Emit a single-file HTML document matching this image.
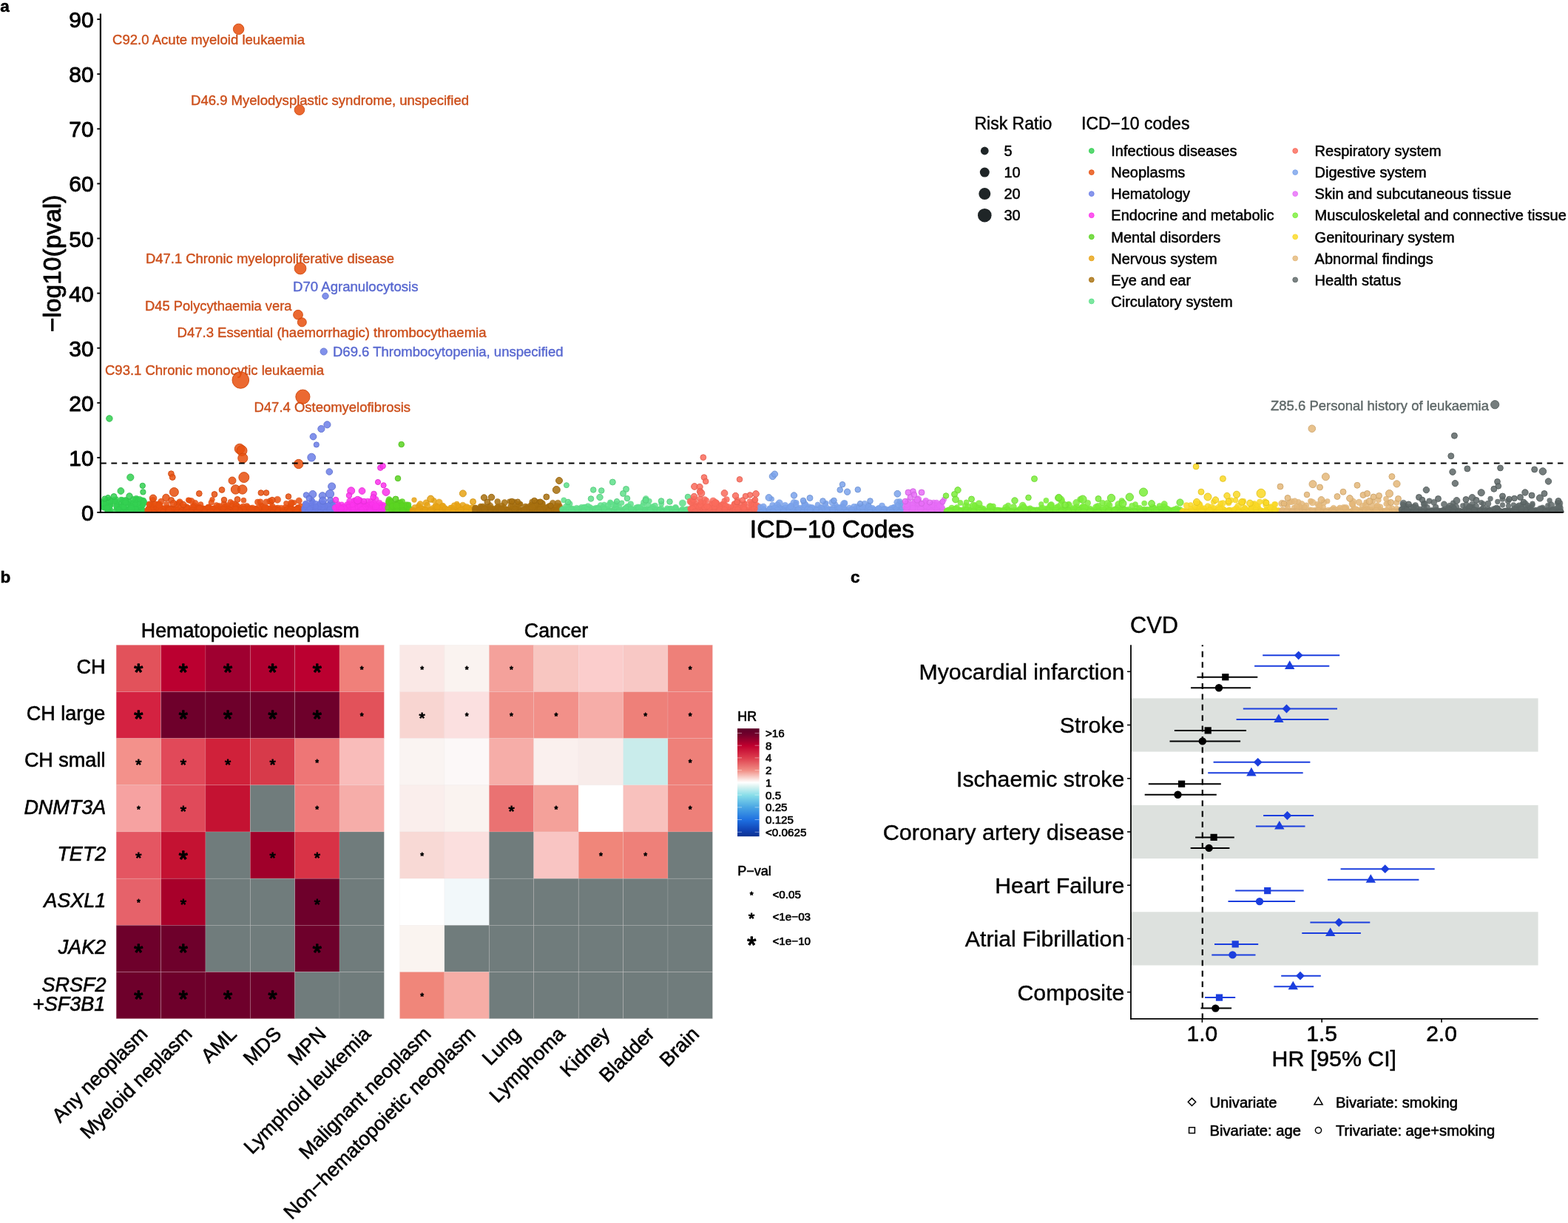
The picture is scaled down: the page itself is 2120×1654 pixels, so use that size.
<!DOCTYPE html>
<html lang="en">
<head>
<meta charset="utf-8">
<title>Clonal haematopoiesis: phenome-wide associations, neoplasm and CVD risk</title>
<style>
html,body{margin:0;padding:0;background:#fff;}
body{width:2120px;height:1654px;overflow:hidden;}
svg{display:block;font-family:"Liberation Sans", Arial, Helvetica, sans-serif;}
svg text{stroke:#000;stroke-linejoin:round;}
.p circle{fill-opacity:.86;stroke-opacity:.9;stroke-width:1;}
.q circle{fill-opacity:.86;stroke-opacity:.55;stroke-width:.8;}
</style>
</head>
<body>
<svg width="2120" height="1654" viewBox="0 0 2120 1654">
<rect width="2120" height="1654" fill="#fff"/>
<g id="panel-a">
<text x="0.2" y="15.7" font-size="22.5" stroke-width="0.50" font-weight="bold">a</text>
<text x="152.0" y="60.4" font-size="19" stroke-width="0.42" style="fill:#cc4f1b;stroke:#cc4f1b" textLength="260.0" lengthAdjust="spacingAndGlyphs">C92.0 Acute myeloid leukaemia</text>
<text x="258.0" y="141.5" font-size="19" stroke-width="0.42" style="fill:#cc4f1b;stroke:#cc4f1b" textLength="376.0" lengthAdjust="spacingAndGlyphs">D46.9 Myelodysplastic syndrome, unspecified</text>
<text x="197.0" y="356.4" font-size="19" stroke-width="0.42" style="fill:#cc4f1b;stroke:#cc4f1b" textLength="336.0" lengthAdjust="spacingAndGlyphs">D47.1 Chronic myeloproliferative disease</text>
<text x="396.0" y="394.4" font-size="19" stroke-width="0.42" style="fill:#5868d0;stroke:#5868d0" textLength="169.5" lengthAdjust="spacingAndGlyphs">D70 Agranulocytosis</text>
<text x="196.0" y="420.2" font-size="19" stroke-width="0.42" style="fill:#cc4f1b;stroke:#cc4f1b" textLength="198.5" lengthAdjust="spacingAndGlyphs">D45 Polycythaemia vera</text>
<text x="239.5" y="456.1" font-size="19" stroke-width="0.42" style="fill:#cc4f1b;stroke:#cc4f1b" textLength="418.0" lengthAdjust="spacingAndGlyphs">D47.3 Essential (haemorrhagic) thrombocythaemia</text>
<text x="450.0" y="482.0" font-size="19" stroke-width="0.42" style="fill:#5868d0;stroke:#5868d0" textLength="311.5" lengthAdjust="spacingAndGlyphs">D69.6 Thrombocytopenia, unspecified</text>
<text x="142.0" y="506.7" font-size="19" stroke-width="0.42" style="fill:#cc4f1b;stroke:#cc4f1b" textLength="296.0" lengthAdjust="spacingAndGlyphs">C93.1 Chronic monocytic leukaemia</text>
<text x="343.5" y="557.0" font-size="19" stroke-width="0.42" style="fill:#cc4f1b;stroke:#cc4f1b" textLength="211.5" lengthAdjust="spacingAndGlyphs">D47.4 Osteomyelofibrosis</text>
<text x="1718.0" y="554.8" font-size="19" stroke-width="0.42" style="fill:#5e6868;stroke:#5e6868" textLength="295.0" lengthAdjust="spacingAndGlyphs">Z85.6 Personal history of leukaemia</text>
<clipPath id="clipA"><rect x="136" y="0" width="1984" height="693"/></clipPath>
<g clip-path="url(#clipA)">
<g class="q" fill="#33d052" stroke="#30c74e">
<circle cx="157.1" cy="675.0" r="3.4"/>
<circle cx="185.0" cy="675.7" r="4.2"/>
<circle cx="151.0" cy="676.9" r="3.6"/>
<circle cx="144.1" cy="681.4" r="3.4"/>
<circle cx="192.1" cy="684.8" r="3.4"/>
<circle cx="171.3" cy="679.3" r="3.4"/>
<circle cx="170.2" cy="676.9" r="4.2"/>
<circle cx="145.6" cy="681.5" r="3.6"/>
<circle cx="144.8" cy="690.4" r="3.4"/>
<circle cx="169.7" cy="678.7" r="3.6"/>
<circle cx="166.8" cy="682.1" r="4"/>
<circle cx="171.8" cy="688.8" r="3.6"/>
<circle cx="178.1" cy="684.9" r="4.2"/>
<circle cx="166.7" cy="686.7" r="4.2"/>
<circle cx="193.9" cy="676.9" r="3.8"/>
<circle cx="147.5" cy="692.4" r="4.6"/>
<circle cx="143.3" cy="681.9" r="3.8"/>
<circle cx="158.0" cy="686.0" r="4"/>
<circle cx="142.9" cy="677.8" r="4.6"/>
<circle cx="176.2" cy="681.0" r="4.6"/>
<circle cx="185.0" cy="687.6" r="4.6"/>
<circle cx="158.4" cy="688.0" r="4.2"/>
<circle cx="145.6" cy="690.6" r="3.6"/>
<circle cx="161.3" cy="686.0" r="3.6"/>
<circle cx="164.2" cy="680.6" r="4"/>
<circle cx="187.4" cy="687.2" r="3.8"/>
<circle cx="177.2" cy="689.8" r="3.4"/>
<circle cx="148.9" cy="689.7" r="4"/>
<circle cx="185.5" cy="677.7" r="3.6"/>
<circle cx="162.5" cy="685.0" r="3.6"/>
<circle cx="177.7" cy="684.3" r="4.6"/>
<circle cx="180.4" cy="680.7" r="4.6"/>
<circle cx="183.7" cy="687.4" r="3.4"/>
<circle cx="166.0" cy="690.3" r="3.6"/>
<circle cx="163.7" cy="675.5" r="3.4"/>
<circle cx="139.0" cy="678.5" r="3.8"/>
<circle cx="173.4" cy="678.1" r="4"/>
<circle cx="147.3" cy="688.1" r="3.8"/>
<circle cx="165.6" cy="676.4" r="4"/>
<circle cx="165.9" cy="691.0" r="4.6"/>
<circle cx="158.2" cy="681.3" r="3.6"/>
<circle cx="167.9" cy="679.6" r="3.8"/>
<circle cx="147.2" cy="692.6" r="4.2"/>
<circle cx="155.7" cy="691.7" r="3.8"/>
<circle cx="168.0" cy="688.0" r="3.6"/>
<circle cx="168.8" cy="688.4" r="3.6"/>
<circle cx="173.3" cy="682.3" r="3.6"/>
<circle cx="184.1" cy="682.6" r="3.6"/>
<circle cx="150.2" cy="682.7" r="3.4"/>
<circle cx="183.2" cy="690.3" r="4.2"/>
<circle cx="192.6" cy="679.8" r="3.8"/>
<circle cx="192.5" cy="689.9" r="3.6"/>
<circle cx="165.3" cy="686.2" r="4.2"/>
<circle cx="186.1" cy="683.8" r="4.6"/>
<circle cx="143.7" cy="680.2" r="4.6"/>
<circle cx="181.0" cy="690.5" r="4.6"/>
<circle cx="157.6" cy="679.3" r="4"/>
<circle cx="164.9" cy="691.8" r="3.6"/>
<circle cx="148.5" cy="678.3" r="4"/>
<circle cx="184.2" cy="674.8" r="4.6"/>
<circle cx="191.5" cy="676.0" r="3.4"/>
<circle cx="139.8" cy="683.9" r="4.2"/>
<circle cx="181.0" cy="689.4" r="3.6"/>
<circle cx="140.6" cy="685.9" r="4.2"/>
<circle cx="157.3" cy="681.3" r="3.4"/>
<circle cx="190.0" cy="686.5" r="4.2"/>
<circle cx="184.6" cy="681.4" r="4.2"/>
<circle cx="146.3" cy="676.3" r="4"/>
<circle cx="182.5" cy="682.1" r="3.6"/>
<circle cx="148.7" cy="682.8" r="4.2"/>
<circle cx="142.5" cy="685.5" r="4"/>
<circle cx="182.9" cy="675.9" r="3.6"/>
<circle cx="149.7" cy="678.5" r="4"/>
<circle cx="170.5" cy="680.2" r="4"/>
<circle cx="157.2" cy="684.5" r="3.6"/>
<circle cx="177.8" cy="685.5" r="4"/>
<circle cx="167.4" cy="685.6" r="3.8"/>
<circle cx="190.7" cy="690.1" r="4"/>
<circle cx="146.7" cy="676.8" r="3.4"/>
<circle cx="176.6" cy="690.0" r="3.8"/>
<circle cx="182.9" cy="690.8" r="4.6"/>
<circle cx="175.0" cy="689.4" r="3.6"/>
<circle cx="193.2" cy="679.6" r="4"/>
<circle cx="188.6" cy="674.8" r="3.6"/>
<circle cx="148.0" cy="685.7" r="3.8"/>
<circle cx="162.6" cy="691.7" r="3.8"/>
<circle cx="140.1" cy="686.8" r="3.4"/>
<circle cx="160.5" cy="688.8" r="3.4"/>
<circle cx="145.3" cy="689.8" r="3.4"/>
<circle cx="143.7" cy="680.2" r="3.6"/>
<circle cx="154.1" cy="676.9" r="4.6"/>
<circle cx="184.9" cy="690.9" r="4.2"/>
<circle cx="171.0" cy="691.7" r="3.4"/>
<circle cx="183.8" cy="688.0" r="3.4"/>
<circle cx="174.5" cy="691.8" r="3.6"/>
<circle cx="142.7" cy="686.6" r="3.8"/>
<circle cx="194.7" cy="680.1" r="4.2"/>
<circle cx="146.2" cy="689.6" r="3.4"/>
<circle cx="193.3" cy="690.4" r="3.8"/>
<circle cx="174.2" cy="690.1" r="4"/>
<circle cx="167.0" cy="677.3" r="3.4"/>
<circle cx="194.7" cy="678.9" r="4.2"/>
<circle cx="169.9" cy="676.5" r="4"/>
<circle cx="145.0" cy="686.9" r="4"/>
<circle cx="169.6" cy="679.3" r="3.8"/>
<circle cx="177.5" cy="688.2" r="4.6"/>
<circle cx="179.8" cy="674.8" r="3.6"/>
<circle cx="139.8" cy="680.6" r="4"/>
<circle cx="148.1" cy="676.9" r="4.6"/>
<circle cx="193.4" cy="683.2" r="3.4"/>
</g>
<g class="p" fill="#33d052" stroke="#2dbb49">
<circle cx="147.9" cy="566.0" r="4.2"/>
<circle cx="176.3" cy="645.6" r="4.6"/>
<circle cx="192.8" cy="656.9" r="3.7"/>
<circle cx="193.4" cy="665.4" r="3.7"/>
<circle cx="163.4" cy="664.0" r="4.4"/>
<circle cx="154.0" cy="671.5" r="4"/>
<circle cx="146.0" cy="673.0" r="3.6"/>
<circle cx="141.5" cy="674.5" r="3.6"/>
<circle cx="175.0" cy="671.0" r="4.2"/>
</g>
<g class="q" fill="#e8500f" stroke="#de4c0e">
<circle cx="294.9" cy="684.8" r="3.8"/>
<circle cx="274.8" cy="687.5" r="3.8"/>
<circle cx="249.6" cy="691.3" r="3.8"/>
<circle cx="236.6" cy="692.5" r="3.8"/>
<circle cx="304.1" cy="684.3" r="3.4"/>
<circle cx="217.2" cy="692.2" r="4.2"/>
<circle cx="206.8" cy="685.8" r="3.6"/>
<circle cx="215.8" cy="688.3" r="3.6"/>
<circle cx="336.7" cy="688.1" r="4"/>
<circle cx="359.3" cy="690.3" r="3.8"/>
<circle cx="350.8" cy="692.8" r="4.6"/>
<circle cx="386.2" cy="688.9" r="4.2"/>
<circle cx="227.4" cy="690.2" r="3.4"/>
<circle cx="372.4" cy="688.0" r="4.6"/>
<circle cx="399.7" cy="692.5" r="3.4"/>
<circle cx="226.1" cy="692.4" r="4"/>
<circle cx="315.8" cy="689.5" r="4.6"/>
<circle cx="249.6" cy="690.5" r="3.4"/>
<circle cx="355.9" cy="690.0" r="4.6"/>
<circle cx="309.0" cy="690.4" r="3.4"/>
<circle cx="376.5" cy="688.8" r="3.6"/>
<circle cx="354.1" cy="690.3" r="4"/>
<circle cx="214.2" cy="691.4" r="3.4"/>
<circle cx="328.2" cy="692.6" r="3.6"/>
<circle cx="268.0" cy="689.1" r="4.2"/>
<circle cx="317.8" cy="687.2" r="3.8"/>
<circle cx="403.2" cy="686.4" r="4"/>
<circle cx="259.4" cy="690.4" r="4"/>
<circle cx="359.9" cy="689.9" r="3.8"/>
<circle cx="404.4" cy="692.9" r="4"/>
<circle cx="214.1" cy="687.5" r="3.8"/>
<circle cx="279.6" cy="687.8" r="3.4"/>
<circle cx="320.7" cy="684.1" r="3.8"/>
<circle cx="226.0" cy="690.2" r="3.4"/>
<circle cx="346.4" cy="688.0" r="4"/>
<circle cx="281.2" cy="686.2" r="4"/>
<circle cx="261.7" cy="685.6" r="3.8"/>
<circle cx="223.5" cy="691.2" r="3.8"/>
<circle cx="375.1" cy="675.8" r="4.6"/>
<circle cx="200.5" cy="691.6" r="3.4"/>
<circle cx="280.9" cy="689.7" r="3.8"/>
<circle cx="393.3" cy="688.3" r="3.8"/>
<circle cx="219.5" cy="691.4" r="3.6"/>
<circle cx="250.6" cy="690.2" r="3.6"/>
<circle cx="361.1" cy="690.6" r="3.4"/>
<circle cx="369.3" cy="687.9" r="4.2"/>
<circle cx="313.9" cy="692.7" r="4.6"/>
<circle cx="284.7" cy="692.2" r="3.8"/>
<circle cx="300.5" cy="689.9" r="3.6"/>
<circle cx="297.6" cy="691.3" r="4.6"/>
<circle cx="353.9" cy="690.7" r="3.6"/>
<circle cx="261.5" cy="690.8" r="3.6"/>
<circle cx="333.7" cy="684.4" r="4"/>
<circle cx="314.1" cy="691.2" r="4"/>
<circle cx="288.2" cy="691.6" r="3.6"/>
<circle cx="270.2" cy="686.2" r="3.8"/>
<circle cx="368.8" cy="687.4" r="4"/>
<circle cx="278.8" cy="691.8" r="3.8"/>
<circle cx="269.4" cy="686.0" r="3.8"/>
<circle cx="224.6" cy="689.5" r="3.6"/>
<circle cx="217.5" cy="690.9" r="4.6"/>
<circle cx="292.1" cy="688.3" r="3.4"/>
<circle cx="224.8" cy="688.8" r="4"/>
<circle cx="402.3" cy="692.6" r="4.2"/>
<circle cx="378.5" cy="691.6" r="3.4"/>
<circle cx="245.2" cy="691.9" r="4.6"/>
<circle cx="345.9" cy="688.0" r="3.4"/>
<circle cx="314.4" cy="680.7" r="3.6"/>
<circle cx="318.1" cy="681.9" r="3.6"/>
<circle cx="330.2" cy="690.6" r="3.4"/>
<circle cx="219.0" cy="687.8" r="3.6"/>
<circle cx="279.9" cy="689.7" r="3.4"/>
<circle cx="311.4" cy="691.5" r="3.8"/>
<circle cx="334.0" cy="690.4" r="3.6"/>
<circle cx="313.4" cy="685.1" r="4.6"/>
<circle cx="262.9" cy="684.4" r="4.6"/>
<circle cx="334.6" cy="686.3" r="4"/>
<circle cx="393.2" cy="692.8" r="3.8"/>
<circle cx="349.6" cy="690.8" r="3.4"/>
<circle cx="366.2" cy="690.2" r="3.6"/>
<circle cx="302.6" cy="681.0" r="3.6"/>
<circle cx="246.7" cy="688.8" r="3.8"/>
<circle cx="221.0" cy="689.6" r="3.6"/>
<circle cx="300.3" cy="692.7" r="4.2"/>
<circle cx="228.9" cy="691.8" r="4.2"/>
<circle cx="227.9" cy="687.2" r="4"/>
<circle cx="292.9" cy="691.3" r="3.4"/>
<circle cx="408.5" cy="691.2" r="3.6"/>
<circle cx="335.7" cy="690.4" r="3.8"/>
<circle cx="338.2" cy="690.9" r="3.8"/>
<circle cx="291.4" cy="687.1" r="3.4"/>
<circle cx="272.2" cy="692.3" r="3.6"/>
<circle cx="278.2" cy="691.3" r="4"/>
<circle cx="216.5" cy="691.9" r="4.2"/>
<circle cx="392.0" cy="685.4" r="4"/>
<circle cx="204.4" cy="688.5" r="4"/>
<circle cx="206.6" cy="687.2" r="3.4"/>
<circle cx="252.2" cy="688.0" r="3.8"/>
<circle cx="274.6" cy="687.7" r="3.4"/>
<circle cx="253.3" cy="691.2" r="3.8"/>
<circle cx="260.8" cy="689.7" r="4.6"/>
<circle cx="397.7" cy="679.7" r="3.4"/>
<circle cx="298.3" cy="687.7" r="4"/>
<circle cx="364.6" cy="688.5" r="3.6"/>
<circle cx="393.8" cy="680.2" r="4.6"/>
<circle cx="262.0" cy="692.2" r="3.6"/>
<circle cx="267.2" cy="691.0" r="4.2"/>
<circle cx="214.7" cy="681.2" r="3.6"/>
<circle cx="284.0" cy="690.3" r="4.2"/>
<circle cx="266.7" cy="688.1" r="3.4"/>
<circle cx="253.9" cy="687.0" r="4"/>
<circle cx="406.6" cy="692.0" r="3.6"/>
<circle cx="286.0" cy="689.3" r="4.6"/>
<circle cx="311.6" cy="688.8" r="3.8"/>
<circle cx="260.0" cy="690.9" r="4.6"/>
<circle cx="252.9" cy="692.0" r="3.6"/>
<circle cx="230.4" cy="689.8" r="3.8"/>
<circle cx="211.7" cy="691.6" r="4.2"/>
<circle cx="246.8" cy="689.4" r="3.4"/>
<circle cx="219.6" cy="688.4" r="4"/>
<circle cx="390.9" cy="685.9" r="3.4"/>
<circle cx="208.6" cy="688.4" r="3.6"/>
<circle cx="394.3" cy="688.2" r="4"/>
<circle cx="325.2" cy="689.3" r="3.4"/>
<circle cx="220.3" cy="689.6" r="3.6"/>
<circle cx="205.9" cy="692.8" r="3.8"/>
<circle cx="206.1" cy="687.9" r="3.4"/>
<circle cx="370.8" cy="690.9" r="4.2"/>
<circle cx="263.9" cy="680.4" r="4.2"/>
<circle cx="300.0" cy="688.6" r="4.6"/>
<circle cx="314.1" cy="692.5" r="3.6"/>
<circle cx="281.9" cy="687.5" r="4.6"/>
<circle cx="262.9" cy="691.3" r="4.2"/>
<circle cx="384.5" cy="692.9" r="3.8"/>
<circle cx="334.0" cy="690.7" r="3.4"/>
<circle cx="289.6" cy="686.9" r="3.4"/>
<circle cx="283.7" cy="690.4" r="3.6"/>
<circle cx="225.4" cy="686.8" r="4"/>
<circle cx="216.8" cy="690.9" r="4.2"/>
<circle cx="234.2" cy="692.1" r="3.6"/>
<circle cx="393.3" cy="684.4" r="3.6"/>
<circle cx="261.6" cy="692.8" r="4"/>
<circle cx="264.4" cy="689.5" r="3.4"/>
<circle cx="388.8" cy="688.4" r="3.6"/>
<circle cx="333.1" cy="689.5" r="4.2"/>
<circle cx="376.6" cy="692.0" r="3.6"/>
<circle cx="206.8" cy="692.1" r="3.8"/>
<circle cx="224.0" cy="689.0" r="3.6"/>
<circle cx="206.7" cy="688.8" r="3.4"/>
<circle cx="338.9" cy="690.8" r="4"/>
<circle cx="314.1" cy="691.3" r="4"/>
<circle cx="263.0" cy="690.8" r="3.8"/>
<circle cx="292.3" cy="692.9" r="4.2"/>
<circle cx="406.1" cy="690.5" r="4.2"/>
<circle cx="362.6" cy="692.0" r="4"/>
<circle cx="282.5" cy="685.5" r="3.8"/>
<circle cx="217.4" cy="690.2" r="3.4"/>
<circle cx="206.6" cy="676.1" r="3.8"/>
<circle cx="362.1" cy="692.7" r="4.2"/>
<circle cx="386.8" cy="688.6" r="3.4"/>
<circle cx="378.8" cy="688.9" r="3.4"/>
<circle cx="238.9" cy="690.3" r="3.6"/>
<circle cx="342.8" cy="691.8" r="3.8"/>
<circle cx="326.8" cy="691.2" r="4.2"/>
<circle cx="256.0" cy="692.2" r="4.2"/>
<circle cx="401.5" cy="689.7" r="4.2"/>
<circle cx="304.8" cy="692.8" r="3.6"/>
<circle cx="283.1" cy="691.5" r="3.8"/>
<circle cx="386.9" cy="680.6" r="3.4"/>
<circle cx="360.1" cy="678.8" r="4"/>
<circle cx="315.1" cy="688.1" r="3.4"/>
<circle cx="251.2" cy="688.2" r="4.6"/>
<circle cx="366.3" cy="687.5" r="4.2"/>
<circle cx="228.8" cy="692.5" r="3.6"/>
<circle cx="235.3" cy="692.7" r="4.2"/>
<circle cx="251.5" cy="687.5" r="4.2"/>
<circle cx="393.9" cy="688.9" r="4.6"/>
<circle cx="205.1" cy="683.2" r="4"/>
<circle cx="286.1" cy="692.7" r="4"/>
<circle cx="246.0" cy="692.9" r="3.4"/>
<circle cx="317.7" cy="690.1" r="4.2"/>
<circle cx="245.3" cy="689.7" r="3.6"/>
<circle cx="275.3" cy="692.1" r="3.4"/>
<circle cx="395.6" cy="692.2" r="3.4"/>
<circle cx="211.4" cy="682.6" r="3.8"/>
<circle cx="282.8" cy="692.9" r="4.6"/>
<circle cx="371.2" cy="689.7" r="4.2"/>
<circle cx="291.6" cy="688.9" r="3.6"/>
<circle cx="232.8" cy="687.2" r="3.4"/>
<circle cx="283.7" cy="692.7" r="3.4"/>
<circle cx="200.6" cy="687.8" r="3.6"/>
<circle cx="285.2" cy="689.4" r="4.6"/>
<circle cx="333.4" cy="692.0" r="3.8"/>
<circle cx="211.5" cy="687.5" r="4.6"/>
<circle cx="363.2" cy="693.0" r="4"/>
<circle cx="355.2" cy="688.9" r="4"/>
<circle cx="235.0" cy="691.5" r="4.6"/>
<circle cx="206.2" cy="688.8" r="4.6"/>
<circle cx="396.9" cy="692.7" r="4.6"/>
<circle cx="314.8" cy="688.6" r="4.2"/>
<circle cx="403.1" cy="687.8" r="3.6"/>
<circle cx="216.0" cy="692.1" r="3.6"/>
<circle cx="375.6" cy="686.7" r="3.8"/>
<circle cx="238.5" cy="689.7" r="4"/>
<circle cx="389.5" cy="689.1" r="4.6"/>
<circle cx="375.6" cy="690.4" r="4.2"/>
<circle cx="345.2" cy="690.6" r="4.6"/>
<circle cx="247.3" cy="688.6" r="4"/>
<circle cx="329.4" cy="676.7" r="3.6"/>
<circle cx="204.9" cy="683.1" r="3.6"/>
<circle cx="270.8" cy="687.3" r="3.4"/>
<circle cx="227.2" cy="692.8" r="3.4"/>
<circle cx="353.5" cy="683.5" r="3.8"/>
<circle cx="240.1" cy="690.0" r="4.6"/>
<circle cx="211.9" cy="687.9" r="4"/>
<circle cx="220.6" cy="686.9" r="3.4"/>
<circle cx="398.3" cy="688.8" r="3.4"/>
<circle cx="372.1" cy="691.4" r="3.4"/>
<circle cx="226.0" cy="689.4" r="3.8"/>
<circle cx="265.3" cy="692.9" r="3.8"/>
<circle cx="394.3" cy="681.1" r="3.8"/>
<circle cx="360.3" cy="690.4" r="3.8"/>
<circle cx="328.5" cy="685.1" r="4"/>
<circle cx="307.4" cy="684.6" r="3.4"/>
<circle cx="311.5" cy="678.6" r="3.4"/>
<circle cx="319.2" cy="690.6" r="4.2"/>
<circle cx="240.6" cy="687.6" r="3.4"/>
<circle cx="271.4" cy="682.2" r="3.6"/>
<circle cx="402.1" cy="687.7" r="4.2"/>
<circle cx="253.0" cy="691.4" r="3.6"/>
<circle cx="396.0" cy="692.1" r="4.6"/>
<circle cx="359.8" cy="687.5" r="4.2"/>
<circle cx="364.0" cy="691.0" r="4"/>
<circle cx="393.9" cy="688.9" r="4"/>
<circle cx="385.5" cy="686.4" r="3.8"/>
<circle cx="288.3" cy="692.0" r="4.6"/>
<circle cx="247.3" cy="690.0" r="4.6"/>
<circle cx="356.9" cy="691.1" r="3.8"/>
<circle cx="308.1" cy="690.5" r="4.2"/>
<circle cx="354.6" cy="684.9" r="3.8"/>
<circle cx="320.2" cy="684.7" r="4.6"/>
<circle cx="248.2" cy="685.8" r="4.6"/>
<circle cx="372.4" cy="689.0" r="3.6"/>
<circle cx="350.6" cy="691.1" r="3.6"/>
<circle cx="267.2" cy="685.7" r="3.4"/>
<circle cx="232.7" cy="691.9" r="3.6"/>
<circle cx="405.6" cy="688.9" r="4"/>
<circle cx="255.8" cy="676.7" r="3.8"/>
<circle cx="241.6" cy="692.8" r="4"/>
<circle cx="378.3" cy="691.8" r="4.6"/>
<circle cx="260.5" cy="686.1" r="4.6"/>
<circle cx="283.4" cy="688.0" r="4"/>
<circle cx="345.9" cy="689.4" r="3.6"/>
<circle cx="338.9" cy="688.1" r="4.6"/>
<circle cx="345.7" cy="689.2" r="4.6"/>
<circle cx="224.2" cy="691.6" r="4.6"/>
<circle cx="218.6" cy="688.7" r="4.6"/>
<circle cx="348.4" cy="679.0" r="4"/>
<circle cx="294.0" cy="690.7" r="4.6"/>
<circle cx="337.5" cy="688.0" r="3.8"/>
<circle cx="362.2" cy="690.3" r="3.4"/>
<circle cx="206.0" cy="692.1" r="3.6"/>
<circle cx="307.6" cy="683.6" r="4.2"/>
<circle cx="241.3" cy="692.9" r="3.8"/>
<circle cx="308.1" cy="687.7" r="3.6"/>
<circle cx="406.9" cy="684.2" r="3.4"/>
<circle cx="351.8" cy="689.5" r="3.8"/>
<circle cx="255.9" cy="692.9" r="4"/>
<circle cx="391.2" cy="689.2" r="4.2"/>
<circle cx="253.9" cy="688.9" r="4.2"/>
<circle cx="403.0" cy="687.7" r="4"/>
<circle cx="242.7" cy="680.8" r="4.6"/>
<circle cx="238.8" cy="689.0" r="3.6"/>
<circle cx="272.5" cy="688.4" r="4"/>
<circle cx="296.8" cy="690.0" r="3.6"/>
<circle cx="362.5" cy="688.6" r="3.6"/>
<circle cx="254.4" cy="691.6" r="4"/>
<circle cx="341.2" cy="688.5" r="3.8"/>
<circle cx="273.5" cy="691.2" r="4"/>
<circle cx="288.4" cy="689.3" r="3.8"/>
<circle cx="230.2" cy="690.9" r="3.4"/>
<circle cx="372.7" cy="688.6" r="3.6"/>
<circle cx="310.0" cy="689.8" r="4.6"/>
<circle cx="200.4" cy="689.4" r="3.8"/>
<circle cx="326.3" cy="688.3" r="3.6"/>
<circle cx="361.8" cy="692.2" r="4"/>
<circle cx="365.0" cy="677.6" r="4.2"/>
<circle cx="404.2" cy="677.1" r="4.2"/>
<circle cx="364.3" cy="691.9" r="4.6"/>
<circle cx="243.0" cy="679.3" r="4.6"/>
<circle cx="384.2" cy="691.5" r="3.6"/>
<circle cx="372.5" cy="689.9" r="4"/>
<circle cx="296.6" cy="684.4" r="4"/>
<circle cx="232.7" cy="688.9" r="3.6"/>
<circle cx="375.4" cy="689.9" r="4.6"/>
<circle cx="260.6" cy="690.6" r="4.6"/>
<circle cx="213.9" cy="689.5" r="3.4"/>
<circle cx="202.3" cy="681.5" r="3.8"/>
<circle cx="368.6" cy="684.5" r="3.6"/>
<circle cx="205.2" cy="689.5" r="3.8"/>
<circle cx="217.9" cy="691.1" r="4.2"/>
<circle cx="314.9" cy="691.4" r="3.8"/>
<circle cx="287.1" cy="688.4" r="3.8"/>
<circle cx="272.9" cy="691.1" r="3.8"/>
<circle cx="382.2" cy="691.9" r="4"/>
<circle cx="365.1" cy="691.2" r="3.8"/>
<circle cx="224.9" cy="692.5" r="3.4"/>
<circle cx="282.2" cy="690.7" r="4.2"/>
<circle cx="208.5" cy="693.0" r="3.6"/>
<circle cx="371.4" cy="688.7" r="3.4"/>
<circle cx="364.5" cy="689.6" r="4.2"/>
<circle cx="229.0" cy="689.2" r="4.6"/>
<circle cx="215.5" cy="683.0" r="4.6"/>
<circle cx="358.9" cy="686.6" r="3.4"/>
<circle cx="287.0" cy="675.6" r="3.4"/>
<circle cx="275.8" cy="688.6" r="4.2"/>
<circle cx="347.8" cy="692.0" r="3.4"/>
<circle cx="265.2" cy="689.4" r="3.4"/>
<circle cx="303.0" cy="688.4" r="4"/>
<circle cx="319.4" cy="690.5" r="3.4"/>
<circle cx="341.5" cy="687.5" r="4.6"/>
<circle cx="404.9" cy="690.7" r="3.4"/>
<circle cx="215.5" cy="688.0" r="4.6"/>
<circle cx="201.3" cy="682.3" r="3.4"/>
<circle cx="406.2" cy="691.8" r="3.4"/>
<circle cx="225.2" cy="681.8" r="3.6"/>
<circle cx="293.1" cy="687.9" r="3.8"/>
<circle cx="361.3" cy="688.2" r="4.6"/>
<circle cx="358.2" cy="689.9" r="4"/>
<circle cx="295.2" cy="691.6" r="3.4"/>
<circle cx="349.3" cy="687.4" r="4.6"/>
<circle cx="342.9" cy="690.8" r="3.8"/>
<circle cx="351.9" cy="678.7" r="4"/>
<circle cx="326.5" cy="687.7" r="4.6"/>
<circle cx="290.6" cy="692.2" r="3.4"/>
<circle cx="274.6" cy="689.5" r="4"/>
<circle cx="298.6" cy="690.5" r="3.8"/>
<circle cx="363.6" cy="691.4" r="3.4"/>
<circle cx="329.2" cy="688.5" r="4.2"/>
<circle cx="268.1" cy="687.6" r="3.6"/>
<circle cx="324.8" cy="690.6" r="3.6"/>
<circle cx="277.5" cy="689.7" r="3.6"/>
<circle cx="368.4" cy="693.0" r="3.8"/>
<circle cx="254.6" cy="676.2" r="3.4"/>
<circle cx="258.9" cy="677.6" r="4.2"/>
<circle cx="229.0" cy="688.6" r="4.2"/>
<circle cx="342.5" cy="691.1" r="3.4"/>
<circle cx="311.9" cy="690.9" r="4.6"/>
<circle cx="394.6" cy="689.6" r="4.6"/>
<circle cx="281.4" cy="687.9" r="4.2"/>
<circle cx="356.5" cy="690.4" r="3.4"/>
<circle cx="311.1" cy="692.7" r="4"/>
<circle cx="320.3" cy="688.1" r="4.2"/>
<circle cx="265.7" cy="691.9" r="3.6"/>
<circle cx="238.6" cy="682.1" r="3.8"/>
<circle cx="319.9" cy="688.7" r="3.6"/>
<circle cx="250.0" cy="690.3" r="3.4"/>
<circle cx="276.4" cy="692.5" r="3.8"/>
<circle cx="324.0" cy="690.1" r="3.4"/>
<circle cx="217.9" cy="678.3" r="4.2"/>
<circle cx="300.6" cy="691.5" r="3.8"/>
<circle cx="287.9" cy="688.7" r="4.2"/>
<circle cx="401.3" cy="692.8" r="3.6"/>
<circle cx="407.9" cy="692.8" r="3.4"/>
<circle cx="315.6" cy="690.5" r="3.4"/>
<circle cx="380.1" cy="687.9" r="4.6"/>
<circle cx="400.4" cy="689.9" r="4.6"/>
<circle cx="216.9" cy="690.2" r="3.6"/>
<circle cx="292.6" cy="683.1" r="3.6"/>
<circle cx="234.3" cy="687.8" r="3.4"/>
<circle cx="388.5" cy="688.3" r="3.4"/>
<circle cx="252.4" cy="688.9" r="4"/>
<circle cx="209.8" cy="681.2" r="3.6"/>
<circle cx="340.8" cy="689.7" r="4.6"/>
<circle cx="220.2" cy="691.6" r="3.4"/>
<circle cx="277.1" cy="690.5" r="3.6"/>
<circle cx="390.9" cy="690.4" r="3.6"/>
<circle cx="366.6" cy="679.5" r="3.4"/>
<circle cx="395.1" cy="688.1" r="3.6"/>
<circle cx="362.2" cy="687.9" r="4"/>
<circle cx="375.7" cy="690.5" r="3.8"/>
<circle cx="266.1" cy="692.4" r="3.8"/>
<circle cx="228.1" cy="692.7" r="4.6"/>
<circle cx="293.2" cy="690.6" r="3.6"/>
<circle cx="254.2" cy="692.1" r="3.8"/>
<circle cx="318.5" cy="688.5" r="3.8"/>
<circle cx="301.6" cy="688.0" r="3.4"/>
<circle cx="230.4" cy="689.5" r="4.6"/>
<circle cx="393.2" cy="688.4" r="3.4"/>
<circle cx="252.4" cy="685.4" r="3.8"/>
<circle cx="408.6" cy="692.5" r="3.8"/>
<circle cx="285.7" cy="679.5" r="3.8"/>
<circle cx="228.5" cy="690.5" r="4.2"/>
<circle cx="269.9" cy="687.4" r="4.2"/>
<circle cx="258.4" cy="692.8" r="4"/>
<circle cx="244.1" cy="692.2" r="3.6"/>
<circle cx="308.1" cy="692.0" r="4.2"/>
<circle cx="214.7" cy="683.3" r="4"/>
<circle cx="358.6" cy="686.8" r="4.6"/>
<circle cx="347.3" cy="689.8" r="3.6"/>
<circle cx="200.1" cy="690.1" r="4.6"/>
<circle cx="391.3" cy="691.1" r="3.8"/>
<circle cx="375.6" cy="690.3" r="3.4"/>
<circle cx="284.4" cy="692.3" r="4.6"/>
</g>
<g class="p" fill="#e8500f" stroke="#d0480d">
<circle cx="322.6" cy="39.4" r="7.2"/>
<circle cx="404.9" cy="148.6" r="6.8"/>
<circle cx="406.0" cy="363.0" r="7.9"/>
<circle cx="403.0" cy="425.7" r="6.4"/>
<circle cx="408.3" cy="435.8" r="6"/>
<circle cx="325.3" cy="514.0" r="11.3"/>
<circle cx="409.4" cy="536.6" r="9.6"/>
<circle cx="324.0" cy="607.0" r="6.8"/>
<circle cx="327.0" cy="609.5" r="7"/>
<circle cx="328.3" cy="619.6" r="6.6"/>
<circle cx="403.7" cy="627.5" r="6.2"/>
<circle cx="329.8" cy="645.6" r="7"/>
<circle cx="314.0" cy="650.0" r="5"/>
<circle cx="318.5" cy="662.0" r="6.2"/>
<circle cx="327.8" cy="662.0" r="6.2"/>
<circle cx="231.4" cy="640.7" r="3.9"/>
<circle cx="233.2" cy="645.4" r="4"/>
<circle cx="235.4" cy="665.5" r="6"/>
<circle cx="207.0" cy="673.8" r="4.8"/>
<circle cx="224.5" cy="673.0" r="4.8"/>
<circle cx="231.5" cy="676.5" r="4"/>
<circle cx="234.5" cy="681.0" r="4.6"/>
<circle cx="269.3" cy="667.5" r="3.9"/>
<circle cx="290.0" cy="668.5" r="3.9"/>
<circle cx="300.0" cy="662.5" r="3.9"/>
<circle cx="352.8" cy="666.5" r="3.8"/>
<circle cx="360.0" cy="666.5" r="3.8"/>
<circle cx="368.0" cy="676.5" r="4.2"/>
<circle cx="390.0" cy="671.5" r="3.8"/>
<circle cx="321.0" cy="675.5" r="4"/>
<circle cx="247.8" cy="682.5" r="4.2"/>
<circle cx="303.0" cy="676.0" r="3.8"/>
</g>
<g class="q" fill="#6c7fe8" stroke="#6779de">
<circle cx="421.7" cy="676.9" r="3.8"/>
<circle cx="412.5" cy="688.3" r="3.4"/>
<circle cx="425.2" cy="685.1" r="3.4"/>
<circle cx="415.8" cy="686.3" r="3.8"/>
<circle cx="442.2" cy="688.3" r="3.4"/>
<circle cx="422.7" cy="679.0" r="4"/>
<circle cx="431.5" cy="688.6" r="3.4"/>
<circle cx="420.7" cy="680.6" r="3.6"/>
<circle cx="415.1" cy="686.3" r="3.4"/>
<circle cx="411.8" cy="687.0" r="3.8"/>
<circle cx="411.7" cy="688.3" r="4.2"/>
<circle cx="420.5" cy="690.1" r="3.4"/>
<circle cx="439.7" cy="684.3" r="4"/>
<circle cx="434.4" cy="692.1" r="3.4"/>
<circle cx="427.2" cy="680.9" r="3.6"/>
<circle cx="416.9" cy="686.9" r="3.6"/>
<circle cx="448.9" cy="680.4" r="4.6"/>
<circle cx="427.8" cy="688.7" r="4"/>
<circle cx="449.8" cy="682.8" r="4"/>
<circle cx="420.6" cy="689.4" r="4.2"/>
<circle cx="443.2" cy="686.4" r="4.2"/>
<circle cx="413.1" cy="685.2" r="3.8"/>
<circle cx="421.0" cy="687.8" r="3.8"/>
<circle cx="415.4" cy="683.1" r="3.6"/>
<circle cx="431.2" cy="684.2" r="4"/>
<circle cx="442.1" cy="687.8" r="3.4"/>
<circle cx="412.4" cy="690.8" r="4.6"/>
<circle cx="435.9" cy="686.4" r="3.4"/>
<circle cx="435.9" cy="688.8" r="4"/>
<circle cx="420.5" cy="684.3" r="3.8"/>
<circle cx="436.9" cy="680.8" r="4.2"/>
<circle cx="447.1" cy="680.9" r="3.6"/>
<circle cx="428.6" cy="685.8" r="4"/>
<circle cx="434.1" cy="687.0" r="4.6"/>
<circle cx="432.9" cy="688.0" r="4.2"/>
<circle cx="419.9" cy="688.5" r="3.8"/>
<circle cx="429.4" cy="688.0" r="4"/>
<circle cx="443.8" cy="683.0" r="3.6"/>
<circle cx="431.5" cy="688.2" r="3.4"/>
<circle cx="448.0" cy="688.9" r="3.8"/>
<circle cx="430.7" cy="685.0" r="3.8"/>
<circle cx="413.3" cy="681.3" r="4.2"/>
<circle cx="445.9" cy="692.5" r="4"/>
<circle cx="444.4" cy="686.8" r="4.2"/>
<circle cx="420.0" cy="687.0" r="3.6"/>
<circle cx="427.7" cy="691.9" r="3.6"/>
<circle cx="435.7" cy="686.3" r="4.2"/>
<circle cx="414.8" cy="685.5" r="4"/>
<circle cx="421.7" cy="687.8" r="4.6"/>
<circle cx="416.1" cy="693.0" r="4.2"/>
<circle cx="434.4" cy="685.2" r="4.2"/>
<circle cx="417.0" cy="690.7" r="4.2"/>
<circle cx="435.3" cy="689.3" r="4"/>
<circle cx="422.5" cy="690.1" r="4.2"/>
<circle cx="433.2" cy="690.4" r="4.6"/>
<circle cx="445.0" cy="689.4" r="3.6"/>
<circle cx="432.5" cy="689.4" r="4"/>
<circle cx="434.3" cy="688.9" r="4.2"/>
<circle cx="444.5" cy="691.3" r="4"/>
<circle cx="446.7" cy="692.8" r="3.8"/>
<circle cx="433.6" cy="685.5" r="3.8"/>
<circle cx="432.5" cy="688.8" r="4.2"/>
<circle cx="440.1" cy="689.2" r="3.4"/>
<circle cx="434.8" cy="685.3" r="4.6"/>
<circle cx="413.7" cy="682.5" r="4.2"/>
<circle cx="427.0" cy="688.3" r="3.6"/>
<circle cx="449.6" cy="689.4" r="4.2"/>
<circle cx="447.0" cy="687.4" r="4.6"/>
<circle cx="443.6" cy="683.1" r="3.4"/>
<circle cx="444.0" cy="692.1" r="3.8"/>
<circle cx="438.6" cy="684.9" r="4"/>
<circle cx="436.2" cy="686.3" r="3.6"/>
<circle cx="431.2" cy="684.0" r="4.6"/>
<circle cx="433.6" cy="681.1" r="4.6"/>
<circle cx="436.5" cy="682.5" r="3.4"/>
<circle cx="423.3" cy="693.0" r="3.8"/>
<circle cx="426.9" cy="684.8" r="3.4"/>
<circle cx="418.9" cy="688.5" r="3.8"/>
<circle cx="445.8" cy="688.8" r="3.6"/>
</g>
<g class="p" fill="#6c7fe8" stroke="#6172d0">
<circle cx="440.0" cy="400.4" r="4.2"/>
<circle cx="437.7" cy="475.5" r="4.6"/>
<circle cx="442.4" cy="574.3" r="4.6"/>
<circle cx="434.4" cy="580.0" r="4.6"/>
<circle cx="423.5" cy="590.5" r="4.4"/>
<circle cx="427.8" cy="601.4" r="3.6"/>
<circle cx="421.2" cy="618.6" r="5.4"/>
<circle cx="445.3" cy="638.0" r="4.3"/>
<circle cx="448.6" cy="657.9" r="5"/>
<circle cx="446.0" cy="668.0" r="5.6"/>
<circle cx="422.8" cy="668.5" r="5"/>
<circle cx="436.0" cy="670.5" r="4.8"/>
<circle cx="414.0" cy="669.5" r="3.8"/>
<circle cx="418.0" cy="674.0" r="4"/>
<circle cx="436.5" cy="677.0" r="5"/>
<circle cx="446.5" cy="676.5" r="4"/>
</g>
<g class="q" fill="#fc33ec" stroke="#f130e2">
<circle cx="492.6" cy="692.1" r="3.6"/>
<circle cx="488.8" cy="692.8" r="3.4"/>
<circle cx="464.8" cy="686.9" r="4.2"/>
<circle cx="482.7" cy="688.2" r="4.6"/>
<circle cx="506.2" cy="687.7" r="3.8"/>
<circle cx="472.0" cy="681.6" r="4.2"/>
<circle cx="457.3" cy="681.6" r="3.4"/>
<circle cx="456.8" cy="688.7" r="3.4"/>
<circle cx="483.3" cy="691.2" r="3.4"/>
<circle cx="464.0" cy="691.7" r="3.4"/>
<circle cx="515.0" cy="690.7" r="4.2"/>
<circle cx="470.4" cy="685.7" r="3.4"/>
<circle cx="469.8" cy="687.7" r="3.6"/>
<circle cx="481.5" cy="687.7" r="3.4"/>
<circle cx="507.7" cy="684.8" r="3.8"/>
<circle cx="479.2" cy="676.9" r="4"/>
<circle cx="491.7" cy="682.5" r="4"/>
<circle cx="476.2" cy="685.9" r="4"/>
<circle cx="510.0" cy="691.2" r="3.6"/>
<circle cx="485.2" cy="689.8" r="3.8"/>
<circle cx="498.8" cy="691.8" r="4.6"/>
<circle cx="462.0" cy="682.4" r="3.6"/>
<circle cx="491.3" cy="687.1" r="3.6"/>
<circle cx="464.0" cy="687.6" r="4"/>
<circle cx="496.4" cy="690.8" r="4"/>
<circle cx="487.8" cy="683.1" r="3.6"/>
<circle cx="518.0" cy="688.6" r="4"/>
<circle cx="493.5" cy="691.2" r="4.2"/>
<circle cx="488.2" cy="679.9" r="4.6"/>
<circle cx="488.4" cy="691.0" r="4"/>
<circle cx="455.0" cy="691.9" r="3.4"/>
<circle cx="479.9" cy="684.8" r="3.6"/>
<circle cx="475.2" cy="692.2" r="4.2"/>
<circle cx="516.1" cy="687.4" r="3.6"/>
<circle cx="457.5" cy="691.3" r="3.6"/>
<circle cx="509.4" cy="690.4" r="4"/>
<circle cx="506.5" cy="686.6" r="3.6"/>
<circle cx="517.6" cy="683.7" r="4.6"/>
<circle cx="500.7" cy="692.8" r="4.6"/>
<circle cx="501.2" cy="677.9" r="3.8"/>
<circle cx="515.5" cy="684.2" r="3.8"/>
<circle cx="516.0" cy="687.7" r="3.4"/>
<circle cx="480.9" cy="689.8" r="3.8"/>
<circle cx="463.8" cy="688.9" r="4.6"/>
<circle cx="497.0" cy="678.1" r="4.2"/>
<circle cx="487.4" cy="686.1" r="4.6"/>
<circle cx="500.2" cy="693.0" r="4.6"/>
<circle cx="472.8" cy="677.7" r="4.2"/>
<circle cx="501.0" cy="688.0" r="3.4"/>
<circle cx="507.6" cy="675.6" r="4.6"/>
<circle cx="516.0" cy="687.5" r="4.6"/>
<circle cx="495.5" cy="682.5" r="3.8"/>
<circle cx="518.3" cy="686.1" r="4.6"/>
<circle cx="487.7" cy="686.8" r="4.6"/>
<circle cx="484.2" cy="680.7" r="4"/>
<circle cx="499.4" cy="687.2" r="4"/>
<circle cx="505.6" cy="680.6" r="4.2"/>
<circle cx="471.0" cy="685.8" r="4.6"/>
<circle cx="469.3" cy="685.9" r="3.6"/>
<circle cx="477.7" cy="691.5" r="3.8"/>
<circle cx="462.5" cy="689.4" r="4"/>
<circle cx="469.4" cy="682.6" r="4"/>
<circle cx="462.2" cy="687.8" r="3.6"/>
<circle cx="514.0" cy="682.2" r="3.8"/>
<circle cx="496.4" cy="683.3" r="3.6"/>
<circle cx="499.7" cy="683.0" r="4"/>
<circle cx="510.4" cy="684.2" r="3.8"/>
<circle cx="486.6" cy="676.4" r="3.8"/>
<circle cx="466.6" cy="689.7" r="3.4"/>
<circle cx="464.1" cy="688.8" r="3.8"/>
<circle cx="464.6" cy="685.5" r="4"/>
<circle cx="458.8" cy="685.7" r="4.2"/>
<circle cx="471.2" cy="685.9" r="4"/>
<circle cx="466.1" cy="692.9" r="3.4"/>
<circle cx="497.5" cy="686.1" r="4.6"/>
<circle cx="501.3" cy="692.4" r="4.6"/>
<circle cx="454.9" cy="686.8" r="3.8"/>
<circle cx="478.4" cy="689.1" r="4.6"/>
<circle cx="464.6" cy="686.8" r="4.6"/>
<circle cx="495.6" cy="688.2" r="3.8"/>
<circle cx="475.1" cy="688.9" r="3.8"/>
<circle cx="510.8" cy="692.6" r="3.4"/>
<circle cx="492.1" cy="686.9" r="4.6"/>
<circle cx="480.8" cy="684.6" r="4"/>
<circle cx="487.5" cy="684.1" r="4.2"/>
<circle cx="496.2" cy="684.5" r="3.6"/>
<circle cx="483.6" cy="692.3" r="3.4"/>
<circle cx="511.7" cy="691.4" r="3.8"/>
<circle cx="453.2" cy="686.7" r="4.2"/>
<circle cx="482.4" cy="688.1" r="4.2"/>
<circle cx="502.0" cy="692.5" r="3.4"/>
<circle cx="499.0" cy="686.3" r="3.6"/>
<circle cx="479.1" cy="678.9" r="4.6"/>
<circle cx="477.0" cy="685.2" r="3.8"/>
<circle cx="488.7" cy="689.0" r="4.6"/>
<circle cx="512.7" cy="685.9" r="4.2"/>
<circle cx="458.6" cy="687.6" r="3.8"/>
<circle cx="495.0" cy="688.8" r="3.8"/>
<circle cx="486.2" cy="690.8" r="3.8"/>
<circle cx="489.6" cy="686.7" r="3.6"/>
<circle cx="499.8" cy="692.4" r="4.6"/>
<circle cx="493.0" cy="686.0" r="3.8"/>
<circle cx="489.6" cy="690.1" r="3.4"/>
<circle cx="468.7" cy="691.5" r="4.6"/>
<circle cx="460.7" cy="691.1" r="3.4"/>
<circle cx="465.9" cy="687.7" r="3.6"/>
<circle cx="491.2" cy="682.1" r="3.4"/>
<circle cx="503.8" cy="688.8" r="4"/>
<circle cx="499.9" cy="692.0" r="4.2"/>
<circle cx="491.0" cy="687.4" r="3.4"/>
<circle cx="496.2" cy="689.2" r="4"/>
<circle cx="510.3" cy="691.7" r="3.6"/>
<circle cx="491.8" cy="692.0" r="4.2"/>
<circle cx="457.0" cy="683.7" r="3.4"/>
<circle cx="501.4" cy="689.6" r="3.4"/>
<circle cx="501.8" cy="686.4" r="4.2"/>
<circle cx="521.2" cy="685.1" r="4.6"/>
<circle cx="513.1" cy="680.0" r="3.8"/>
<circle cx="508.5" cy="692.9" r="3.8"/>
<circle cx="461.5" cy="687.5" r="3.8"/>
<circle cx="502.8" cy="681.8" r="3.4"/>
<circle cx="477.5" cy="688.5" r="3.4"/>
<circle cx="516.8" cy="691.1" r="3.6"/>
<circle cx="500.9" cy="687.8" r="3.4"/>
<circle cx="486.7" cy="684.4" r="3.6"/>
<circle cx="491.2" cy="687.9" r="4"/>
<circle cx="510.7" cy="691.1" r="4.6"/>
<circle cx="505.5" cy="689.7" r="3.4"/>
<circle cx="476.6" cy="682.8" r="3.4"/>
<circle cx="508.2" cy="684.8" r="4.6"/>
<circle cx="499.9" cy="689.5" r="3.6"/>
<circle cx="500.8" cy="691.3" r="4.2"/>
<circle cx="488.7" cy="689.1" r="3.8"/>
<circle cx="514.7" cy="692.7" r="3.6"/>
</g>
<g class="p" fill="#fc33ec" stroke="#e22dd4">
<circle cx="514.3" cy="632.6" r="3.8"/>
<circle cx="517.6" cy="630.2" r="3.8"/>
<circle cx="511.0" cy="652.0" r="3.6"/>
<circle cx="518.6" cy="656.3" r="3.6"/>
<circle cx="521.9" cy="665.4" r="5"/>
<circle cx="474.7" cy="663.8" r="5"/>
<circle cx="489.5" cy="664.0" r="4.4"/>
<circle cx="505.5" cy="668.0" r="3.8"/>
<circle cx="472.0" cy="670.0" r="3.8"/>
<circle cx="454.0" cy="676.0" r="3.8"/>
<circle cx="483.5" cy="676.5" r="5.2"/>
<circle cx="492.0" cy="678.0" r="3.8"/>
<circle cx="504.5" cy="672.5" r="3.8"/>
</g>
<g class="q" fill="#5bd422" stroke="#57cb20">
<circle cx="548.6" cy="689.8" r="4"/>
<circle cx="535.6" cy="692.9" r="4.2"/>
<circle cx="538.5" cy="690.6" r="4.2"/>
<circle cx="525.4" cy="680.1" r="3.8"/>
<circle cx="535.5" cy="688.0" r="4.2"/>
<circle cx="539.8" cy="683.4" r="3.4"/>
<circle cx="551.5" cy="692.1" r="3.6"/>
<circle cx="547.2" cy="686.9" r="3.8"/>
<circle cx="547.8" cy="690.7" r="3.6"/>
<circle cx="544.4" cy="685.6" r="4.6"/>
<circle cx="534.9" cy="690.6" r="4.2"/>
<circle cx="545.5" cy="686.2" r="4.6"/>
<circle cx="533.7" cy="688.4" r="3.8"/>
<circle cx="550.8" cy="683.4" r="3.6"/>
<circle cx="528.1" cy="677.3" r="4"/>
<circle cx="536.1" cy="685.6" r="3.6"/>
<circle cx="541.6" cy="679.6" r="3.8"/>
<circle cx="545.8" cy="684.0" r="3.8"/>
<circle cx="526.2" cy="675.7" r="4.2"/>
<circle cx="529.4" cy="683.5" r="3.8"/>
<circle cx="553.1" cy="686.1" r="3.4"/>
<circle cx="549.2" cy="691.3" r="3.8"/>
<circle cx="540.4" cy="687.0" r="3.6"/>
<circle cx="545.1" cy="689.2" r="3.6"/>
<circle cx="550.8" cy="688.2" r="3.4"/>
<circle cx="529.9" cy="683.7" r="4.2"/>
<circle cx="525.5" cy="678.3" r="4.2"/>
<circle cx="534.2" cy="682.7" r="4.2"/>
<circle cx="543.3" cy="682.2" r="3.4"/>
<circle cx="530.4" cy="685.8" r="4.6"/>
<circle cx="538.6" cy="685.3" r="3.6"/>
<circle cx="525.7" cy="692.6" r="4.6"/>
<circle cx="542.4" cy="683.5" r="4"/>
<circle cx="531.7" cy="692.9" r="3.8"/>
<circle cx="540.9" cy="692.5" r="4.2"/>
<circle cx="545.3" cy="691.5" r="3.4"/>
<circle cx="528.7" cy="679.0" r="3.4"/>
<circle cx="534.7" cy="689.7" r="4.6"/>
<circle cx="541.7" cy="686.7" r="4.2"/>
<circle cx="541.2" cy="687.0" r="4.6"/>
<circle cx="538.3" cy="680.3" r="4.6"/>
<circle cx="547.2" cy="688.6" r="3.8"/>
<circle cx="534.8" cy="690.4" r="3.8"/>
<circle cx="524.3" cy="686.7" r="3.8"/>
<circle cx="528.5" cy="689.1" r="3.4"/>
<circle cx="552.1" cy="691.8" r="4.2"/>
<circle cx="539.1" cy="691.2" r="4.2"/>
<circle cx="535.0" cy="682.8" r="4.6"/>
<circle cx="549.7" cy="687.9" r="3.8"/>
<circle cx="547.3" cy="683.5" r="4"/>
<circle cx="530.4" cy="684.3" r="4"/>
<circle cx="537.8" cy="684.3" r="3.4"/>
<circle cx="543.8" cy="678.5" r="4"/>
<circle cx="544.2" cy="690.8" r="4"/>
<circle cx="536.3" cy="683.9" r="4.6"/>
<circle cx="549.8" cy="683.3" r="4.6"/>
<circle cx="537.0" cy="691.0" r="4"/>
<circle cx="543.3" cy="683.4" r="3.6"/>
<circle cx="553.4" cy="688.4" r="3.8"/>
<circle cx="552.6" cy="682.3" r="3.4"/>
</g>
<g class="p" fill="#5bd422" stroke="#51be1e">
<circle cx="542.7" cy="601.0" r="3.8"/>
<circle cx="538.0" cy="647.0" r="3.8"/>
<circle cx="535.0" cy="675.0" r="4"/>
</g>
<g class="q" fill="#e8a416" stroke="#de9d15">
<circle cx="585.2" cy="690.0" r="3.6"/>
<circle cx="584.2" cy="689.8" r="3.6"/>
<circle cx="605.5" cy="692.3" r="4.6"/>
<circle cx="587.5" cy="690.1" r="3.6"/>
<circle cx="593.7" cy="679.5" r="4.6"/>
<circle cx="560.0" cy="676.1" r="3.4"/>
<circle cx="568.9" cy="691.3" r="3.8"/>
<circle cx="566.0" cy="685.4" r="3.4"/>
<circle cx="592.0" cy="690.8" r="4"/>
<circle cx="630.3" cy="692.9" r="3.6"/>
<circle cx="574.5" cy="692.9" r="3.6"/>
<circle cx="599.4" cy="691.6" r="3.4"/>
<circle cx="617.7" cy="681.4" r="3.4"/>
<circle cx="630.0" cy="687.2" r="3.6"/>
<circle cx="601.1" cy="688.7" r="4.2"/>
<circle cx="570.1" cy="691.3" r="3.4"/>
<circle cx="601.5" cy="689.8" r="3.4"/>
<circle cx="586.7" cy="677.0" r="3.6"/>
<circle cx="618.0" cy="692.4" r="3.8"/>
<circle cx="580.1" cy="692.3" r="3.4"/>
<circle cx="591.5" cy="691.8" r="3.4"/>
<circle cx="584.7" cy="687.4" r="3.8"/>
<circle cx="603.0" cy="689.7" r="4.6"/>
<circle cx="616.9" cy="691.9" r="4"/>
<circle cx="589.4" cy="684.4" r="4"/>
<circle cx="623.9" cy="690.9" r="3.6"/>
<circle cx="607.8" cy="692.2" r="4.2"/>
<circle cx="617.9" cy="690.2" r="4.6"/>
<circle cx="567.5" cy="690.4" r="4.6"/>
<circle cx="562.1" cy="691.9" r="4.6"/>
<circle cx="594.3" cy="691.5" r="4.2"/>
<circle cx="558.1" cy="690.2" r="4.2"/>
<circle cx="586.1" cy="691.7" r="4.6"/>
<circle cx="622.9" cy="691.8" r="3.4"/>
<circle cx="590.3" cy="691.0" r="4.6"/>
<circle cx="625.7" cy="683.8" r="4.6"/>
<circle cx="576.3" cy="692.1" r="4"/>
<circle cx="628.3" cy="691.0" r="4.2"/>
<circle cx="576.1" cy="680.0" r="4.2"/>
<circle cx="587.9" cy="689.0" r="3.8"/>
<circle cx="577.6" cy="683.3" r="4"/>
<circle cx="572.6" cy="690.1" r="4.6"/>
<circle cx="629.2" cy="687.9" r="4"/>
<circle cx="568.1" cy="688.6" r="3.4"/>
<circle cx="587.9" cy="691.3" r="3.8"/>
<circle cx="595.1" cy="687.8" r="4"/>
<circle cx="615.0" cy="691.4" r="3.6"/>
<circle cx="620.2" cy="685.4" r="3.8"/>
<circle cx="598.1" cy="690.9" r="4.2"/>
<circle cx="585.9" cy="692.9" r="3.6"/>
<circle cx="558.1" cy="691.0" r="3.8"/>
<circle cx="616.9" cy="691.9" r="3.6"/>
<circle cx="579.8" cy="691.2" r="4"/>
<circle cx="628.4" cy="687.6" r="3.8"/>
<circle cx="608.7" cy="692.9" r="4"/>
<circle cx="588.8" cy="684.5" r="4"/>
<circle cx="593.3" cy="692.1" r="3.6"/>
<circle cx="589.6" cy="689.9" r="3.6"/>
<circle cx="638.2" cy="691.1" r="3.4"/>
<circle cx="612.6" cy="692.8" r="4"/>
<circle cx="589.1" cy="691.3" r="4.6"/>
<circle cx="620.1" cy="686.3" r="4"/>
<circle cx="634.7" cy="691.5" r="4"/>
<circle cx="572.5" cy="687.8" r="3.6"/>
<circle cx="600.0" cy="690.8" r="4.6"/>
<circle cx="574.4" cy="689.9" r="3.8"/>
<circle cx="603.4" cy="690.4" r="3.4"/>
<circle cx="565.4" cy="691.1" r="3.4"/>
<circle cx="566.3" cy="684.5" r="4.2"/>
<circle cx="595.3" cy="692.3" r="3.8"/>
<circle cx="597.6" cy="685.3" r="4"/>
<circle cx="627.2" cy="687.7" r="3.4"/>
<circle cx="629.5" cy="688.2" r="4.2"/>
<circle cx="638.5" cy="686.8" r="4.2"/>
<circle cx="579.5" cy="692.1" r="3.8"/>
<circle cx="603.6" cy="691.6" r="3.4"/>
<circle cx="583.2" cy="691.7" r="4"/>
<circle cx="628.2" cy="692.3" r="3.4"/>
<circle cx="575.0" cy="689.9" r="4.6"/>
<circle cx="598.1" cy="691.8" r="3.8"/>
<circle cx="574.4" cy="691.1" r="3.4"/>
<circle cx="617.8" cy="689.4" r="4.2"/>
<circle cx="625.5" cy="688.7" r="4"/>
<circle cx="581.9" cy="690.3" r="4.2"/>
<circle cx="608.1" cy="690.6" r="3.6"/>
<circle cx="630.0" cy="687.6" r="4.6"/>
<circle cx="568.2" cy="681.8" r="4.2"/>
<circle cx="598.8" cy="684.9" r="4.6"/>
<circle cx="623.7" cy="690.8" r="4.6"/>
<circle cx="619.4" cy="691.2" r="3.6"/>
<circle cx="570.0" cy="692.3" r="3.4"/>
<circle cx="596.2" cy="689.3" r="3.4"/>
<circle cx="592.0" cy="692.1" r="4"/>
<circle cx="614.2" cy="689.4" r="4.6"/>
<circle cx="568.9" cy="687.5" r="3.6"/>
<circle cx="629.7" cy="690.6" r="4.6"/>
<circle cx="570.6" cy="691.9" r="3.6"/>
<circle cx="570.5" cy="689.7" r="4"/>
<circle cx="637.9" cy="692.5" r="3.8"/>
<circle cx="576.3" cy="692.7" r="4"/>
<circle cx="570.2" cy="688.2" r="4"/>
<circle cx="567.4" cy="692.6" r="3.6"/>
<circle cx="639.7" cy="691.2" r="3.8"/>
<circle cx="598.2" cy="684.0" r="3.4"/>
<circle cx="574.4" cy="692.0" r="4.2"/>
<circle cx="602.3" cy="689.1" r="3.8"/>
<circle cx="621.0" cy="690.0" r="4.2"/>
<circle cx="633.8" cy="686.3" r="3.4"/>
<circle cx="586.2" cy="690.8" r="3.4"/>
<circle cx="572.1" cy="691.4" r="3.8"/>
<circle cx="618.9" cy="683.9" r="3.8"/>
<circle cx="624.3" cy="691.5" r="4.6"/>
<circle cx="603.2" cy="691.0" r="4"/>
<circle cx="560.9" cy="686.5" r="4"/>
<circle cx="611.0" cy="686.5" r="3.8"/>
<circle cx="564.3" cy="690.6" r="3.8"/>
<circle cx="571.9" cy="691.9" r="4.6"/>
<circle cx="629.6" cy="692.5" r="3.4"/>
<circle cx="566.7" cy="692.5" r="3.8"/>
<circle cx="602.0" cy="687.3" r="3.6"/>
<circle cx="604.6" cy="688.6" r="3.6"/>
<circle cx="581.2" cy="689.7" r="3.6"/>
<circle cx="617.6" cy="692.2" r="3.4"/>
<circle cx="559.2" cy="691.4" r="4.6"/>
<circle cx="604.8" cy="692.2" r="3.6"/>
<circle cx="570.6" cy="692.9" r="4"/>
<circle cx="609.2" cy="686.5" r="3.4"/>
<circle cx="564.9" cy="692.2" r="4.2"/>
<circle cx="621.5" cy="690.3" r="3.6"/>
<circle cx="564.0" cy="692.7" r="3.6"/>
<circle cx="608.7" cy="690.3" r="3.8"/>
<circle cx="564.9" cy="691.0" r="3.6"/>
<circle cx="558.9" cy="691.6" r="4"/>
<circle cx="560.6" cy="692.5" r="4.2"/>
<circle cx="613.7" cy="688.1" r="3.6"/>
<circle cx="574.7" cy="690.7" r="4.6"/>
<circle cx="638.0" cy="690.4" r="4"/>
<circle cx="561.1" cy="691.9" r="3.4"/>
<circle cx="619.6" cy="692.3" r="4.6"/>
<circle cx="562.1" cy="691.6" r="4.6"/>
<circle cx="616.8" cy="692.5" r="4"/>
<circle cx="613.2" cy="692.6" r="4.6"/>
<circle cx="634.8" cy="690.5" r="4.6"/>
<circle cx="606.4" cy="690.2" r="4.2"/>
<circle cx="582.5" cy="691.2" r="4.6"/>
<circle cx="567.5" cy="690.4" r="3.8"/>
<circle cx="619.6" cy="692.2" r="4.2"/>
<circle cx="595.5" cy="691.4" r="4.6"/>
<circle cx="630.9" cy="685.6" r="4"/>
<circle cx="623.1" cy="689.9" r="4"/>
<circle cx="591.3" cy="685.7" r="3.8"/>
<circle cx="612.4" cy="691.6" r="3.8"/>
<circle cx="558.4" cy="692.9" r="3.4"/>
<circle cx="630.0" cy="691.6" r="3.8"/>
<circle cx="595.5" cy="692.3" r="3.8"/>
<circle cx="590.3" cy="692.9" r="3.8"/>
<circle cx="565.2" cy="690.7" r="4"/>
<circle cx="591.4" cy="692.2" r="3.6"/>
<circle cx="614.0" cy="683.3" r="3.6"/>
</g>
<g class="p" fill="#e8a416" stroke="#d09313">
<circle cx="625.9" cy="667.4" r="4.5"/>
<circle cx="582.3" cy="674.7" r="4.6"/>
<circle cx="639.5" cy="678.5" r="4"/>
</g>
<g class="q" fill="#a8700f" stroke="#a16b0e">
<circle cx="686.8" cy="692.3" r="3.6"/>
<circle cx="667.8" cy="690.1" r="4"/>
<circle cx="677.5" cy="688.8" r="4.2"/>
<circle cx="663.8" cy="692.2" r="4.2"/>
<circle cx="643.0" cy="692.5" r="3.6"/>
<circle cx="694.3" cy="691.8" r="3.8"/>
<circle cx="719.8" cy="689.5" r="4.2"/>
<circle cx="718.6" cy="682.5" r="3.8"/>
<circle cx="718.6" cy="684.2" r="4"/>
<circle cx="672.6" cy="691.5" r="4.6"/>
<circle cx="714.7" cy="690.5" r="4.6"/>
<circle cx="648.9" cy="690.6" r="4.6"/>
<circle cx="754.3" cy="680.8" r="4.6"/>
<circle cx="655.7" cy="691.5" r="4.2"/>
<circle cx="744.5" cy="689.4" r="3.4"/>
<circle cx="751.0" cy="693.0" r="3.8"/>
<circle cx="658.6" cy="690.2" r="3.4"/>
<circle cx="756.7" cy="684.6" r="3.8"/>
<circle cx="714.1" cy="689.3" r="3.4"/>
<circle cx="690.4" cy="689.9" r="4.6"/>
<circle cx="715.5" cy="688.3" r="3.8"/>
<circle cx="721.4" cy="692.2" r="4.2"/>
<circle cx="699.0" cy="685.1" r="3.6"/>
<circle cx="665.1" cy="692.7" r="3.8"/>
<circle cx="726.9" cy="686.7" r="3.4"/>
<circle cx="709.5" cy="689.3" r="3.8"/>
<circle cx="752.6" cy="686.7" r="4"/>
<circle cx="664.7" cy="690.9" r="3.4"/>
<circle cx="720.4" cy="691.5" r="4"/>
<circle cx="672.7" cy="678.4" r="4"/>
<circle cx="699.6" cy="692.2" r="3.8"/>
<circle cx="647.1" cy="690.4" r="4.6"/>
<circle cx="706.3" cy="689.4" r="3.8"/>
<circle cx="687.0" cy="691.1" r="3.8"/>
<circle cx="739.9" cy="685.7" r="3.4"/>
<circle cx="646.8" cy="690.3" r="3.8"/>
<circle cx="711.2" cy="688.3" r="3.4"/>
<circle cx="742.7" cy="684.4" r="4"/>
<circle cx="738.0" cy="688.5" r="3.6"/>
<circle cx="716.1" cy="689.9" r="4.6"/>
<circle cx="655.6" cy="688.9" r="4.6"/>
<circle cx="738.5" cy="690.6" r="3.8"/>
<circle cx="682.2" cy="679.8" r="4.2"/>
<circle cx="726.6" cy="688.5" r="3.8"/>
<circle cx="657.4" cy="692.7" r="4"/>
<circle cx="649.7" cy="684.7" r="3.6"/>
<circle cx="708.4" cy="690.2" r="3.8"/>
<circle cx="732.3" cy="688.9" r="3.6"/>
<circle cx="659.4" cy="689.4" r="4.2"/>
<circle cx="656.4" cy="692.8" r="4.6"/>
<circle cx="685.8" cy="689.9" r="4.6"/>
<circle cx="686.2" cy="689.6" r="4.2"/>
<circle cx="711.6" cy="690.1" r="3.6"/>
<circle cx="677.6" cy="690.3" r="3.4"/>
<circle cx="683.4" cy="692.7" r="3.8"/>
<circle cx="667.1" cy="689.3" r="4"/>
<circle cx="673.6" cy="685.8" r="4.2"/>
<circle cx="710.5" cy="685.0" r="4"/>
<circle cx="654.7" cy="690.0" r="3.8"/>
<circle cx="752.9" cy="691.9" r="4.2"/>
<circle cx="733.2" cy="680.7" r="4.2"/>
<circle cx="703.8" cy="682.0" r="3.4"/>
<circle cx="735.2" cy="691.2" r="4.6"/>
<circle cx="673.5" cy="687.7" r="4"/>
<circle cx="700.9" cy="691.9" r="3.4"/>
<circle cx="734.5" cy="691.4" r="3.8"/>
<circle cx="650.2" cy="692.4" r="4"/>
<circle cx="753.5" cy="690.0" r="3.6"/>
<circle cx="681.3" cy="686.1" r="3.8"/>
<circle cx="729.3" cy="678.9" r="3.4"/>
<circle cx="692.4" cy="683.2" r="3.6"/>
<circle cx="730.9" cy="682.4" r="3.8"/>
<circle cx="728.0" cy="688.6" r="4.6"/>
<circle cx="712.5" cy="686.4" r="4"/>
<circle cx="643.5" cy="689.5" r="4.6"/>
<circle cx="703.8" cy="690.0" r="4.2"/>
<circle cx="714.7" cy="691.5" r="3.4"/>
<circle cx="727.0" cy="691.0" r="3.4"/>
<circle cx="734.5" cy="692.5" r="3.4"/>
<circle cx="740.7" cy="688.7" r="4"/>
<circle cx="755.9" cy="689.2" r="4"/>
<circle cx="745.2" cy="688.9" r="4.2"/>
<circle cx="706.8" cy="692.0" r="3.8"/>
<circle cx="717.5" cy="692.1" r="3.8"/>
<circle cx="750.7" cy="690.9" r="4.6"/>
<circle cx="725.5" cy="678.9" r="4"/>
<circle cx="657.4" cy="687.2" r="4.2"/>
<circle cx="703.1" cy="681.3" r="3.4"/>
<circle cx="695.3" cy="679.2" r="4.2"/>
<circle cx="747.1" cy="691.4" r="4.2"/>
<circle cx="743.8" cy="689.9" r="3.6"/>
<circle cx="642.8" cy="686.4" r="3.4"/>
<circle cx="653.3" cy="688.4" r="4"/>
<circle cx="694.5" cy="689.9" r="4.6"/>
<circle cx="747.1" cy="690.3" r="4.6"/>
<circle cx="648.2" cy="691.1" r="4.6"/>
<circle cx="741.1" cy="689.5" r="4"/>
<circle cx="721.6" cy="692.3" r="4"/>
<circle cx="710.9" cy="687.1" r="3.6"/>
<circle cx="642.6" cy="689.4" r="3.6"/>
<circle cx="714.9" cy="692.8" r="3.4"/>
<circle cx="746.4" cy="688.2" r="4"/>
<circle cx="647.6" cy="688.5" r="3.6"/>
<circle cx="731.2" cy="684.9" r="4.2"/>
<circle cx="747.7" cy="692.3" r="3.4"/>
<circle cx="697.1" cy="689.3" r="4.6"/>
<circle cx="653.1" cy="685.1" r="4.2"/>
<circle cx="700.9" cy="681.9" r="4"/>
<circle cx="747.4" cy="680.4" r="4.2"/>
<circle cx="716.5" cy="684.8" r="4.2"/>
<circle cx="710.4" cy="692.6" r="3.4"/>
<circle cx="718.1" cy="690.8" r="4.6"/>
<circle cx="642.9" cy="692.9" r="4.2"/>
<circle cx="735.3" cy="692.4" r="4.6"/>
<circle cx="726.6" cy="688.3" r="4.2"/>
<circle cx="754.3" cy="691.3" r="3.4"/>
<circle cx="652.1" cy="688.8" r="3.4"/>
<circle cx="652.3" cy="691.5" r="3.8"/>
<circle cx="659.0" cy="688.3" r="3.6"/>
<circle cx="642.8" cy="687.7" r="4.6"/>
<circle cx="730.2" cy="686.2" r="4"/>
<circle cx="748.2" cy="692.0" r="4.6"/>
<circle cx="728.5" cy="688.1" r="3.4"/>
<circle cx="724.4" cy="683.5" r="4"/>
<circle cx="734.1" cy="684.3" r="3.8"/>
<circle cx="692.8" cy="691.8" r="3.8"/>
<circle cx="739.3" cy="686.2" r="3.6"/>
<circle cx="692.9" cy="689.8" r="4"/>
<circle cx="729.7" cy="688.2" r="3.8"/>
<circle cx="673.5" cy="691.0" r="3.4"/>
<circle cx="681.2" cy="691.3" r="3.8"/>
<circle cx="642.2" cy="691.8" r="3.8"/>
<circle cx="733.4" cy="692.5" r="3.8"/>
<circle cx="690.9" cy="692.7" r="3.4"/>
<circle cx="753.0" cy="685.1" r="4.6"/>
<circle cx="718.3" cy="688.6" r="4.2"/>
<circle cx="721.3" cy="692.6" r="3.6"/>
<circle cx="667.1" cy="688.7" r="4.6"/>
<circle cx="671.9" cy="688.2" r="3.6"/>
<circle cx="712.2" cy="692.2" r="4.6"/>
<circle cx="674.7" cy="691.4" r="3.4"/>
<circle cx="652.6" cy="689.9" r="4.2"/>
<circle cx="752.9" cy="690.2" r="4.6"/>
<circle cx="650.0" cy="686.2" r="3.4"/>
<circle cx="649.4" cy="688.1" r="3.8"/>
<circle cx="650.6" cy="689.5" r="4.6"/>
<circle cx="753.5" cy="691.7" r="4"/>
<circle cx="662.5" cy="686.7" r="4"/>
<circle cx="722.1" cy="684.9" r="4"/>
<circle cx="681.4" cy="692.9" r="3.6"/>
<circle cx="654.3" cy="686.4" r="3.8"/>
<circle cx="673.9" cy="687.3" r="3.4"/>
<circle cx="660.2" cy="690.2" r="4.6"/>
<circle cx="672.3" cy="685.5" r="3.4"/>
<circle cx="686.0" cy="690.3" r="3.6"/>
<circle cx="649.1" cy="691.7" r="3.6"/>
<circle cx="749.6" cy="690.4" r="3.6"/>
<circle cx="657.9" cy="691.8" r="3.8"/>
<circle cx="661.1" cy="688.8" r="3.6"/>
<circle cx="674.8" cy="689.3" r="3.6"/>
<circle cx="716.6" cy="689.3" r="3.8"/>
<circle cx="669.7" cy="691.7" r="3.4"/>
<circle cx="647.8" cy="689.0" r="3.6"/>
<circle cx="674.4" cy="690.7" r="3.4"/>
<circle cx="694.9" cy="692.5" r="3.4"/>
<circle cx="697.8" cy="688.6" r="4"/>
<circle cx="692.6" cy="687.9" r="3.8"/>
<circle cx="693.1" cy="691.4" r="3.4"/>
<circle cx="650.2" cy="689.4" r="4.2"/>
<circle cx="712.3" cy="688.5" r="4"/>
<circle cx="654.7" cy="690.5" r="3.6"/>
<circle cx="702.0" cy="691.5" r="3.4"/>
<circle cx="651.6" cy="688.5" r="4"/>
<circle cx="732.3" cy="681.5" r="4.6"/>
<circle cx="678.5" cy="683.8" r="3.8"/>
<circle cx="649.8" cy="690.7" r="3.8"/>
<circle cx="662.7" cy="683.9" r="4.2"/>
<circle cx="745.8" cy="689.7" r="3.4"/>
<circle cx="703.8" cy="690.6" r="4.2"/>
<circle cx="658.0" cy="691.1" r="3.8"/>
<circle cx="727.1" cy="691.2" r="4.6"/>
<circle cx="662.9" cy="690.1" r="4.6"/>
<circle cx="651.4" cy="688.0" r="4"/>
<circle cx="754.2" cy="691.5" r="3.8"/>
<circle cx="709.1" cy="691.1" r="4.6"/>
<circle cx="661.0" cy="690.7" r="3.4"/>
<circle cx="696.9" cy="688.4" r="4"/>
<circle cx="719.3" cy="678.5" r="3.6"/>
<circle cx="737.9" cy="688.8" r="3.6"/>
<circle cx="754.1" cy="692.8" r="3.6"/>
<circle cx="681.5" cy="692.9" r="3.8"/>
<circle cx="730.6" cy="689.0" r="3.6"/>
<circle cx="711.9" cy="690.8" r="4.2"/>
<circle cx="705.0" cy="691.7" r="4.2"/>
<circle cx="655.9" cy="692.3" r="3.6"/>
<circle cx="756.8" cy="686.6" r="3.4"/>
<circle cx="661.3" cy="692.6" r="4"/>
<circle cx="732.9" cy="690.3" r="3.6"/>
<circle cx="740.9" cy="691.7" r="4.6"/>
<circle cx="688.9" cy="678.1" r="3.4"/>
<circle cx="753.3" cy="692.7" r="3.6"/>
<circle cx="742.1" cy="690.5" r="3.8"/>
<circle cx="734.8" cy="690.5" r="3.4"/>
<circle cx="693.3" cy="690.4" r="4.6"/>
<circle cx="734.1" cy="688.4" r="3.6"/>
<circle cx="692.1" cy="691.8" r="4"/>
<circle cx="662.9" cy="691.8" r="3.6"/>
<circle cx="689.4" cy="691.8" r="3.4"/>
<circle cx="722.6" cy="683.5" r="3.6"/>
<circle cx="719.3" cy="693.0" r="4"/>
<circle cx="681.1" cy="688.4" r="3.6"/>
<circle cx="695.5" cy="688.3" r="4"/>
<circle cx="652.2" cy="690.4" r="4"/>
<circle cx="752.6" cy="691.9" r="4.6"/>
<circle cx="723.4" cy="690.6" r="3.8"/>
<circle cx="656.7" cy="692.0" r="3.8"/>
<circle cx="655.0" cy="688.7" r="4.2"/>
<circle cx="690.4" cy="684.6" r="3.8"/>
<circle cx="708.4" cy="689.6" r="4"/>
<circle cx="678.2" cy="689.7" r="4.6"/>
<circle cx="719.7" cy="686.3" r="4.6"/>
<circle cx="730.2" cy="689.9" r="4.6"/>
</g>
<g class="p" fill="#a8700f" stroke="#97640d">
<circle cx="756.0" cy="650.0" r="4.5"/>
<circle cx="752.3" cy="662.5" r="5"/>
<circle cx="738.8" cy="672.0" r="4"/>
<circle cx="654.5" cy="673.0" r="4.2"/>
<circle cx="664.5" cy="672.5" r="4.2"/>
<circle cx="659.0" cy="679.0" r="4"/>
<circle cx="692.0" cy="678.0" r="3.8"/>
<circle cx="700.0" cy="678.5" r="3.6"/>
<circle cx="722.5" cy="677.0" r="3.8"/>
<circle cx="730.5" cy="678.5" r="3.6"/>
<circle cx="744.5" cy="684.0" r="3.8"/>
</g>
<g class="q" fill="#5fe08a" stroke="#5bd784">
<circle cx="801.5" cy="689.6" r="3.8"/>
<circle cx="890.0" cy="691.9" r="3.4"/>
<circle cx="861.8" cy="689.1" r="4.2"/>
<circle cx="766.8" cy="690.4" r="4"/>
<circle cx="883.1" cy="692.7" r="3.4"/>
<circle cx="902.1" cy="687.3" r="3.6"/>
<circle cx="798.3" cy="689.8" r="3.6"/>
<circle cx="762.3" cy="676.4" r="3.6"/>
<circle cx="784.4" cy="690.7" r="3.8"/>
<circle cx="808.9" cy="689.1" r="3.8"/>
<circle cx="768.4" cy="687.8" r="3.4"/>
<circle cx="769.8" cy="691.8" r="4.6"/>
<circle cx="815.2" cy="692.4" r="4.2"/>
<circle cx="917.9" cy="692.8" r="3.6"/>
<circle cx="902.5" cy="691.7" r="3.4"/>
<circle cx="798.2" cy="689.4" r="3.4"/>
<circle cx="770.2" cy="681.5" r="4"/>
<circle cx="896.5" cy="692.0" r="3.4"/>
<circle cx="900.1" cy="691.1" r="3.4"/>
<circle cx="792.0" cy="692.5" r="4.6"/>
<circle cx="837.2" cy="690.8" r="4.2"/>
<circle cx="850.2" cy="692.9" r="4.6"/>
<circle cx="763.0" cy="692.1" r="4.6"/>
<circle cx="877.2" cy="689.0" r="3.6"/>
<circle cx="927.6" cy="689.0" r="3.6"/>
<circle cx="785.9" cy="689.6" r="4.6"/>
<circle cx="881.5" cy="689.5" r="3.8"/>
<circle cx="826.8" cy="691.6" r="4.2"/>
<circle cx="813.0" cy="691.6" r="3.6"/>
<circle cx="784.9" cy="689.1" r="4"/>
<circle cx="764.2" cy="689.5" r="4.6"/>
<circle cx="848.1" cy="689.8" r="4.2"/>
<circle cx="812.1" cy="683.8" r="4.2"/>
<circle cx="825.2" cy="691.9" r="4.6"/>
<circle cx="846.8" cy="689.2" r="4.6"/>
<circle cx="830.5" cy="690.6" r="4.6"/>
<circle cx="918.7" cy="692.5" r="4"/>
<circle cx="774.0" cy="692.4" r="4.2"/>
<circle cx="781.1" cy="690.2" r="3.8"/>
<circle cx="871.5" cy="690.1" r="3.8"/>
<circle cx="833.8" cy="686.3" r="3.4"/>
<circle cx="881.4" cy="692.9" r="4.6"/>
<circle cx="782.1" cy="688.2" r="3.6"/>
<circle cx="899.0" cy="691.2" r="3.6"/>
<circle cx="788.7" cy="691.1" r="3.8"/>
<circle cx="821.0" cy="691.0" r="4.2"/>
<circle cx="779.0" cy="689.7" r="4.6"/>
<circle cx="913.6" cy="688.7" r="4.2"/>
<circle cx="897.7" cy="691.3" r="3.6"/>
<circle cx="884.5" cy="687.6" r="4"/>
<circle cx="777.3" cy="691.5" r="3.6"/>
<circle cx="763.7" cy="689.4" r="4.6"/>
<circle cx="784.4" cy="691.6" r="3.6"/>
<circle cx="883.7" cy="690.0" r="4.6"/>
<circle cx="830.5" cy="689.2" r="4.2"/>
<circle cx="817.8" cy="691.9" r="3.4"/>
<circle cx="912.8" cy="691.5" r="3.8"/>
<circle cx="899.0" cy="691.4" r="3.8"/>
<circle cx="864.6" cy="691.7" r="3.6"/>
<circle cx="761.2" cy="689.6" r="4.2"/>
<circle cx="888.2" cy="688.9" r="3.4"/>
<circle cx="928.4" cy="689.6" r="3.8"/>
<circle cx="802.3" cy="691.3" r="3.8"/>
<circle cx="781.8" cy="691.5" r="3.4"/>
<circle cx="818.0" cy="689.2" r="3.6"/>
<circle cx="905.6" cy="689.1" r="4.2"/>
<circle cx="870.6" cy="679.5" r="4.2"/>
<circle cx="926.4" cy="690.9" r="4"/>
<circle cx="892.8" cy="692.0" r="3.8"/>
<circle cx="820.7" cy="688.0" r="3.4"/>
<circle cx="913.4" cy="686.5" r="4.2"/>
<circle cx="770.6" cy="692.1" r="4"/>
<circle cx="868.5" cy="690.9" r="4"/>
<circle cx="812.0" cy="689.0" r="4"/>
<circle cx="813.5" cy="689.3" r="4.6"/>
<circle cx="908.4" cy="692.5" r="4.2"/>
<circle cx="929.6" cy="692.7" r="4"/>
<circle cx="830.2" cy="690.0" r="3.6"/>
<circle cx="794.6" cy="688.9" r="4.6"/>
<circle cx="878.0" cy="677.6" r="3.4"/>
<circle cx="837.9" cy="692.9" r="3.6"/>
<circle cx="832.4" cy="685.3" r="4.2"/>
<circle cx="893.9" cy="692.0" r="4.6"/>
<circle cx="862.2" cy="686.5" r="4.6"/>
<circle cx="833.1" cy="689.8" r="4"/>
<circle cx="793.5" cy="691.5" r="4.6"/>
<circle cx="925.3" cy="689.7" r="3.4"/>
<circle cx="873.3" cy="674.6" r="4.2"/>
<circle cx="912.9" cy="688.5" r="4.6"/>
<circle cx="853.3" cy="689.1" r="3.8"/>
<circle cx="768.1" cy="685.4" r="4.2"/>
<circle cx="904.5" cy="689.8" r="3.6"/>
<circle cx="846.3" cy="690.5" r="3.6"/>
<circle cx="785.2" cy="692.9" r="3.6"/>
<circle cx="862.0" cy="691.8" r="4"/>
<circle cx="796.0" cy="692.8" r="3.4"/>
<circle cx="896.3" cy="692.3" r="3.6"/>
<circle cx="851.1" cy="689.3" r="3.6"/>
<circle cx="862.1" cy="692.1" r="4.2"/>
<circle cx="882.4" cy="685.8" r="4.2"/>
<circle cx="880.5" cy="689.3" r="4.2"/>
<circle cx="768.0" cy="691.0" r="3.4"/>
<circle cx="907.5" cy="690.5" r="4"/>
<circle cx="783.3" cy="690.2" r="4.2"/>
<circle cx="816.5" cy="691.9" r="3.6"/>
<circle cx="797.9" cy="691.4" r="4"/>
<circle cx="810.8" cy="687.5" r="3.4"/>
<circle cx="783.4" cy="692.4" r="3.8"/>
<circle cx="790.4" cy="691.0" r="4.2"/>
<circle cx="842.1" cy="690.9" r="3.6"/>
<circle cx="839.7" cy="690.8" r="3.6"/>
<circle cx="771.5" cy="688.7" r="4"/>
<circle cx="776.2" cy="691.5" r="4.6"/>
<circle cx="877.1" cy="692.3" r="4.2"/>
<circle cx="852.7" cy="681.7" r="4"/>
<circle cx="819.6" cy="688.9" r="4"/>
<circle cx="921.8" cy="692.3" r="4.6"/>
<circle cx="872.3" cy="688.8" r="3.6"/>
<circle cx="866.1" cy="691.2" r="3.8"/>
<circle cx="859.9" cy="691.5" r="3.6"/>
<circle cx="852.9" cy="692.2" r="3.4"/>
<circle cx="782.3" cy="688.7" r="4.2"/>
<circle cx="814.3" cy="690.8" r="3.8"/>
<circle cx="848.2" cy="685.0" r="3.8"/>
<circle cx="868.3" cy="691.5" r="4"/>
<circle cx="863.3" cy="689.2" r="3.4"/>
<circle cx="822.4" cy="691.4" r="4.6"/>
<circle cx="851.2" cy="691.5" r="4"/>
<circle cx="786.4" cy="692.9" r="3.6"/>
<circle cx="794.9" cy="692.4" r="3.8"/>
<circle cx="798.0" cy="687.2" r="4.6"/>
<circle cx="925.1" cy="692.5" r="3.6"/>
<circle cx="853.2" cy="692.6" r="3.6"/>
<circle cx="833.2" cy="682.4" r="4.6"/>
<circle cx="825.0" cy="679.4" r="3.6"/>
<circle cx="861.1" cy="692.8" r="3.4"/>
<circle cx="786.4" cy="686.8" r="4.6"/>
<circle cx="866.7" cy="687.8" r="3.6"/>
<circle cx="792.8" cy="688.8" r="3.6"/>
<circle cx="820.7" cy="691.1" r="4"/>
<circle cx="828.9" cy="690.9" r="3.4"/>
<circle cx="929.1" cy="692.2" r="3.6"/>
<circle cx="911.7" cy="690.2" r="4.6"/>
<circle cx="769.1" cy="690.0" r="3.4"/>
<circle cx="892.9" cy="689.1" r="3.4"/>
<circle cx="836.2" cy="690.3" r="3.8"/>
<circle cx="871.9" cy="692.3" r="3.4"/>
<circle cx="915.4" cy="692.4" r="3.6"/>
<circle cx="876.7" cy="683.9" r="4.2"/>
<circle cx="896.2" cy="690.7" r="3.4"/>
<circle cx="903.4" cy="689.9" r="3.6"/>
<circle cx="856.4" cy="691.2" r="4"/>
<circle cx="922.4" cy="690.3" r="3.8"/>
<circle cx="912.1" cy="691.1" r="4.6"/>
<circle cx="893.8" cy="688.6" r="4.6"/>
<circle cx="814.8" cy="690.5" r="4.2"/>
<circle cx="816.6" cy="690.6" r="3.8"/>
<circle cx="905.8" cy="690.8" r="3.4"/>
<circle cx="784.5" cy="690.5" r="3.8"/>
<circle cx="859.3" cy="688.9" r="3.4"/>
<circle cx="859.7" cy="686.5" r="3.4"/>
<circle cx="862.7" cy="689.1" r="3.8"/>
<circle cx="772.9" cy="691.4" r="3.4"/>
<circle cx="843.4" cy="692.0" r="4.6"/>
<circle cx="803.1" cy="692.1" r="4.2"/>
<circle cx="920.3" cy="691.1" r="4.2"/>
<circle cx="877.4" cy="691.8" r="4.6"/>
<circle cx="906.7" cy="688.8" r="4"/>
<circle cx="922.9" cy="680.5" r="4.6"/>
<circle cx="809.5" cy="689.2" r="4.6"/>
<circle cx="885.6" cy="684.1" r="4"/>
<circle cx="905.7" cy="690.7" r="4"/>
<circle cx="840.7" cy="680.1" r="3.4"/>
<circle cx="795.8" cy="689.1" r="3.4"/>
<circle cx="883.7" cy="688.9" r="3.6"/>
<circle cx="922.6" cy="689.6" r="4.6"/>
<circle cx="790.8" cy="691.5" r="3.6"/>
<circle cx="914.0" cy="689.2" r="3.6"/>
<circle cx="801.8" cy="692.0" r="4.2"/>
<circle cx="810.6" cy="692.7" r="4"/>
<circle cx="850.1" cy="691.0" r="3.4"/>
<circle cx="830.2" cy="691.6" r="3.4"/>
<circle cx="886.3" cy="690.9" r="4.2"/>
<circle cx="923.5" cy="692.3" r="4.6"/>
<circle cx="779.5" cy="689.0" r="3.6"/>
<circle cx="912.7" cy="688.9" r="4.2"/>
<circle cx="821.9" cy="689.6" r="4.2"/>
<circle cx="815.2" cy="692.6" r="4"/>
<circle cx="923.1" cy="692.4" r="4.2"/>
<circle cx="807.3" cy="690.4" r="3.6"/>
<circle cx="812.7" cy="687.5" r="3.4"/>
<circle cx="922.6" cy="691.4" r="4.6"/>
<circle cx="877.9" cy="688.9" r="3.6"/>
<circle cx="851.9" cy="690.0" r="3.8"/>
<circle cx="791.2" cy="687.0" r="4.6"/>
<circle cx="800.8" cy="692.7" r="3.4"/>
<circle cx="794.8" cy="685.3" r="4.6"/>
<circle cx="779.2" cy="690.0" r="4.6"/>
<circle cx="808.0" cy="687.6" r="4.2"/>
<circle cx="881.0" cy="688.3" r="4"/>
<circle cx="774.0" cy="689.0" r="4.6"/>
<circle cx="760.5" cy="689.0" r="4.2"/>
<circle cx="850.1" cy="684.8" r="3.6"/>
<circle cx="914.0" cy="692.1" r="3.4"/>
<circle cx="804.7" cy="690.7" r="3.8"/>
<circle cx="874.4" cy="688.6" r="3.4"/>
<circle cx="770.5" cy="688.6" r="3.4"/>
<circle cx="900.9" cy="690.7" r="4"/>
<circle cx="821.3" cy="688.8" r="3.4"/>
<circle cx="928.9" cy="690.1" r="3.6"/>
<circle cx="822.6" cy="692.4" r="3.8"/>
<circle cx="802.6" cy="687.8" r="3.6"/>
<circle cx="777.9" cy="692.4" r="3.8"/>
<circle cx="845.0" cy="690.5" r="4"/>
<circle cx="838.2" cy="689.8" r="3.6"/>
<circle cx="831.3" cy="689.6" r="3.6"/>
<circle cx="912.1" cy="689.6" r="4"/>
<circle cx="859.7" cy="690.9" r="3.4"/>
<circle cx="797.0" cy="689.3" r="4"/>
<circle cx="927.9" cy="692.8" r="3.6"/>
<circle cx="792.9" cy="689.6" r="3.4"/>
<circle cx="816.9" cy="682.3" r="3.4"/>
<circle cx="846.6" cy="691.9" r="3.6"/>
<circle cx="788.4" cy="688.9" r="3.4"/>
<circle cx="879.8" cy="692.3" r="3.4"/>
<circle cx="844.1" cy="689.7" r="4.6"/>
<circle cx="785.8" cy="692.7" r="4.2"/>
<circle cx="765.8" cy="685.3" r="4.6"/>
<circle cx="881.6" cy="692.3" r="4.6"/>
<circle cx="794.8" cy="691.0" r="3.6"/>
<circle cx="913.3" cy="687.4" r="4"/>
<circle cx="776.3" cy="690.6" r="3.8"/>
<circle cx="928.9" cy="691.8" r="4.6"/>
<circle cx="815.5" cy="686.2" r="4"/>
<circle cx="770.8" cy="688.3" r="3.6"/>
<circle cx="928.4" cy="692.6" r="4.2"/>
<circle cx="875.4" cy="692.6" r="4"/>
<circle cx="855.2" cy="692.7" r="4.2"/>
<circle cx="898.3" cy="692.4" r="4"/>
<circle cx="833.8" cy="692.9" r="3.6"/>
<circle cx="857.9" cy="692.8" r="4.6"/>
<circle cx="894.2" cy="681.4" r="3.6"/>
<circle cx="768.2" cy="689.8" r="3.8"/>
<circle cx="788.2" cy="691.2" r="3.8"/>
<circle cx="786.7" cy="692.2" r="3.6"/>
<circle cx="774.6" cy="689.2" r="4.6"/>
<circle cx="914.1" cy="691.8" r="3.4"/>
<circle cx="778.7" cy="690.0" r="3.4"/>
<circle cx="785.2" cy="692.6" r="3.8"/>
<circle cx="929.4" cy="689.0" r="4.2"/>
<circle cx="906.9" cy="688.7" r="4.6"/>
<circle cx="893.2" cy="690.6" r="3.8"/>
<circle cx="847.7" cy="691.5" r="3.8"/>
<circle cx="819.7" cy="688.6" r="4.2"/>
<circle cx="806.4" cy="690.8" r="4"/>
<circle cx="832.5" cy="692.8" r="3.8"/>
<circle cx="806.2" cy="689.9" r="3.8"/>
<circle cx="847.5" cy="688.9" r="4.2"/>
<circle cx="851.8" cy="691.7" r="4.6"/>
<circle cx="764.4" cy="691.6" r="4.6"/>
<circle cx="795.4" cy="691.4" r="3.8"/>
<circle cx="836.8" cy="686.6" r="4.6"/>
<circle cx="794.5" cy="689.5" r="4.6"/>
<circle cx="884.7" cy="691.4" r="3.4"/>
<circle cx="805.6" cy="686.6" r="3.4"/>
<circle cx="833.8" cy="689.0" r="3.8"/>
<circle cx="896.6" cy="691.5" r="3.4"/>
<circle cx="882.1" cy="692.2" r="3.4"/>
<circle cx="822.1" cy="690.8" r="4.6"/>
<circle cx="781.4" cy="691.1" r="4"/>
<circle cx="808.3" cy="687.8" r="4.6"/>
<circle cx="790.4" cy="687.1" r="4.6"/>
<circle cx="904.8" cy="689.2" r="3.4"/>
<circle cx="832.1" cy="682.0" r="3.8"/>
<circle cx="846.1" cy="687.1" r="4.2"/>
<circle cx="827.0" cy="691.9" r="3.4"/>
<circle cx="826.0" cy="681.8" r="4.6"/>
<circle cx="822.6" cy="691.5" r="4.6"/>
<circle cx="765.0" cy="692.1" r="4.2"/>
<circle cx="874.3" cy="691.7" r="3.6"/>
<circle cx="880.1" cy="691.9" r="4"/>
<circle cx="859.2" cy="691.6" r="3.4"/>
<circle cx="856.7" cy="689.2" r="3.4"/>
<circle cx="846.2" cy="687.5" r="3.8"/>
<circle cx="928.8" cy="692.9" r="3.6"/>
<circle cx="778.8" cy="691.9" r="4"/>
<circle cx="800.7" cy="691.3" r="3.4"/>
<circle cx="847.9" cy="691.6" r="4"/>
<circle cx="891.7" cy="688.6" r="3.4"/>
<circle cx="872.4" cy="690.3" r="3.6"/>
<circle cx="892.0" cy="690.6" r="4"/>
<circle cx="786.3" cy="688.6" r="4.6"/>
<circle cx="834.3" cy="692.6" r="4"/>
<circle cx="908.0" cy="692.7" r="3.4"/>
<circle cx="790.4" cy="686.2" r="4"/>
<circle cx="808.5" cy="690.7" r="4.6"/>
<circle cx="787.9" cy="690.8" r="3.8"/>
<circle cx="808.6" cy="692.0" r="4"/>
<circle cx="820.2" cy="690.3" r="4.2"/>
<circle cx="805.8" cy="690.3" r="4.6"/>
<circle cx="822.2" cy="683.8" r="4.2"/>
<circle cx="868.7" cy="683.6" r="3.4"/>
<circle cx="816.9" cy="688.7" r="3.8"/>
<circle cx="797.0" cy="691.2" r="4.2"/>
<circle cx="835.3" cy="692.0" r="4.6"/>
<circle cx="837.2" cy="691.3" r="4.6"/>
<circle cx="769.0" cy="689.1" r="3.8"/>
<circle cx="875.7" cy="690.8" r="4"/>
<circle cx="895.9" cy="692.7" r="3.6"/>
<circle cx="877.6" cy="690.1" r="3.6"/>
<circle cx="879.1" cy="690.1" r="3.8"/>
<circle cx="808.7" cy="689.8" r="4.6"/>
<circle cx="864.4" cy="686.9" r="4.6"/>
<circle cx="793.4" cy="689.5" r="4.2"/>
<circle cx="901.5" cy="689.7" r="3.8"/>
<circle cx="855.9" cy="691.4" r="4"/>
<circle cx="853.0" cy="688.3" r="3.4"/>
<circle cx="772.8" cy="690.4" r="4.6"/>
<circle cx="925.2" cy="691.8" r="3.4"/>
<circle cx="789.3" cy="690.7" r="3.4"/>
<circle cx="864.8" cy="692.6" r="4.6"/>
<circle cx="836.6" cy="692.2" r="3.8"/>
<circle cx="912.7" cy="692.9" r="3.8"/>
<circle cx="822.7" cy="692.9" r="4.6"/>
<circle cx="779.7" cy="687.0" r="3.8"/>
<circle cx="810.4" cy="692.6" r="3.6"/>
<circle cx="928.3" cy="689.5" r="3.8"/>
<circle cx="853.6" cy="688.3" r="3.8"/>
</g>
<g class="p" fill="#5fe08a" stroke="#55c97c">
<circle cx="765.9" cy="656.2" r="3.5"/>
<circle cx="828.3" cy="652.0" r="4"/>
<circle cx="802.2" cy="662.5" r="3.8"/>
<circle cx="813.2" cy="663.5" r="3.8"/>
<circle cx="846.5" cy="661.5" r="4"/>
<circle cx="842.5" cy="667.5" r="4"/>
<circle cx="811.0" cy="672.5" r="4.2"/>
<circle cx="799.0" cy="674.5" r="3.8"/>
<circle cx="848.0" cy="674.0" r="3.8"/>
<circle cx="873.0" cy="676.5" r="4"/>
<circle cx="894.0" cy="677.5" r="3.8"/>
<circle cx="905.5" cy="678.5" r="3.8"/>
<circle cx="930.0" cy="672.0" r="3.8"/>
<circle cx="768.0" cy="679.0" r="3.8"/>
<circle cx="834.0" cy="678.0" r="3.6"/>
</g>
<g class="q" fill="#fa6b5c" stroke="#f06658">
<circle cx="953.2" cy="686.0" r="4.2"/>
<circle cx="987.9" cy="689.9" r="4.2"/>
<circle cx="975.2" cy="689.3" r="3.6"/>
<circle cx="1019.4" cy="683.4" r="4.2"/>
<circle cx="955.0" cy="689.8" r="3.6"/>
<circle cx="940.8" cy="686.6" r="4"/>
<circle cx="979.4" cy="692.8" r="4.6"/>
<circle cx="1006.1" cy="689.7" r="3.6"/>
<circle cx="964.3" cy="687.6" r="4"/>
<circle cx="946.5" cy="689.5" r="3.6"/>
<circle cx="975.9" cy="686.6" r="3.6"/>
<circle cx="992.8" cy="681.1" r="3.4"/>
<circle cx="956.5" cy="692.0" r="3.8"/>
<circle cx="967.0" cy="691.2" r="4"/>
<circle cx="1007.1" cy="690.5" r="3.6"/>
<circle cx="983.3" cy="687.9" r="3.6"/>
<circle cx="997.2" cy="679.9" r="3.4"/>
<circle cx="1005.1" cy="686.4" r="4"/>
<circle cx="1009.6" cy="689.4" r="3.4"/>
<circle cx="946.5" cy="674.7" r="3.8"/>
<circle cx="952.6" cy="689.8" r="3.6"/>
<circle cx="941.3" cy="686.1" r="3.6"/>
<circle cx="976.2" cy="689.4" r="4.2"/>
<circle cx="977.2" cy="682.0" r="4"/>
<circle cx="935.6" cy="688.4" r="4.2"/>
<circle cx="972.5" cy="685.0" r="4.6"/>
<circle cx="999.6" cy="681.1" r="4.6"/>
<circle cx="964.2" cy="677.5" r="4.6"/>
<circle cx="946.7" cy="690.9" r="4.6"/>
<circle cx="1006.5" cy="681.1" r="3.4"/>
<circle cx="950.4" cy="683.5" r="3.4"/>
<circle cx="956.4" cy="684.8" r="4"/>
<circle cx="952.8" cy="675.5" r="4"/>
<circle cx="942.6" cy="684.8" r="3.8"/>
<circle cx="1001.7" cy="689.0" r="3.4"/>
<circle cx="1024.6" cy="684.7" r="4"/>
<circle cx="970.3" cy="689.8" r="3.8"/>
<circle cx="970.9" cy="686.4" r="4.6"/>
<circle cx="973.0" cy="686.7" r="4"/>
<circle cx="957.5" cy="685.6" r="4"/>
<circle cx="951.6" cy="683.8" r="4.2"/>
<circle cx="1015.9" cy="688.9" r="3.4"/>
<circle cx="939.4" cy="685.8" r="3.4"/>
<circle cx="933.2" cy="687.8" r="3.6"/>
<circle cx="975.7" cy="683.3" r="4.6"/>
<circle cx="991.1" cy="691.8" r="4"/>
<circle cx="993.1" cy="692.8" r="4"/>
<circle cx="999.0" cy="691.1" r="3.4"/>
<circle cx="943.9" cy="690.7" r="3.8"/>
<circle cx="960.4" cy="686.4" r="3.4"/>
<circle cx="940.5" cy="684.9" r="3.8"/>
<circle cx="934.3" cy="690.0" r="3.6"/>
<circle cx="989.3" cy="687.0" r="3.4"/>
<circle cx="943.0" cy="689.0" r="4"/>
<circle cx="967.6" cy="691.1" r="3.6"/>
<circle cx="961.9" cy="686.2" r="4"/>
<circle cx="980.3" cy="686.2" r="4.2"/>
<circle cx="935.9" cy="685.9" r="3.6"/>
<circle cx="946.3" cy="688.0" r="3.8"/>
<circle cx="946.2" cy="689.5" r="3.8"/>
<circle cx="1015.5" cy="681.2" r="4"/>
<circle cx="939.6" cy="687.6" r="3.8"/>
<circle cx="1016.7" cy="686.8" r="3.4"/>
<circle cx="1017.9" cy="683.3" r="4.6"/>
<circle cx="1008.1" cy="690.0" r="4"/>
<circle cx="940.3" cy="681.7" r="4.6"/>
<circle cx="939.6" cy="683.9" r="4.2"/>
<circle cx="938.6" cy="685.1" r="4"/>
<circle cx="955.4" cy="676.7" r="3.4"/>
<circle cx="984.4" cy="688.6" r="4.6"/>
<circle cx="970.0" cy="686.0" r="3.4"/>
<circle cx="971.8" cy="691.2" r="4.6"/>
<circle cx="1012.2" cy="690.6" r="4.2"/>
<circle cx="972.6" cy="688.2" r="3.8"/>
<circle cx="983.2" cy="688.8" r="3.4"/>
<circle cx="1006.5" cy="691.1" r="3.4"/>
<circle cx="961.4" cy="690.6" r="3.8"/>
<circle cx="966.8" cy="685.7" r="3.8"/>
<circle cx="987.3" cy="691.0" r="4"/>
<circle cx="1019.7" cy="677.4" r="4.2"/>
<circle cx="1006.5" cy="681.3" r="3.6"/>
<circle cx="1007.3" cy="692.4" r="4.6"/>
<circle cx="948.3" cy="680.6" r="3.6"/>
<circle cx="969.1" cy="680.2" r="3.8"/>
<circle cx="993.4" cy="682.0" r="4.6"/>
<circle cx="981.2" cy="685.7" r="4"/>
<circle cx="968.4" cy="689.9" r="4.6"/>
<circle cx="984.2" cy="690.7" r="4.6"/>
<circle cx="985.0" cy="691.5" r="3.6"/>
<circle cx="1021.7" cy="684.9" r="4"/>
<circle cx="935.4" cy="679.7" r="3.4"/>
<circle cx="998.5" cy="686.2" r="3.8"/>
<circle cx="1015.0" cy="690.3" r="4.2"/>
<circle cx="966.3" cy="686.1" r="4.2"/>
<circle cx="994.3" cy="684.1" r="4.2"/>
<circle cx="981.3" cy="686.0" r="4.2"/>
<circle cx="946.4" cy="691.2" r="3.8"/>
<circle cx="1022.2" cy="692.3" r="3.6"/>
<circle cx="968.7" cy="682.3" r="4"/>
<circle cx="975.4" cy="687.9" r="3.4"/>
<circle cx="940.7" cy="689.7" r="3.6"/>
<circle cx="934.3" cy="679.3" r="4.2"/>
<circle cx="994.0" cy="682.2" r="3.6"/>
<circle cx="1022.2" cy="684.9" r="3.4"/>
<circle cx="1003.1" cy="687.9" r="4.2"/>
<circle cx="1007.3" cy="688.5" r="4"/>
<circle cx="946.4" cy="690.8" r="4"/>
<circle cx="946.9" cy="683.1" r="4.6"/>
<circle cx="990.4" cy="685.5" r="3.8"/>
<circle cx="984.7" cy="685.4" r="3.8"/>
<circle cx="979.1" cy="683.5" r="4.6"/>
<circle cx="1018.6" cy="687.6" r="4"/>
<circle cx="1004.3" cy="689.2" r="4.2"/>
<circle cx="961.5" cy="680.6" r="3.4"/>
<circle cx="955.1" cy="685.7" r="3.6"/>
<circle cx="951.5" cy="680.0" r="3.6"/>
<circle cx="1020.3" cy="689.4" r="3.4"/>
<circle cx="990.7" cy="690.8" r="3.4"/>
<circle cx="938.3" cy="675.3" r="4.6"/>
<circle cx="970.3" cy="689.6" r="3.6"/>
<circle cx="1004.5" cy="691.1" r="3.8"/>
<circle cx="990.6" cy="692.5" r="4.2"/>
<circle cx="932.9" cy="678.0" r="4"/>
<circle cx="950.8" cy="692.9" r="3.4"/>
<circle cx="1010.3" cy="686.0" r="4"/>
<circle cx="996.9" cy="686.2" r="4.2"/>
<circle cx="967.2" cy="685.2" r="4.6"/>
<circle cx="956.3" cy="692.5" r="4.2"/>
<circle cx="981.0" cy="684.4" r="4.6"/>
<circle cx="941.5" cy="686.5" r="4.2"/>
<circle cx="934.3" cy="689.2" r="3.8"/>
<circle cx="936.3" cy="687.6" r="3.8"/>
<circle cx="994.2" cy="682.0" r="3.6"/>
<circle cx="964.7" cy="692.2" r="4.6"/>
<circle cx="1002.8" cy="690.3" r="4.2"/>
<circle cx="953.8" cy="689.7" r="4.2"/>
<circle cx="1006.3" cy="689.5" r="4.2"/>
<circle cx="991.0" cy="691.8" r="4.6"/>
<circle cx="976.5" cy="688.7" r="4.6"/>
<circle cx="958.9" cy="691.8" r="4.6"/>
<circle cx="1013.5" cy="677.9" r="3.4"/>
<circle cx="1016.7" cy="683.5" r="4.6"/>
<circle cx="967.5" cy="679.4" r="4.2"/>
<circle cx="1023.1" cy="688.0" r="3.6"/>
<circle cx="1020.8" cy="685.2" r="3.6"/>
<circle cx="972.9" cy="685.2" r="3.6"/>
<circle cx="1006.7" cy="681.2" r="3.8"/>
<circle cx="1019.0" cy="683.4" r="4"/>
<circle cx="936.9" cy="676.7" r="3.4"/>
<circle cx="968.9" cy="685.4" r="3.4"/>
<circle cx="962.4" cy="682.7" r="3.8"/>
<circle cx="982.4" cy="675.5" r="4"/>
<circle cx="979.2" cy="677.2" r="3.4"/>
<circle cx="952.2" cy="686.4" r="3.6"/>
<circle cx="1015.9" cy="689.7" r="3.6"/>
<circle cx="1003.9" cy="686.2" r="3.8"/>
<circle cx="1022.9" cy="683.9" r="4.6"/>
<circle cx="995.6" cy="686.1" r="4.2"/>
<circle cx="973.7" cy="688.1" r="3.6"/>
<circle cx="944.6" cy="685.8" r="3.6"/>
<circle cx="996.6" cy="675.7" r="3.6"/>
<circle cx="1004.4" cy="690.5" r="3.4"/>
<circle cx="1000.9" cy="687.5" r="4.2"/>
<circle cx="946.8" cy="682.9" r="3.6"/>
<circle cx="947.1" cy="678.6" r="3.4"/>
<circle cx="1016.5" cy="692.0" r="4"/>
<circle cx="993.7" cy="689.7" r="4"/>
<circle cx="942.9" cy="691.4" r="4.2"/>
<circle cx="1005.3" cy="686.6" r="4.2"/>
<circle cx="965.7" cy="685.9" r="3.4"/>
<circle cx="959.2" cy="687.0" r="3.6"/>
<circle cx="972.6" cy="691.5" r="4.6"/>
<circle cx="1006.0" cy="687.9" r="3.4"/>
<circle cx="1019.4" cy="688.4" r="4"/>
<circle cx="955.8" cy="684.4" r="4.2"/>
<circle cx="997.2" cy="688.8" r="3.6"/>
<circle cx="1024.1" cy="689.9" r="3.8"/>
<circle cx="967.0" cy="680.3" r="4.6"/>
<circle cx="939.8" cy="691.7" r="4"/>
<circle cx="979.9" cy="689.4" r="4"/>
</g>
<g class="p" fill="#fa6b5c" stroke="#e16052">
<circle cx="950.8" cy="618.6" r="3.9"/>
<circle cx="952.0" cy="645.6" r="3.9"/>
<circle cx="954.2" cy="651.0" r="3.8"/>
<circle cx="1000.0" cy="648.3" r="3.8"/>
<circle cx="979.5" cy="667.0" r="4.4"/>
<circle cx="939.0" cy="658.0" r="4.4"/>
<circle cx="946.0" cy="658.5" r="4.2"/>
<circle cx="946.5" cy="664.5" r="4.2"/>
<circle cx="948.0" cy="667.0" r="4.8"/>
<circle cx="938.5" cy="671.5" r="4.2"/>
<circle cx="1022.0" cy="668.0" r="4.4"/>
<circle cx="1014.0" cy="669.5" r="3.8"/>
<circle cx="1008.0" cy="671.0" r="3.8"/>
<circle cx="994.5" cy="670.5" r="4.2"/>
<circle cx="1021.0" cy="676.0" r="3.8"/>
<circle cx="1004.0" cy="676.5" r="3.8"/>
<circle cx="996.5" cy="679.0" r="3.8"/>
</g>
<g class="q" fill="#7ba3eb" stroke="#769ce1">
<circle cx="1082.8" cy="689.6" r="4.2"/>
<circle cx="1119.7" cy="692.4" r="3.8"/>
<circle cx="1151.2" cy="691.2" r="3.4"/>
<circle cx="1080.3" cy="690.8" r="3.6"/>
<circle cx="1109.8" cy="686.5" r="4.6"/>
<circle cx="1182.2" cy="692.6" r="3.6"/>
<circle cx="1087.2" cy="686.7" r="4.6"/>
<circle cx="1199.7" cy="690.2" r="3.8"/>
<circle cx="1102.5" cy="691.6" r="3.4"/>
<circle cx="1140.1" cy="688.6" r="4"/>
<circle cx="1155.3" cy="690.2" r="3.6"/>
<circle cx="1209.2" cy="690.6" r="4"/>
<circle cx="1090.9" cy="688.6" r="4.6"/>
<circle cx="1113.6" cy="690.5" r="3.6"/>
<circle cx="1155.3" cy="692.7" r="3.8"/>
<circle cx="1178.8" cy="691.9" r="3.8"/>
<circle cx="1112.7" cy="690.6" r="3.4"/>
<circle cx="1169.0" cy="687.6" r="3.4"/>
<circle cx="1100.8" cy="689.4" r="3.8"/>
<circle cx="1097.1" cy="687.0" r="4"/>
<circle cx="1070.5" cy="685.8" r="3.4"/>
<circle cx="1194.1" cy="689.8" r="3.8"/>
<circle cx="1113.5" cy="692.2" r="3.6"/>
<circle cx="1057.9" cy="688.8" r="3.8"/>
<circle cx="1174.3" cy="683.4" r="4"/>
<circle cx="1174.9" cy="687.1" r="3.8"/>
<circle cx="1157.4" cy="690.2" r="3.4"/>
<circle cx="1134.7" cy="690.2" r="3.8"/>
<circle cx="1029.5" cy="689.1" r="4.6"/>
<circle cx="1166.5" cy="692.0" r="4.6"/>
<circle cx="1069.8" cy="684.5" r="4.2"/>
<circle cx="1174.6" cy="689.4" r="4"/>
<circle cx="1043.1" cy="690.4" r="3.4"/>
<circle cx="1141.3" cy="690.2" r="4.6"/>
<circle cx="1088.1" cy="682.3" r="4.2"/>
<circle cx="1143.0" cy="688.8" r="3.6"/>
<circle cx="1090.3" cy="689.9" r="3.8"/>
<circle cx="1156.1" cy="690.2" r="4"/>
<circle cx="1182.5" cy="689.2" r="3.8"/>
<circle cx="1130.8" cy="689.8" r="3.6"/>
<circle cx="1218.7" cy="692.9" r="3.8"/>
<circle cx="1094.6" cy="690.4" r="3.6"/>
<circle cx="1107.3" cy="691.3" r="4.2"/>
<circle cx="1055.7" cy="687.4" r="4.2"/>
<circle cx="1107.2" cy="691.0" r="3.8"/>
<circle cx="1175.4" cy="688.9" r="3.8"/>
<circle cx="1076.5" cy="688.7" r="3.4"/>
<circle cx="1070.1" cy="689.5" r="4"/>
<circle cx="1078.0" cy="689.8" r="4.6"/>
<circle cx="1086.9" cy="679.2" r="3.8"/>
<circle cx="1053.6" cy="690.2" r="3.8"/>
<circle cx="1050.2" cy="687.4" r="4.2"/>
<circle cx="1206.4" cy="691.4" r="4.2"/>
<circle cx="1177.2" cy="691.5" r="4.2"/>
<circle cx="1180.5" cy="690.9" r="3.8"/>
<circle cx="1204.0" cy="691.9" r="4.6"/>
<circle cx="1046.1" cy="689.1" r="3.4"/>
<circle cx="1065.2" cy="692.4" r="4.6"/>
<circle cx="1188.8" cy="690.8" r="4.6"/>
<circle cx="1038.2" cy="692.0" r="4.2"/>
<circle cx="1217.6" cy="683.5" r="3.4"/>
<circle cx="1043.6" cy="690.8" r="4.2"/>
<circle cx="1129.5" cy="682.1" r="3.4"/>
<circle cx="1127.3" cy="686.6" r="3.8"/>
<circle cx="1069.2" cy="690.9" r="4"/>
<circle cx="1092.6" cy="688.7" r="3.8"/>
<circle cx="1030.9" cy="690.8" r="3.6"/>
<circle cx="1132.9" cy="692.5" r="4"/>
<circle cx="1177.2" cy="690.3" r="3.4"/>
<circle cx="1092.4" cy="687.7" r="4.2"/>
<circle cx="1167.3" cy="690.0" r="4"/>
<circle cx="1047.2" cy="691.7" r="4.6"/>
<circle cx="1101.6" cy="690.9" r="3.8"/>
<circle cx="1085.4" cy="692.9" r="4"/>
<circle cx="1061.5" cy="686.8" r="4.2"/>
<circle cx="1109.5" cy="688.8" r="4.6"/>
<circle cx="1043.0" cy="689.8" r="4.2"/>
<circle cx="1051.5" cy="690.8" r="4.2"/>
<circle cx="1155.2" cy="688.9" r="4"/>
<circle cx="1206.1" cy="692.8" r="3.6"/>
<circle cx="1116.5" cy="680.5" r="3.6"/>
<circle cx="1055.4" cy="690.0" r="4.2"/>
<circle cx="1079.3" cy="691.4" r="3.4"/>
<circle cx="1111.3" cy="690.8" r="3.4"/>
<circle cx="1123.7" cy="689.2" r="3.4"/>
<circle cx="1105.6" cy="682.5" r="3.6"/>
<circle cx="1055.2" cy="689.4" r="3.6"/>
<circle cx="1124.7" cy="691.8" r="3.4"/>
<circle cx="1073.4" cy="690.1" r="4.2"/>
<circle cx="1046.0" cy="690.6" r="3.6"/>
<circle cx="1218.8" cy="688.5" r="3.8"/>
<circle cx="1071.9" cy="692.8" r="3.6"/>
<circle cx="1033.7" cy="690.8" r="4.6"/>
<circle cx="1162.3" cy="689.6" r="3.8"/>
<circle cx="1172.6" cy="692.4" r="4.6"/>
<circle cx="1142.5" cy="692.3" r="3.8"/>
<circle cx="1134.8" cy="686.9" r="3.4"/>
<circle cx="1169.0" cy="692.5" r="4.6"/>
<circle cx="1171.6" cy="689.5" r="4.2"/>
<circle cx="1139.3" cy="683.9" r="3.4"/>
<circle cx="1154.3" cy="690.8" r="4"/>
<circle cx="1138.1" cy="686.3" r="4"/>
<circle cx="1040.0" cy="690.7" r="4.2"/>
<circle cx="1102.9" cy="691.3" r="4.2"/>
<circle cx="1044.5" cy="683.3" r="4"/>
<circle cx="1123.2" cy="688.0" r="3.4"/>
<circle cx="1073.4" cy="680.1" r="4.6"/>
<circle cx="1082.5" cy="691.6" r="3.4"/>
<circle cx="1203.3" cy="690.0" r="4"/>
<circle cx="1076.4" cy="689.5" r="4"/>
<circle cx="1113.2" cy="687.7" r="3.8"/>
<circle cx="1049.2" cy="688.6" r="4.6"/>
<circle cx="1179.4" cy="688.7" r="4"/>
<circle cx="1169.0" cy="681.8" r="4.6"/>
<circle cx="1139.5" cy="688.8" r="4.2"/>
<circle cx="1052.3" cy="693.0" r="4"/>
<circle cx="1075.4" cy="689.8" r="3.4"/>
<circle cx="1141.0" cy="692.0" r="3.8"/>
<circle cx="1044.5" cy="689.2" r="4.6"/>
<circle cx="1166.7" cy="688.8" r="3.4"/>
<circle cx="1090.5" cy="692.5" r="4"/>
<circle cx="1208.6" cy="685.7" r="3.4"/>
<circle cx="1113.9" cy="692.1" r="3.8"/>
<circle cx="1130.9" cy="690.6" r="4.2"/>
<circle cx="1159.7" cy="689.8" r="3.8"/>
<circle cx="1077.8" cy="689.0" r="3.6"/>
<circle cx="1141.0" cy="689.1" r="4.6"/>
<circle cx="1091.5" cy="689.6" r="4"/>
<circle cx="1192.5" cy="692.3" r="3.8"/>
<circle cx="1202.2" cy="688.9" r="3.8"/>
<circle cx="1061.2" cy="691.5" r="3.6"/>
<circle cx="1101.0" cy="692.4" r="3.8"/>
<circle cx="1220.7" cy="690.7" r="4.2"/>
<circle cx="1067.1" cy="686.9" r="4.6"/>
<circle cx="1176.4" cy="690.0" r="4.6"/>
<circle cx="1111.0" cy="687.3" r="3.6"/>
<circle cx="1048.2" cy="690.8" r="4.2"/>
<circle cx="1075.2" cy="691.8" r="3.8"/>
<circle cx="1158.4" cy="692.8" r="4.6"/>
<circle cx="1198.7" cy="692.5" r="3.4"/>
<circle cx="1031.4" cy="689.2" r="3.4"/>
<circle cx="1186.5" cy="691.1" r="3.6"/>
<circle cx="1121.8" cy="689.4" r="4"/>
<circle cx="1035.9" cy="691.9" r="3.4"/>
<circle cx="1104.1" cy="689.5" r="4.2"/>
<circle cx="1084.6" cy="687.7" r="4.2"/>
<circle cx="1151.7" cy="691.7" r="3.8"/>
<circle cx="1145.4" cy="689.5" r="3.4"/>
<circle cx="1145.8" cy="692.2" r="4"/>
<circle cx="1092.9" cy="690.2" r="4.6"/>
<circle cx="1213.4" cy="691.7" r="4.2"/>
<circle cx="1196.6" cy="687.8" r="3.6"/>
<circle cx="1098.4" cy="692.4" r="4.6"/>
<circle cx="1108.4" cy="692.3" r="3.8"/>
<circle cx="1188.2" cy="687.0" r="3.6"/>
<circle cx="1032.0" cy="687.7" r="3.8"/>
<circle cx="1084.1" cy="689.9" r="3.4"/>
<circle cx="1125.3" cy="679.5" r="4.6"/>
<circle cx="1057.1" cy="691.6" r="3.6"/>
<circle cx="1114.1" cy="692.2" r="3.8"/>
<circle cx="1101.7" cy="690.5" r="4"/>
<circle cx="1098.7" cy="690.6" r="4.2"/>
<circle cx="1208.1" cy="688.9" r="4.2"/>
<circle cx="1134.5" cy="689.1" r="4.2"/>
<circle cx="1076.5" cy="680.1" r="3.8"/>
<circle cx="1194.6" cy="688.1" r="3.6"/>
<circle cx="1163.9" cy="689.5" r="3.8"/>
<circle cx="1088.6" cy="682.7" r="4.6"/>
<circle cx="1051.2" cy="690.1" r="4"/>
<circle cx="1116.4" cy="691.5" r="3.8"/>
<circle cx="1164.5" cy="687.0" r="3.4"/>
<circle cx="1095.5" cy="691.2" r="3.8"/>
<circle cx="1174.5" cy="691.4" r="3.8"/>
<circle cx="1053.8" cy="680.3" r="4.6"/>
<circle cx="1043.4" cy="675.0" r="3.4"/>
<circle cx="1034.8" cy="691.7" r="4.2"/>
<circle cx="1062.0" cy="690.6" r="3.6"/>
<circle cx="1205.4" cy="687.9" r="4.6"/>
<circle cx="1112.8" cy="689.3" r="3.4"/>
<circle cx="1207.6" cy="688.5" r="3.6"/>
<circle cx="1173.3" cy="691.3" r="3.6"/>
<circle cx="1057.3" cy="689.0" r="4.6"/>
<circle cx="1138.8" cy="689.4" r="3.4"/>
<circle cx="1213.4" cy="690.0" r="3.8"/>
<circle cx="1135.4" cy="688.9" r="3.4"/>
<circle cx="1097.6" cy="690.0" r="4"/>
<circle cx="1052.1" cy="690.1" r="3.8"/>
<circle cx="1213.3" cy="679.3" r="4.6"/>
<circle cx="1163.9" cy="690.6" r="3.4"/>
<circle cx="1092.5" cy="689.3" r="3.8"/>
<circle cx="1137.0" cy="685.8" r="3.4"/>
<circle cx="1118.0" cy="686.5" r="3.6"/>
<circle cx="1077.7" cy="692.7" r="4.2"/>
<circle cx="1189.6" cy="691.0" r="3.8"/>
<circle cx="1129.9" cy="690.8" r="4.6"/>
<circle cx="1069.2" cy="691.2" r="4.2"/>
<circle cx="1094.0" cy="686.3" r="4.6"/>
<circle cx="1188.9" cy="692.0" r="3.6"/>
<circle cx="1093.2" cy="691.7" r="3.4"/>
<circle cx="1129.5" cy="690.0" r="4.2"/>
<circle cx="1102.6" cy="689.6" r="4.2"/>
<circle cx="1160.7" cy="690.9" r="4"/>
<circle cx="1193.2" cy="692.6" r="4.2"/>
<circle cx="1089.6" cy="690.7" r="3.4"/>
<circle cx="1192.6" cy="690.8" r="3.6"/>
<circle cx="1071.8" cy="690.3" r="4.2"/>
<circle cx="1048.6" cy="686.8" r="3.8"/>
<circle cx="1102.1" cy="688.8" r="3.8"/>
<circle cx="1091.1" cy="689.4" r="3.6"/>
<circle cx="1061.1" cy="690.4" r="3.4"/>
<circle cx="1116.6" cy="691.6" r="3.6"/>
<circle cx="1208.7" cy="686.6" r="4"/>
<circle cx="1130.8" cy="691.9" r="3.4"/>
<circle cx="1041.6" cy="689.9" r="4.6"/>
<circle cx="1097.0" cy="688.8" r="4"/>
<circle cx="1197.1" cy="689.3" r="3.4"/>
<circle cx="1094.2" cy="687.1" r="3.4"/>
<circle cx="1098.2" cy="691.9" r="4.6"/>
<circle cx="1129.6" cy="690.4" r="3.8"/>
<circle cx="1040.9" cy="691.5" r="3.6"/>
<circle cx="1212.9" cy="689.5" r="4"/>
<circle cx="1114.2" cy="692.2" r="4.6"/>
<circle cx="1130.3" cy="690.7" r="4.6"/>
<circle cx="1119.0" cy="691.9" r="4.2"/>
<circle cx="1135.4" cy="692.1" r="3.4"/>
<circle cx="1132.3" cy="692.7" r="4"/>
<circle cx="1093.7" cy="689.2" r="3.8"/>
<circle cx="1110.2" cy="688.2" r="4.6"/>
<circle cx="1132.7" cy="686.2" r="4.2"/>
<circle cx="1194.2" cy="692.2" r="3.4"/>
<circle cx="1218.0" cy="680.9" r="3.8"/>
<circle cx="1030.6" cy="691.9" r="4.2"/>
<circle cx="1047.5" cy="688.9" r="4.6"/>
<circle cx="1161.7" cy="687.5" r="4"/>
<circle cx="1140.4" cy="686.2" r="4"/>
<circle cx="1208.3" cy="690.9" r="3.6"/>
<circle cx="1089.9" cy="692.2" r="3.4"/>
<circle cx="1158.8" cy="685.2" r="4"/>
<circle cx="1047.4" cy="690.0" r="3.8"/>
<circle cx="1192.5" cy="684.0" r="4"/>
<circle cx="1118.7" cy="690.0" r="4.2"/>
<circle cx="1194.8" cy="688.9" r="3.8"/>
<circle cx="1133.7" cy="688.6" r="4.2"/>
<circle cx="1058.0" cy="690.3" r="4.6"/>
<circle cx="1072.9" cy="689.4" r="4"/>
<circle cx="1124.7" cy="690.6" r="3.6"/>
<circle cx="1066.5" cy="688.6" r="3.4"/>
<circle cx="1040.8" cy="687.7" r="4"/>
<circle cx="1149.3" cy="690.0" r="3.4"/>
<circle cx="1105.2" cy="690.7" r="3.6"/>
<circle cx="1032.2" cy="690.2" r="3.6"/>
<circle cx="1173.6" cy="691.6" r="3.6"/>
<circle cx="1096.4" cy="690.6" r="3.8"/>
<circle cx="1066.2" cy="688.8" r="3.8"/>
<circle cx="1171.4" cy="692.7" r="4.6"/>
<circle cx="1085.0" cy="689.4" r="3.4"/>
<circle cx="1031.8" cy="688.7" r="4"/>
<circle cx="1171.7" cy="689.3" r="3.4"/>
<circle cx="1205.1" cy="689.9" r="3.6"/>
<circle cx="1141.0" cy="681.2" r="4.6"/>
<circle cx="1149.3" cy="691.8" r="4.2"/>
<circle cx="1117.8" cy="689.0" r="3.4"/>
<circle cx="1040.1" cy="689.0" r="3.4"/>
<circle cx="1128.7" cy="689.5" r="4"/>
<circle cx="1184.0" cy="689.5" r="3.4"/>
<circle cx="1079.2" cy="689.1" r="4.2"/>
<circle cx="1187.9" cy="692.0" r="3.6"/>
<circle cx="1050.4" cy="693.0" r="4.2"/>
<circle cx="1107.5" cy="689.4" r="4.2"/>
<circle cx="1059.1" cy="690.2" r="4.6"/>
<circle cx="1213.9" cy="682.9" r="3.6"/>
<circle cx="1060.8" cy="691.3" r="3.4"/>
<circle cx="1094.1" cy="690.8" r="4"/>
<circle cx="1065.6" cy="693.0" r="3.6"/>
<circle cx="1092.3" cy="689.7" r="4.6"/>
<circle cx="1208.6" cy="692.8" r="3.8"/>
<circle cx="1170.0" cy="691.2" r="4.2"/>
<circle cx="1101.7" cy="688.1" r="4.2"/>
<circle cx="1050.9" cy="683.4" r="4.6"/>
<circle cx="1161.6" cy="688.4" r="3.6"/>
<circle cx="1187.2" cy="692.0" r="4.2"/>
<circle cx="1108.6" cy="691.5" r="4.6"/>
<circle cx="1194.8" cy="688.9" r="3.6"/>
<circle cx="1114.0" cy="690.9" r="3.8"/>
<circle cx="1069.3" cy="691.7" r="4.2"/>
<circle cx="1155.9" cy="689.5" r="4.2"/>
<circle cx="1098.1" cy="686.0" r="3.6"/>
<circle cx="1041.3" cy="689.7" r="4.6"/>
<circle cx="1052.4" cy="685.8" r="3.4"/>
<circle cx="1132.2" cy="689.4" r="4"/>
<circle cx="1027.5" cy="691.9" r="3.8"/>
<circle cx="1053.2" cy="691.5" r="3.6"/>
<circle cx="1030.7" cy="689.7" r="4"/>
<circle cx="1155.5" cy="692.6" r="4"/>
<circle cx="1115.7" cy="681.6" r="3.6"/>
<circle cx="1050.7" cy="690.5" r="3.4"/>
<circle cx="1028.0" cy="685.4" r="3.6"/>
<circle cx="1148.9" cy="691.3" r="3.4"/>
<circle cx="1154.6" cy="685.1" r="3.8"/>
<circle cx="1041.7" cy="692.2" r="3.8"/>
<circle cx="1049.5" cy="688.7" r="4"/>
<circle cx="1081.0" cy="686.4" r="3.4"/>
<circle cx="1157.6" cy="691.3" r="3.4"/>
<circle cx="1109.4" cy="692.3" r="3.8"/>
<circle cx="1056.1" cy="692.4" r="4.6"/>
<circle cx="1173.0" cy="685.4" r="3.6"/>
<circle cx="1067.1" cy="686.5" r="4"/>
<circle cx="1094.9" cy="690.1" r="3.4"/>
<circle cx="1216.6" cy="677.8" r="3.4"/>
<circle cx="1032.2" cy="685.2" r="4.2"/>
<circle cx="1173.4" cy="686.7" r="4.2"/>
<circle cx="1108.7" cy="691.3" r="4.6"/>
<circle cx="1103.7" cy="690.6" r="4.6"/>
<circle cx="1218.6" cy="690.6" r="4.6"/>
<circle cx="1182.4" cy="692.8" r="3.8"/>
<circle cx="1174.4" cy="685.1" r="4"/>
<circle cx="1203.2" cy="690.9" r="4.6"/>
<circle cx="1164.7" cy="691.1" r="4.6"/>
<circle cx="1079.1" cy="688.7" r="4"/>
<circle cx="1182.2" cy="690.0" r="4"/>
<circle cx="1162.0" cy="685.7" r="4.2"/>
<circle cx="1032.0" cy="690.6" r="3.8"/>
<circle cx="1085.0" cy="692.7" r="3.6"/>
<circle cx="1112.2" cy="690.9" r="3.8"/>
<circle cx="1129.8" cy="692.4" r="3.4"/>
<circle cx="1148.4" cy="686.7" r="3.6"/>
<circle cx="1095.2" cy="689.7" r="4"/>
<circle cx="1144.4" cy="692.3" r="3.6"/>
<circle cx="1202.7" cy="691.5" r="3.6"/>
<circle cx="1214.3" cy="690.4" r="3.4"/>
<circle cx="1151.5" cy="689.3" r="3.8"/>
<circle cx="1160.9" cy="692.4" r="4.2"/>
<circle cx="1136.5" cy="691.6" r="4"/>
<circle cx="1151.7" cy="688.9" r="3.8"/>
<circle cx="1066.2" cy="692.0" r="4"/>
<circle cx="1079.6" cy="688.6" r="3.4"/>
<circle cx="1210.8" cy="689.2" r="4"/>
<circle cx="1125.1" cy="691.9" r="3.4"/>
<circle cx="1049.7" cy="691.4" r="3.6"/>
<circle cx="1118.5" cy="690.9" r="3.8"/>
<circle cx="1192.3" cy="692.4" r="3.6"/>
<circle cx="1162.5" cy="685.8" r="4.2"/>
<circle cx="1056.3" cy="690.9" r="3.4"/>
<circle cx="1104.1" cy="689.8" r="3.6"/>
<circle cx="1125.7" cy="689.2" r="3.8"/>
<circle cx="1142.4" cy="680.2" r="3.6"/>
<circle cx="1203.9" cy="690.3" r="4.2"/>
<circle cx="1212.0" cy="688.5" r="3.6"/>
<circle cx="1166.3" cy="691.6" r="3.4"/>
<circle cx="1205.9" cy="692.7" r="4"/>
<circle cx="1076.4" cy="682.4" r="3.4"/>
<circle cx="1053.9" cy="688.7" r="4"/>
<circle cx="1059.4" cy="691.6" r="4"/>
<circle cx="1179.4" cy="687.2" r="4"/>
<circle cx="1029.3" cy="692.6" r="3.4"/>
<circle cx="1109.2" cy="692.0" r="3.4"/>
<circle cx="1071.1" cy="688.2" r="3.4"/>
<circle cx="1176.8" cy="690.7" r="3.4"/>
<circle cx="1166.1" cy="685.6" r="4.2"/>
<circle cx="1125.7" cy="689.7" r="3.8"/>
<circle cx="1045.2" cy="692.6" r="4"/>
<circle cx="1047.6" cy="687.3" r="4.6"/>
<circle cx="1134.9" cy="686.9" r="3.8"/>
<circle cx="1051.1" cy="689.6" r="4"/>
<circle cx="1212.5" cy="690.8" r="3.6"/>
<circle cx="1068.9" cy="684.7" r="4.2"/>
<circle cx="1176.0" cy="688.7" r="3.4"/>
<circle cx="1215.7" cy="691.8" r="3.4"/>
<circle cx="1045.2" cy="691.9" r="4.2"/>
<circle cx="1187.8" cy="687.7" r="4"/>
<circle cx="1176.6" cy="692.5" r="3.6"/>
<circle cx="1061.6" cy="683.1" r="3.8"/>
</g>
<g class="p" fill="#7ba3eb" stroke="#6e92d3">
<circle cx="1044.6" cy="644.2" r="4.4"/>
<circle cx="1047.4" cy="641.2" r="4.2"/>
<circle cx="1139.0" cy="655.2" r="3.8"/>
<circle cx="1135.7" cy="662.5" r="3.8"/>
<circle cx="1145.6" cy="665.2" r="4.2"/>
<circle cx="1159.8" cy="662.2" r="3.8"/>
<circle cx="1213.4" cy="667.8" r="4.4"/>
<circle cx="1073.5" cy="670.0" r="4.2"/>
<circle cx="1039.5" cy="673.0" r="4.4"/>
<circle cx="1095.0" cy="673.5" r="4"/>
<circle cx="1086.0" cy="677.0" r="3.8"/>
<circle cx="1112.5" cy="677.5" r="3.8"/>
<circle cx="1127.5" cy="677.0" r="3.8"/>
<circle cx="1176.5" cy="677.5" r="3.8"/>
<circle cx="1163.0" cy="681.0" r="3.6"/>
</g>
<g class="q" fill="#e86ef8" stroke="#de69ee">
<circle cx="1236.5" cy="687.3" r="3.8"/>
<circle cx="1248.7" cy="692.0" r="4"/>
<circle cx="1269.2" cy="688.5" r="4.2"/>
<circle cx="1243.6" cy="688.6" r="3.4"/>
<circle cx="1254.4" cy="688.1" r="4.6"/>
<circle cx="1231.1" cy="690.3" r="4.2"/>
<circle cx="1255.3" cy="688.2" r="4.6"/>
<circle cx="1228.0" cy="682.1" r="3.4"/>
<circle cx="1251.8" cy="677.3" r="4"/>
<circle cx="1235.9" cy="691.6" r="3.8"/>
<circle cx="1271.7" cy="690.4" r="3.4"/>
<circle cx="1254.7" cy="692.7" r="4.6"/>
<circle cx="1239.2" cy="690.3" r="3.8"/>
<circle cx="1231.7" cy="684.8" r="4.6"/>
<circle cx="1247.8" cy="691.8" r="4.2"/>
<circle cx="1236.9" cy="678.8" r="4.2"/>
<circle cx="1249.4" cy="685.7" r="4"/>
<circle cx="1248.3" cy="690.1" r="4"/>
<circle cx="1225.9" cy="688.9" r="3.8"/>
<circle cx="1242.1" cy="679.0" r="4.2"/>
<circle cx="1252.6" cy="690.4" r="3.6"/>
<circle cx="1227.7" cy="678.2" r="4.2"/>
<circle cx="1228.5" cy="692.6" r="4"/>
<circle cx="1247.4" cy="686.8" r="3.4"/>
<circle cx="1241.6" cy="692.1" r="3.6"/>
<circle cx="1233.4" cy="682.6" r="4.6"/>
<circle cx="1275.0" cy="690.2" r="4"/>
<circle cx="1241.4" cy="675.2" r="4.6"/>
<circle cx="1242.4" cy="680.5" r="4.2"/>
<circle cx="1246.8" cy="686.7" r="3.8"/>
<circle cx="1232.8" cy="691.5" r="4"/>
<circle cx="1261.4" cy="684.2" r="3.6"/>
<circle cx="1271.9" cy="692.2" r="4.2"/>
<circle cx="1252.3" cy="687.9" r="3.4"/>
<circle cx="1240.3" cy="684.8" r="4.2"/>
<circle cx="1262.4" cy="679.7" r="3.8"/>
<circle cx="1258.8" cy="688.2" r="3.8"/>
<circle cx="1272.6" cy="687.4" r="3.6"/>
<circle cx="1231.5" cy="686.2" r="3.4"/>
<circle cx="1264.2" cy="692.4" r="4.6"/>
<circle cx="1239.5" cy="680.2" r="3.8"/>
<circle cx="1225.6" cy="686.6" r="4"/>
<circle cx="1266.3" cy="679.4" r="3.4"/>
<circle cx="1260.6" cy="681.3" r="3.4"/>
<circle cx="1253.7" cy="685.6" r="4"/>
<circle cx="1229.9" cy="686.2" r="4.6"/>
<circle cx="1242.0" cy="679.5" r="4.6"/>
<circle cx="1243.0" cy="690.5" r="4"/>
<circle cx="1266.5" cy="686.7" r="4.6"/>
<circle cx="1258.3" cy="684.6" r="3.6"/>
<circle cx="1236.7" cy="689.2" r="3.4"/>
<circle cx="1264.2" cy="690.2" r="4"/>
<circle cx="1252.4" cy="692.3" r="3.8"/>
<circle cx="1226.9" cy="682.4" r="4.6"/>
<circle cx="1237.0" cy="678.5" r="3.8"/>
<circle cx="1224.2" cy="685.8" r="3.8"/>
<circle cx="1237.9" cy="691.9" r="3.8"/>
<circle cx="1238.7" cy="691.7" r="4"/>
<circle cx="1264.2" cy="690.1" r="3.4"/>
<circle cx="1261.9" cy="690.5" r="4.6"/>
<circle cx="1274.4" cy="689.0" r="4"/>
<circle cx="1239.8" cy="684.8" r="3.8"/>
<circle cx="1271.3" cy="692.9" r="4.2"/>
<circle cx="1258.0" cy="692.2" r="3.4"/>
<circle cx="1233.2" cy="687.8" r="3.4"/>
<circle cx="1233.5" cy="692.4" r="4.2"/>
<circle cx="1250.7" cy="691.6" r="3.8"/>
<circle cx="1267.6" cy="683.2" r="4.6"/>
<circle cx="1233.1" cy="684.0" r="4.6"/>
<circle cx="1265.7" cy="684.0" r="3.4"/>
<circle cx="1240.6" cy="684.9" r="3.8"/>
<circle cx="1249.0" cy="692.5" r="4"/>
<circle cx="1240.7" cy="687.7" r="4"/>
<circle cx="1242.7" cy="681.7" r="4"/>
<circle cx="1252.5" cy="687.3" r="4.6"/>
<circle cx="1251.4" cy="691.5" r="3.6"/>
<circle cx="1251.6" cy="680.7" r="3.4"/>
<circle cx="1226.2" cy="691.6" r="4.6"/>
<circle cx="1225.4" cy="691.5" r="3.8"/>
<circle cx="1250.1" cy="680.3" r="4.6"/>
<circle cx="1245.6" cy="687.6" r="3.8"/>
<circle cx="1226.3" cy="685.7" r="4.2"/>
<circle cx="1272.8" cy="681.0" r="3.8"/>
<circle cx="1259.5" cy="683.4" r="3.8"/>
<circle cx="1272.6" cy="679.8" r="3.4"/>
<circle cx="1238.2" cy="688.7" r="4.6"/>
<circle cx="1240.8" cy="679.4" r="3.8"/>
<circle cx="1261.8" cy="688.5" r="3.4"/>
<circle cx="1239.0" cy="689.4" r="4.2"/>
<circle cx="1232.9" cy="689.5" r="3.6"/>
<circle cx="1266.2" cy="688.2" r="4.6"/>
<circle cx="1259.8" cy="690.4" r="3.4"/>
<circle cx="1259.5" cy="686.7" r="4.6"/>
<circle cx="1252.4" cy="684.2" r="4"/>
<circle cx="1274.1" cy="686.4" r="3.4"/>
<circle cx="1244.6" cy="688.4" r="4.2"/>
<circle cx="1276.5" cy="675.3" r="3.4"/>
<circle cx="1260.1" cy="683.1" r="4"/>
<circle cx="1274.0" cy="692.7" r="3.6"/>
<circle cx="1233.4" cy="690.0" r="3.8"/>
<circle cx="1256.5" cy="688.6" r="3.6"/>
<circle cx="1259.1" cy="690.9" r="3.8"/>
<circle cx="1270.0" cy="683.9" r="3.8"/>
<circle cx="1267.7" cy="692.6" r="3.4"/>
<circle cx="1234.3" cy="687.2" r="3.8"/>
<circle cx="1226.1" cy="681.8" r="4.6"/>
</g>
<g class="p" fill="#e86ef8" stroke="#d063df">
<circle cx="1228.0" cy="666.0" r="4"/>
<circle cx="1234.5" cy="664.5" r="3.8"/>
<circle cx="1246.0" cy="666.0" r="4"/>
<circle cx="1231.0" cy="672.5" r="4"/>
<circle cx="1240.0" cy="676.0" r="4.2"/>
<circle cx="1224.0" cy="678.0" r="3.8"/>
<circle cx="1246.0" cy="681.0" r="3.6"/>
<circle cx="1257.0" cy="679.5" r="3.6"/>
<circle cx="1274.5" cy="678.5" r="3.6"/>
<circle cx="1236.0" cy="669.0" r="3.8"/>
</g>
<g class="q" fill="#7bee3a" stroke="#76e437">
<circle cx="1343.6" cy="688.5" r="3.4"/>
<circle cx="1352.8" cy="692.9" r="3.4"/>
<circle cx="1590.8" cy="691.9" r="4.2"/>
<circle cx="1429.4" cy="691.8" r="4.2"/>
<circle cx="1290.9" cy="691.3" r="4"/>
<circle cx="1559.8" cy="691.9" r="3.8"/>
<circle cx="1577.9" cy="691.0" r="4"/>
<circle cx="1574.8" cy="685.8" r="4.2"/>
<circle cx="1289.6" cy="692.5" r="4.2"/>
<circle cx="1439.7" cy="690.4" r="3.6"/>
<circle cx="1486.8" cy="689.9" r="4.6"/>
<circle cx="1417.6" cy="687.9" r="4"/>
<circle cx="1555.6" cy="692.3" r="4"/>
<circle cx="1305.3" cy="684.0" r="4.2"/>
<circle cx="1463.7" cy="690.8" r="3.6"/>
<circle cx="1403.1" cy="692.7" r="4"/>
<circle cx="1581.2" cy="690.9" r="4"/>
<circle cx="1396.4" cy="691.2" r="4.2"/>
<circle cx="1469.8" cy="690.2" r="3.4"/>
<circle cx="1581.1" cy="690.4" r="4.6"/>
<circle cx="1433.5" cy="691.2" r="4"/>
<circle cx="1371.7" cy="690.4" r="4.2"/>
<circle cx="1556.8" cy="689.8" r="4"/>
<circle cx="1471.5" cy="692.6" r="3.4"/>
<circle cx="1559.5" cy="692.6" r="4.6"/>
<circle cx="1573.4" cy="692.9" r="3.8"/>
<circle cx="1580.6" cy="691.3" r="4"/>
<circle cx="1338.4" cy="685.3" r="4.6"/>
<circle cx="1419.8" cy="692.7" r="4"/>
<circle cx="1391.4" cy="689.5" r="4.2"/>
<circle cx="1518.8" cy="691.1" r="3.8"/>
<circle cx="1517.2" cy="691.5" r="4"/>
<circle cx="1338.4" cy="691.4" r="4.6"/>
<circle cx="1355.9" cy="690.4" r="4"/>
<circle cx="1403.6" cy="692.3" r="4"/>
<circle cx="1417.4" cy="690.3" r="4.6"/>
<circle cx="1435.9" cy="677.7" r="3.8"/>
<circle cx="1529.3" cy="692.5" r="3.4"/>
<circle cx="1308.2" cy="690.1" r="3.4"/>
<circle cx="1443.5" cy="688.7" r="4.2"/>
<circle cx="1382.0" cy="692.4" r="4"/>
<circle cx="1456.7" cy="692.7" r="4.6"/>
<circle cx="1444.3" cy="692.7" r="4.2"/>
<circle cx="1420.6" cy="690.2" r="3.6"/>
<circle cx="1568.2" cy="692.4" r="3.6"/>
<circle cx="1306.1" cy="692.5" r="4.2"/>
<circle cx="1411.6" cy="691.5" r="4.2"/>
<circle cx="1457.0" cy="690.6" r="3.8"/>
<circle cx="1300.8" cy="692.2" r="3.4"/>
<circle cx="1447.7" cy="692.5" r="3.6"/>
<circle cx="1282.6" cy="690.8" r="4.6"/>
<circle cx="1395.6" cy="692.9" r="3.6"/>
<circle cx="1342.9" cy="684.6" r="3.6"/>
<circle cx="1340.6" cy="690.8" r="3.6"/>
<circle cx="1392.7" cy="687.5" r="3.8"/>
<circle cx="1420.1" cy="684.3" r="4.2"/>
<circle cx="1547.2" cy="680.7" r="3.6"/>
<circle cx="1458.7" cy="692.5" r="3.8"/>
<circle cx="1318.2" cy="692.0" r="3.4"/>
<circle cx="1382.2" cy="691.2" r="3.8"/>
<circle cx="1306.8" cy="691.4" r="4.6"/>
<circle cx="1592.4" cy="690.1" r="4.2"/>
<circle cx="1508.4" cy="692.6" r="3.8"/>
<circle cx="1538.3" cy="692.5" r="4.2"/>
<circle cx="1363.9" cy="689.9" r="4.2"/>
<circle cx="1430.6" cy="692.8" r="4.2"/>
<circle cx="1328.4" cy="690.8" r="4"/>
<circle cx="1344.6" cy="690.2" r="3.8"/>
<circle cx="1516.7" cy="677.2" r="3.8"/>
<circle cx="1455.2" cy="679.9" r="4.6"/>
<circle cx="1545.3" cy="690.0" r="4"/>
<circle cx="1492.3" cy="690.2" r="4.2"/>
<circle cx="1420.8" cy="687.3" r="3.6"/>
<circle cx="1375.8" cy="690.3" r="3.4"/>
<circle cx="1301.4" cy="692.2" r="4.2"/>
<circle cx="1497.3" cy="690.2" r="3.8"/>
<circle cx="1461.3" cy="690.9" r="4"/>
<circle cx="1475.5" cy="691.3" r="3.8"/>
<circle cx="1436.6" cy="688.3" r="3.8"/>
<circle cx="1498.0" cy="691.2" r="4.6"/>
<circle cx="1443.9" cy="692.1" r="4"/>
<circle cx="1344.4" cy="692.8" r="3.8"/>
<circle cx="1423.6" cy="688.6" r="4.2"/>
<circle cx="1532.8" cy="692.2" r="4"/>
<circle cx="1397.2" cy="690.0" r="4.2"/>
<circle cx="1389.0" cy="689.5" r="4.6"/>
<circle cx="1363.1" cy="683.5" r="3.6"/>
<circle cx="1456.9" cy="690.6" r="4.6"/>
<circle cx="1505.2" cy="690.2" r="4.6"/>
<circle cx="1543.8" cy="691.2" r="4.6"/>
<circle cx="1551.2" cy="690.3" r="4.6"/>
<circle cx="1418.5" cy="689.5" r="4"/>
<circle cx="1304.5" cy="692.6" r="4.6"/>
<circle cx="1321.6" cy="692.6" r="4.6"/>
<circle cx="1515.0" cy="690.7" r="4.2"/>
<circle cx="1594.5" cy="691.8" r="4.2"/>
<circle cx="1361.6" cy="692.0" r="4"/>
<circle cx="1550.3" cy="690.2" r="4.6"/>
<circle cx="1317.2" cy="690.1" r="4.2"/>
<circle cx="1440.0" cy="692.7" r="4.2"/>
<circle cx="1396.4" cy="691.9" r="3.4"/>
<circle cx="1312.7" cy="691.2" r="4"/>
<circle cx="1382.7" cy="683.7" r="4.6"/>
<circle cx="1562.1" cy="692.1" r="3.6"/>
<circle cx="1481.4" cy="692.9" r="3.6"/>
<circle cx="1319.0" cy="690.2" r="4.2"/>
<circle cx="1590.1" cy="692.1" r="3.4"/>
<circle cx="1547.4" cy="689.9" r="4.2"/>
<circle cx="1359.7" cy="690.9" r="3.6"/>
<circle cx="1540.7" cy="690.1" r="3.6"/>
<circle cx="1317.9" cy="683.9" r="4.2"/>
<circle cx="1292.6" cy="690.4" r="4.6"/>
<circle cx="1473.4" cy="688.0" r="4"/>
<circle cx="1293.8" cy="692.3" r="4.6"/>
<circle cx="1293.9" cy="686.0" r="3.6"/>
<circle cx="1517.7" cy="691.5" r="4"/>
<circle cx="1430.6" cy="690.3" r="4.6"/>
<circle cx="1486.6" cy="692.5" r="3.8"/>
<circle cx="1560.8" cy="691.4" r="4.2"/>
<circle cx="1468.6" cy="691.3" r="3.8"/>
<circle cx="1367.3" cy="692.3" r="3.4"/>
<circle cx="1403.5" cy="690.4" r="3.6"/>
<circle cx="1345.5" cy="691.2" r="4.2"/>
<circle cx="1298.6" cy="690.0" r="4"/>
<circle cx="1559.2" cy="690.6" r="4.6"/>
<circle cx="1415.3" cy="691.7" r="3.8"/>
<circle cx="1391.6" cy="692.1" r="3.6"/>
<circle cx="1512.4" cy="690.8" r="3.8"/>
<circle cx="1329.8" cy="690.0" r="4"/>
<circle cx="1445.1" cy="682.9" r="4.6"/>
<circle cx="1324.9" cy="691.7" r="3.8"/>
<circle cx="1394.2" cy="691.7" r="4"/>
<circle cx="1570.5" cy="692.5" r="3.8"/>
<circle cx="1323.5" cy="688.5" r="3.6"/>
<circle cx="1490.6" cy="690.8" r="4.6"/>
<circle cx="1409.7" cy="690.9" r="3.8"/>
<circle cx="1366.9" cy="692.3" r="4.6"/>
<circle cx="1558.3" cy="692.2" r="4.6"/>
<circle cx="1407.8" cy="681.8" r="3.4"/>
<circle cx="1453.4" cy="688.7" r="4"/>
<circle cx="1480.4" cy="691.1" r="4.6"/>
<circle cx="1303.7" cy="690.7" r="4.6"/>
<circle cx="1329.1" cy="692.8" r="4.2"/>
<circle cx="1509.2" cy="690.3" r="3.4"/>
<circle cx="1571.6" cy="692.1" r="3.4"/>
<circle cx="1329.7" cy="688.1" r="3.8"/>
<circle cx="1310.4" cy="691.3" r="3.8"/>
<circle cx="1517.1" cy="686.9" r="3.6"/>
<circle cx="1440.2" cy="692.4" r="3.8"/>
<circle cx="1498.1" cy="690.8" r="3.4"/>
<circle cx="1328.2" cy="692.9" r="4"/>
<circle cx="1511.1" cy="687.0" r="4.6"/>
<circle cx="1286.6" cy="691.5" r="3.8"/>
<circle cx="1499.9" cy="683.1" r="4.2"/>
<circle cx="1393.9" cy="691.0" r="4.6"/>
<circle cx="1515.4" cy="689.9" r="3.4"/>
<circle cx="1338.8" cy="692.4" r="4"/>
<circle cx="1288.3" cy="690.5" r="3.6"/>
<circle cx="1560.6" cy="690.4" r="3.6"/>
<circle cx="1306.3" cy="692.7" r="4"/>
<circle cx="1422.9" cy="690.8" r="4"/>
<circle cx="1486.7" cy="692.6" r="4.2"/>
<circle cx="1337.1" cy="692.1" r="3.6"/>
<circle cx="1519.3" cy="690.7" r="3.6"/>
<circle cx="1537.0" cy="686.7" r="3.6"/>
<circle cx="1339.3" cy="685.4" r="4.6"/>
<circle cx="1523.9" cy="690.1" r="3.8"/>
<circle cx="1482.7" cy="692.7" r="3.4"/>
<circle cx="1283.2" cy="691.3" r="3.4"/>
<circle cx="1368.7" cy="692.7" r="3.4"/>
<circle cx="1564.7" cy="690.2" r="4.6"/>
<circle cx="1562.8" cy="691.9" r="3.6"/>
<circle cx="1535.0" cy="682.2" r="3.6"/>
<circle cx="1503.9" cy="691.3" r="4"/>
<circle cx="1414.7" cy="693.0" r="4"/>
<circle cx="1298.4" cy="679.9" r="3.6"/>
<circle cx="1315.4" cy="691.4" r="4.2"/>
<circle cx="1355.2" cy="692.4" r="3.6"/>
<circle cx="1407.7" cy="687.5" r="3.8"/>
<circle cx="1532.5" cy="691.1" r="3.4"/>
<circle cx="1302.8" cy="690.0" r="4"/>
<circle cx="1314.6" cy="691.9" r="3.8"/>
<circle cx="1503.8" cy="692.2" r="4"/>
<circle cx="1374.2" cy="692.8" r="4"/>
<circle cx="1307.6" cy="689.9" r="4"/>
<circle cx="1539.2" cy="692.1" r="4"/>
<circle cx="1513.2" cy="690.8" r="3.6"/>
<circle cx="1356.5" cy="691.2" r="3.6"/>
<circle cx="1377.3" cy="692.6" r="3.4"/>
<circle cx="1310.7" cy="690.0" r="3.4"/>
<circle cx="1578.2" cy="690.3" r="3.4"/>
<circle cx="1339.0" cy="692.0" r="3.8"/>
<circle cx="1326.5" cy="687.1" r="4.2"/>
<circle cx="1445.7" cy="689.9" r="3.8"/>
<circle cx="1587.1" cy="690.4" r="4.6"/>
<circle cx="1565.5" cy="690.0" r="4.2"/>
<circle cx="1318.7" cy="688.7" r="3.6"/>
<circle cx="1573.6" cy="691.3" r="4"/>
<circle cx="1458.1" cy="690.2" r="4.6"/>
<circle cx="1554.4" cy="693.0" r="3.8"/>
<circle cx="1344.3" cy="691.8" r="3.8"/>
<circle cx="1362.3" cy="692.5" r="4.2"/>
<circle cx="1392.6" cy="690.0" r="4.2"/>
<circle cx="1546.0" cy="690.0" r="4"/>
<circle cx="1385.4" cy="691.7" r="3.8"/>
<circle cx="1500.0" cy="692.6" r="4"/>
<circle cx="1490.5" cy="680.2" r="4"/>
<circle cx="1506.3" cy="691.9" r="4.2"/>
<circle cx="1360.8" cy="692.3" r="3.8"/>
<circle cx="1573.3" cy="685.2" r="4.2"/>
<circle cx="1312.3" cy="692.0" r="4.6"/>
<circle cx="1390.9" cy="692.0" r="3.8"/>
<circle cx="1499.0" cy="688.9" r="3.8"/>
<circle cx="1435.4" cy="690.4" r="3.4"/>
<circle cx="1412.1" cy="690.9" r="3.4"/>
<circle cx="1423.2" cy="690.1" r="4"/>
<circle cx="1455.9" cy="685.5" r="3.8"/>
<circle cx="1444.1" cy="682.1" r="3.4"/>
<circle cx="1417.6" cy="691.9" r="3.6"/>
<circle cx="1323.1" cy="690.5" r="3.8"/>
<circle cx="1469.5" cy="689.9" r="3.4"/>
<circle cx="1377.5" cy="692.7" r="4.6"/>
<circle cx="1460.9" cy="692.2" r="3.4"/>
<circle cx="1521.0" cy="692.4" r="4"/>
<circle cx="1356.3" cy="691.2" r="3.6"/>
<circle cx="1308.9" cy="685.1" r="4"/>
<circle cx="1286.8" cy="687.7" r="4.6"/>
<circle cx="1359.9" cy="686.2" r="4.2"/>
<circle cx="1579.7" cy="692.4" r="3.4"/>
<circle cx="1379.1" cy="690.0" r="3.4"/>
<circle cx="1560.1" cy="686.3" r="3.6"/>
<circle cx="1416.2" cy="690.9" r="3.6"/>
<circle cx="1463.3" cy="690.0" r="3.8"/>
<circle cx="1388.9" cy="691.9" r="4.2"/>
<circle cx="1572.6" cy="690.9" r="4.2"/>
<circle cx="1472.1" cy="691.1" r="3.6"/>
<circle cx="1327.2" cy="692.1" r="4"/>
<circle cx="1318.7" cy="692.2" r="3.8"/>
<circle cx="1387.3" cy="690.9" r="4.2"/>
<circle cx="1417.9" cy="691.7" r="3.8"/>
<circle cx="1385.9" cy="688.1" r="4.6"/>
<circle cx="1491.7" cy="692.5" r="3.8"/>
<circle cx="1525.9" cy="689.9" r="4.6"/>
<circle cx="1504.2" cy="690.8" r="3.6"/>
<circle cx="1434.7" cy="675.7" r="4.6"/>
<circle cx="1399.1" cy="691.4" r="3.8"/>
<circle cx="1311.3" cy="691.3" r="4.6"/>
<circle cx="1308.6" cy="691.6" r="3.6"/>
<circle cx="1320.1" cy="686.9" r="4.2"/>
<circle cx="1332.9" cy="691.5" r="4"/>
<circle cx="1290.5" cy="690.2" r="3.4"/>
<circle cx="1406.2" cy="692.0" r="3.6"/>
<circle cx="1546.3" cy="690.1" r="4.6"/>
<circle cx="1529.7" cy="692.5" r="3.4"/>
<circle cx="1380.6" cy="690.5" r="4.6"/>
<circle cx="1519.2" cy="691.4" r="4.6"/>
<circle cx="1297.4" cy="691.2" r="4.6"/>
<circle cx="1552.6" cy="690.8" r="3.8"/>
<circle cx="1400.4" cy="690.2" r="3.8"/>
<circle cx="1331.0" cy="691.8" r="3.8"/>
<circle cx="1518.2" cy="691.1" r="4"/>
<circle cx="1328.1" cy="691.4" r="4.6"/>
<circle cx="1327.2" cy="692.2" r="4.6"/>
<circle cx="1460.7" cy="675.4" r="4.2"/>
<circle cx="1558.3" cy="692.8" r="4.6"/>
<circle cx="1386.3" cy="692.5" r="4"/>
<circle cx="1322.3" cy="692.0" r="3.8"/>
<circle cx="1443.7" cy="691.1" r="3.4"/>
<circle cx="1411.7" cy="691.3" r="3.8"/>
<circle cx="1577.0" cy="690.4" r="3.6"/>
<circle cx="1435.2" cy="691.5" r="3.6"/>
<circle cx="1420.9" cy="691.5" r="3.8"/>
<circle cx="1314.2" cy="692.3" r="3.8"/>
<circle cx="1296.3" cy="690.1" r="3.8"/>
<circle cx="1429.9" cy="689.7" r="4.2"/>
<circle cx="1580.3" cy="692.6" r="3.6"/>
<circle cx="1399.3" cy="690.4" r="4.2"/>
<circle cx="1493.5" cy="692.8" r="3.4"/>
<circle cx="1285.1" cy="691.5" r="3.6"/>
<circle cx="1416.3" cy="690.7" r="4.6"/>
<circle cx="1589.9" cy="691.0" r="3.6"/>
<circle cx="1429.1" cy="689.8" r="3.8"/>
<circle cx="1323.6" cy="681.3" r="4.6"/>
<circle cx="1292.3" cy="690.7" r="3.8"/>
<circle cx="1286.3" cy="690.5" r="3.8"/>
<circle cx="1379.8" cy="692.7" r="4.6"/>
<circle cx="1476.3" cy="692.0" r="4"/>
<circle cx="1395.1" cy="689.9" r="4"/>
<circle cx="1467.2" cy="690.5" r="3.6"/>
<circle cx="1591.4" cy="690.3" r="4"/>
<circle cx="1362.7" cy="690.4" r="3.8"/>
<circle cx="1519.1" cy="690.4" r="4.6"/>
<circle cx="1448.0" cy="693.0" r="4.2"/>
<circle cx="1377.6" cy="692.5" r="3.4"/>
<circle cx="1376.8" cy="693.0" r="3.8"/>
<circle cx="1530.5" cy="684.0" r="3.8"/>
<circle cx="1434.2" cy="683.3" r="4.6"/>
<circle cx="1430.9" cy="690.5" r="4"/>
<circle cx="1378.7" cy="690.9" r="4.6"/>
<circle cx="1431.2" cy="692.3" r="4.6"/>
<circle cx="1493.2" cy="690.2" r="4.6"/>
<circle cx="1526.3" cy="691.9" r="4"/>
<circle cx="1563.0" cy="690.6" r="3.8"/>
<circle cx="1574.2" cy="681.7" r="4.2"/>
<circle cx="1347.1" cy="691.7" r="3.4"/>
<circle cx="1518.5" cy="692.6" r="4.2"/>
<circle cx="1558.0" cy="692.3" r="4"/>
<circle cx="1426.0" cy="690.5" r="4"/>
<circle cx="1415.4" cy="692.3" r="4.6"/>
<circle cx="1567.9" cy="684.4" r="4"/>
<circle cx="1474.8" cy="691.0" r="3.8"/>
<circle cx="1374.6" cy="691.8" r="4"/>
<circle cx="1465.2" cy="692.7" r="3.6"/>
<circle cx="1280.5" cy="691.4" r="4.6"/>
<circle cx="1350.0" cy="690.9" r="4"/>
<circle cx="1593.0" cy="690.7" r="3.6"/>
<circle cx="1394.4" cy="691.9" r="3.8"/>
<circle cx="1327.9" cy="690.9" r="3.6"/>
<circle cx="1593.6" cy="691.3" r="4.6"/>
<circle cx="1455.7" cy="692.6" r="4"/>
<circle cx="1566.2" cy="690.6" r="3.4"/>
<circle cx="1550.0" cy="691.6" r="4.6"/>
<circle cx="1487.7" cy="690.6" r="4.6"/>
<circle cx="1461.9" cy="687.0" r="3.8"/>
<circle cx="1508.2" cy="689.9" r="4.6"/>
<circle cx="1339.5" cy="692.4" r="4.2"/>
<circle cx="1547.0" cy="691.2" r="4.6"/>
<circle cx="1523.4" cy="691.7" r="4.2"/>
<circle cx="1587.0" cy="691.7" r="3.6"/>
<circle cx="1563.8" cy="693.0" r="4.2"/>
<circle cx="1329.6" cy="690.5" r="3.6"/>
<circle cx="1431.7" cy="692.4" r="3.4"/>
<circle cx="1290.9" cy="688.7" r="4.2"/>
<circle cx="1554.2" cy="691.6" r="3.4"/>
<circle cx="1397.6" cy="691.9" r="4.6"/>
<circle cx="1449.1" cy="691.7" r="4"/>
<circle cx="1509.2" cy="689.7" r="4.6"/>
<circle cx="1385.7" cy="692.5" r="3.4"/>
<circle cx="1330.0" cy="692.8" r="3.4"/>
<circle cx="1555.6" cy="692.9" r="4.6"/>
<circle cx="1423.2" cy="691.4" r="4"/>
<circle cx="1594.0" cy="690.5" r="4"/>
<circle cx="1458.1" cy="691.9" r="3.8"/>
<circle cx="1416.7" cy="692.3" r="3.8"/>
<circle cx="1570.1" cy="691.0" r="3.6"/>
<circle cx="1369.3" cy="690.6" r="3.4"/>
<circle cx="1477.1" cy="692.3" r="4.6"/>
<circle cx="1494.5" cy="692.3" r="3.8"/>
<circle cx="1574.5" cy="690.4" r="3.8"/>
<circle cx="1404.3" cy="692.4" r="4"/>
<circle cx="1477.8" cy="690.6" r="4.2"/>
<circle cx="1341.1" cy="692.1" r="4"/>
<circle cx="1463.2" cy="686.2" r="4"/>
<circle cx="1533.7" cy="690.7" r="3.8"/>
<circle cx="1436.8" cy="690.7" r="4.6"/>
<circle cx="1358.4" cy="690.2" r="4.2"/>
<circle cx="1558.3" cy="686.5" r="4.6"/>
<circle cx="1582.8" cy="691.6" r="3.4"/>
<circle cx="1556.5" cy="691.3" r="4.2"/>
<circle cx="1307.0" cy="690.1" r="3.4"/>
<circle cx="1539.3" cy="691.4" r="4.2"/>
<circle cx="1492.2" cy="692.3" r="3.6"/>
<circle cx="1421.5" cy="682.7" r="4.2"/>
<circle cx="1470.2" cy="689.0" r="4.6"/>
<circle cx="1569.7" cy="688.4" r="3.6"/>
<circle cx="1497.3" cy="690.6" r="3.4"/>
<circle cx="1322.3" cy="687.0" r="4"/>
<circle cx="1387.2" cy="690.3" r="3.8"/>
<circle cx="1395.2" cy="693.0" r="4"/>
<circle cx="1581.7" cy="690.5" r="3.4"/>
<circle cx="1512.7" cy="692.0" r="3.4"/>
<circle cx="1573.0" cy="692.6" r="4.6"/>
<circle cx="1432.6" cy="692.5" r="4.6"/>
<circle cx="1455.1" cy="688.4" r="4"/>
<circle cx="1289.5" cy="692.6" r="3.4"/>
<circle cx="1360.2" cy="689.0" r="3.6"/>
<circle cx="1577.5" cy="689.0" r="4.6"/>
<circle cx="1588.9" cy="691.6" r="3.4"/>
<circle cx="1515.5" cy="690.6" r="3.6"/>
<circle cx="1412.8" cy="692.2" r="3.4"/>
<circle cx="1479.2" cy="690.9" r="3.6"/>
<circle cx="1468.3" cy="690.4" r="4"/>
<circle cx="1316.6" cy="692.1" r="3.4"/>
<circle cx="1574.9" cy="690.8" r="4.6"/>
<circle cx="1421.5" cy="690.4" r="4"/>
<circle cx="1521.2" cy="689.5" r="3.4"/>
<circle cx="1376.3" cy="692.0" r="4"/>
<circle cx="1411.1" cy="690.7" r="4"/>
<circle cx="1285.6" cy="690.1" r="4.2"/>
<circle cx="1552.9" cy="692.0" r="3.4"/>
<circle cx="1587.7" cy="692.9" r="4.6"/>
<circle cx="1534.4" cy="691.1" r="3.8"/>
<circle cx="1318.8" cy="690.9" r="3.4"/>
<circle cx="1379.0" cy="692.7" r="4.2"/>
<circle cx="1367.7" cy="691.4" r="3.4"/>
<circle cx="1375.6" cy="690.7" r="4.2"/>
<circle cx="1568.4" cy="692.4" r="4.2"/>
<circle cx="1452.5" cy="689.0" r="4.6"/>
<circle cx="1414.4" cy="676.9" r="3.6"/>
<circle cx="1402.2" cy="690.4" r="4.6"/>
<circle cx="1303.6" cy="692.6" r="4.6"/>
<circle cx="1573.4" cy="692.8" r="3.4"/>
<circle cx="1512.6" cy="691.9" r="4"/>
<circle cx="1497.3" cy="681.0" r="4.6"/>
<circle cx="1487.9" cy="690.5" r="4"/>
<circle cx="1496.6" cy="691.7" r="4.6"/>
<circle cx="1305.6" cy="690.8" r="3.8"/>
<circle cx="1303.5" cy="690.0" r="4.2"/>
<circle cx="1429.9" cy="685.1" r="3.6"/>
<circle cx="1417.8" cy="692.5" r="4.2"/>
<circle cx="1483.6" cy="686.2" r="4.2"/>
<circle cx="1403.2" cy="691.1" r="4"/>
<circle cx="1544.8" cy="692.2" r="3.8"/>
<circle cx="1402.8" cy="691.2" r="4.2"/>
<circle cx="1442.2" cy="693.0" r="3.4"/>
<circle cx="1476.0" cy="690.8" r="4"/>
<circle cx="1422.6" cy="689.6" r="4"/>
<circle cx="1520.6" cy="688.5" r="3.4"/>
<circle cx="1361.5" cy="689.9" r="4.2"/>
<circle cx="1439.9" cy="689.9" r="4.2"/>
<circle cx="1531.3" cy="690.8" r="4"/>
<circle cx="1320.4" cy="692.8" r="3.4"/>
<circle cx="1520.3" cy="692.4" r="4.2"/>
<circle cx="1468.6" cy="688.4" r="3.8"/>
<circle cx="1411.9" cy="692.0" r="3.4"/>
<circle cx="1336.5" cy="690.1" r="3.6"/>
<circle cx="1325.2" cy="690.1" r="4.6"/>
<circle cx="1287.1" cy="691.6" r="4.2"/>
<circle cx="1572.0" cy="690.3" r="4"/>
<circle cx="1379.8" cy="690.8" r="4"/>
<circle cx="1553.8" cy="690.2" r="4.6"/>
<circle cx="1458.2" cy="690.0" r="3.6"/>
<circle cx="1512.3" cy="682.0" r="4.6"/>
<circle cx="1566.2" cy="690.0" r="4.2"/>
<circle cx="1306.4" cy="691.0" r="4.6"/>
<circle cx="1396.8" cy="691.2" r="4"/>
<circle cx="1320.7" cy="687.9" r="3.6"/>
<circle cx="1595.6" cy="689.8" r="4.2"/>
<circle cx="1545.3" cy="691.0" r="4.6"/>
<circle cx="1452.6" cy="692.7" r="3.8"/>
<circle cx="1578.2" cy="691.3" r="3.8"/>
<circle cx="1322.1" cy="691.8" r="4.6"/>
<circle cx="1433.0" cy="692.7" r="4.2"/>
<circle cx="1586.1" cy="689.9" r="4"/>
<circle cx="1367.4" cy="691.4" r="3.8"/>
<circle cx="1310.5" cy="690.9" r="4.2"/>
<circle cx="1282.2" cy="691.1" r="4.6"/>
<circle cx="1420.4" cy="683.4" r="4.2"/>
<circle cx="1306.6" cy="679.4" r="3.6"/>
<circle cx="1324.8" cy="689.6" r="3.4"/>
<circle cx="1351.5" cy="689.9" r="3.6"/>
<circle cx="1282.6" cy="690.3" r="3.8"/>
<circle cx="1427.6" cy="686.6" r="3.6"/>
<circle cx="1369.6" cy="691.4" r="3.6"/>
<circle cx="1520.8" cy="690.8" r="3.6"/>
<circle cx="1296.8" cy="691.2" r="3.6"/>
<circle cx="1549.0" cy="692.9" r="3.4"/>
<circle cx="1337.1" cy="692.8" r="3.6"/>
<circle cx="1309.2" cy="691.3" r="4"/>
<circle cx="1537.3" cy="690.7" r="3.4"/>
<circle cx="1379.2" cy="688.0" r="3.8"/>
<circle cx="1402.8" cy="690.9" r="4.2"/>
<circle cx="1354.8" cy="691.8" r="4.6"/>
<circle cx="1498.8" cy="691.5" r="4"/>
<circle cx="1313.8" cy="692.0" r="4.6"/>
<circle cx="1301.5" cy="691.7" r="4.2"/>
<circle cx="1509.1" cy="690.2" r="4"/>
<circle cx="1495.4" cy="692.5" r="4.6"/>
<circle cx="1507.3" cy="691.6" r="3.4"/>
<circle cx="1578.2" cy="688.0" r="3.8"/>
<circle cx="1559.4" cy="691.3" r="4.2"/>
<circle cx="1279.8" cy="691.3" r="3.4"/>
<circle cx="1291.6" cy="689.5" r="3.8"/>
<circle cx="1443.8" cy="690.4" r="4"/>
<circle cx="1333.5" cy="691.1" r="3.4"/>
<circle cx="1283.1" cy="690.1" r="3.4"/>
<circle cx="1368.5" cy="691.5" r="3.8"/>
<circle cx="1311.2" cy="691.1" r="3.8"/>
<circle cx="1451.1" cy="688.1" r="4.6"/>
<circle cx="1526.0" cy="692.8" r="3.8"/>
<circle cx="1348.7" cy="690.7" r="4.6"/>
<circle cx="1482.1" cy="686.0" r="4.6"/>
<circle cx="1506.9" cy="690.9" r="3.8"/>
<circle cx="1362.4" cy="691.9" r="4.2"/>
<circle cx="1409.3" cy="692.3" r="4.2"/>
<circle cx="1499.3" cy="692.0" r="4"/>
<circle cx="1439.1" cy="690.7" r="4.6"/>
<circle cx="1495.3" cy="687.0" r="3.8"/>
<circle cx="1595.1" cy="691.4" r="3.6"/>
<circle cx="1459.2" cy="691.3" r="4.6"/>
<circle cx="1349.8" cy="691.8" r="3.6"/>
<circle cx="1323.5" cy="691.0" r="4.6"/>
<circle cx="1293.4" cy="692.3" r="4.6"/>
<circle cx="1380.9" cy="690.6" r="4.6"/>
<circle cx="1317.7" cy="692.8" r="3.8"/>
<circle cx="1582.8" cy="690.9" r="4"/>
<circle cx="1469.3" cy="691.9" r="3.6"/>
<circle cx="1543.2" cy="691.5" r="3.6"/>
<circle cx="1285.8" cy="692.2" r="4.2"/>
<circle cx="1475.3" cy="690.9" r="4"/>
<circle cx="1409.6" cy="689.8" r="4"/>
<circle cx="1428.0" cy="692.9" r="3.4"/>
<circle cx="1506.9" cy="690.6" r="4"/>
<circle cx="1381.3" cy="691.2" r="3.6"/>
<circle cx="1515.5" cy="692.3" r="4"/>
<circle cx="1308.8" cy="692.7" r="3.8"/>
<circle cx="1353.0" cy="690.9" r="3.8"/>
<circle cx="1366.6" cy="690.5" r="3.4"/>
<circle cx="1491.0" cy="687.6" r="4.2"/>
<circle cx="1443.3" cy="689.6" r="3.4"/>
<circle cx="1390.9" cy="691.5" r="3.6"/>
<circle cx="1566.7" cy="687.6" r="3.4"/>
<circle cx="1282.3" cy="690.6" r="3.6"/>
<circle cx="1544.8" cy="690.5" r="4"/>
<circle cx="1384.1" cy="685.4" r="3.6"/>
<circle cx="1559.1" cy="688.6" r="4.6"/>
<circle cx="1314.6" cy="690.7" r="3.6"/>
<circle cx="1552.4" cy="692.5" r="3.4"/>
<circle cx="1501.1" cy="690.1" r="4"/>
<circle cx="1316.0" cy="683.5" r="4.6"/>
<circle cx="1563.9" cy="690.2" r="3.6"/>
<circle cx="1363.3" cy="691.6" r="3.6"/>
<circle cx="1418.9" cy="690.7" r="4.6"/>
<circle cx="1521.0" cy="689.0" r="3.4"/>
<circle cx="1464.3" cy="685.2" r="4.2"/>
<circle cx="1415.5" cy="688.1" r="4.2"/>
<circle cx="1356.5" cy="691.6" r="4.6"/>
<circle cx="1518.0" cy="692.7" r="3.8"/>
<circle cx="1571.3" cy="692.6" r="4.6"/>
<circle cx="1564.0" cy="691.6" r="3.6"/>
<circle cx="1484.9" cy="684.0" r="3.8"/>
<circle cx="1358.5" cy="692.3" r="3.8"/>
<circle cx="1412.6" cy="692.0" r="3.8"/>
<circle cx="1440.5" cy="690.0" r="3.8"/>
<circle cx="1540.8" cy="690.1" r="3.6"/>
<circle cx="1418.6" cy="691.4" r="4.2"/>
<circle cx="1536.4" cy="692.2" r="3.8"/>
<circle cx="1450.5" cy="690.1" r="4"/>
<circle cx="1517.9" cy="692.4" r="4.2"/>
<circle cx="1427.9" cy="689.9" r="4.2"/>
<circle cx="1416.3" cy="690.5" r="4"/>
<circle cx="1443.6" cy="692.6" r="4"/>
<circle cx="1591.0" cy="687.2" r="3.4"/>
<circle cx="1485.2" cy="691.0" r="4"/>
<circle cx="1385.2" cy="691.8" r="4.6"/>
<circle cx="1461.3" cy="691.8" r="3.6"/>
<circle cx="1379.4" cy="690.8" r="4"/>
<circle cx="1523.6" cy="691.5" r="4.6"/>
<circle cx="1285.6" cy="691.2" r="4.2"/>
<circle cx="1291.9" cy="691.4" r="3.8"/>
<circle cx="1552.2" cy="691.9" r="4"/>
<circle cx="1394.9" cy="691.0" r="4.2"/>
<circle cx="1594.2" cy="691.4" r="4.6"/>
<circle cx="1449.9" cy="692.3" r="4"/>
<circle cx="1576.4" cy="691.2" r="4.2"/>
<circle cx="1445.3" cy="690.9" r="3.6"/>
<circle cx="1521.3" cy="691.0" r="3.8"/>
<circle cx="1368.0" cy="690.6" r="3.4"/>
<circle cx="1546.2" cy="692.2" r="3.8"/>
<circle cx="1540.8" cy="687.3" r="4"/>
<circle cx="1301.3" cy="691.0" r="4"/>
<circle cx="1307.1" cy="690.7" r="4.6"/>
<circle cx="1466.5" cy="686.4" r="4.6"/>
<circle cx="1374.6" cy="692.3" r="3.4"/>
<circle cx="1588.1" cy="690.1" r="4.6"/>
<circle cx="1432.2" cy="692.3" r="4"/>
<circle cx="1312.0" cy="691.3" r="4.6"/>
<circle cx="1348.4" cy="690.2" r="4"/>
<circle cx="1313.0" cy="691.4" r="4"/>
<circle cx="1339.8" cy="691.5" r="3.6"/>
<circle cx="1370.5" cy="685.4" r="4"/>
<circle cx="1473.6" cy="690.8" r="3.8"/>
<circle cx="1406.3" cy="692.6" r="3.4"/>
<circle cx="1553.9" cy="692.1" r="4"/>
<circle cx="1396.7" cy="692.6" r="4"/>
<circle cx="1534.4" cy="692.1" r="4"/>
<circle cx="1569.9" cy="692.8" r="3.6"/>
<circle cx="1406.2" cy="691.3" r="3.6"/>
<circle cx="1505.5" cy="691.1" r="4"/>
<circle cx="1296.4" cy="692.5" r="4.6"/>
<circle cx="1533.5" cy="691.6" r="4"/>
<circle cx="1297.6" cy="692.0" r="4"/>
<circle cx="1396.9" cy="691.9" r="3.8"/>
<circle cx="1410.0" cy="687.9" r="4.6"/>
<circle cx="1327.5" cy="692.5" r="3.6"/>
<circle cx="1357.2" cy="691.5" r="3.6"/>
<circle cx="1288.9" cy="690.8" r="4"/>
<circle cx="1413.1" cy="692.7" r="3.8"/>
<circle cx="1482.0" cy="692.1" r="3.4"/>
<circle cx="1544.1" cy="692.6" r="4"/>
<circle cx="1335.9" cy="692.2" r="4.2"/>
<circle cx="1285.5" cy="691.3" r="3.6"/>
<circle cx="1411.5" cy="692.2" r="3.4"/>
<circle cx="1529.0" cy="691.7" r="3.6"/>
<circle cx="1434.6" cy="690.8" r="3.4"/>
<circle cx="1504.6" cy="692.2" r="3.6"/>
<circle cx="1485.1" cy="692.8" r="4.2"/>
<circle cx="1465.2" cy="691.6" r="4.2"/>
<circle cx="1291.7" cy="692.7" r="4.6"/>
<circle cx="1292.8" cy="687.9" r="3.6"/>
<circle cx="1507.1" cy="690.2" r="3.8"/>
<circle cx="1560.5" cy="690.6" r="3.4"/>
<circle cx="1316.3" cy="691.1" r="4"/>
<circle cx="1542.2" cy="691.6" r="3.6"/>
<circle cx="1470.7" cy="680.2" r="4"/>
<circle cx="1563.2" cy="690.1" r="3.8"/>
<circle cx="1498.8" cy="691.1" r="4"/>
<circle cx="1524.8" cy="692.9" r="4.6"/>
</g>
<g class="p" fill="#7bee3a" stroke="#6ed634">
<circle cx="1398.5" cy="647.6" r="4"/>
<circle cx="1295.0" cy="662.8" r="4.2"/>
<circle cx="1290.5" cy="668.5" r="4"/>
<circle cx="1279.0" cy="670.5" r="3.8"/>
<circle cx="1292.0" cy="675.5" r="4.4"/>
<circle cx="1313.5" cy="675.0" r="4"/>
<circle cx="1372.0" cy="677.0" r="4.2"/>
<circle cx="1390.5" cy="673.0" r="3.8"/>
<circle cx="1431.0" cy="673.5" r="4.4"/>
<circle cx="1546.0" cy="665.6" r="5.6"/>
<circle cx="1527.3" cy="672.2" r="5.2"/>
<circle cx="1502.5" cy="673.5" r="5.2"/>
<circle cx="1485.0" cy="674.5" r="4"/>
<circle cx="1463.9" cy="675.2" r="5.2"/>
<circle cx="1431.6" cy="672.8" r="4.4"/>
<circle cx="1557.0" cy="681.0" r="4.4"/>
<circle cx="1595.5" cy="679.5" r="4.6"/>
<circle cx="1440.0" cy="683.0" r="4.2"/>
<circle cx="1518.0" cy="681.0" r="5"/>
</g>
<g class="q" fill="#fad925" stroke="#f0d023">
<circle cx="1679.4" cy="692.6" r="3.8"/>
<circle cx="1616.8" cy="691.2" r="3.6"/>
<circle cx="1714.7" cy="692.0" r="3.6"/>
<circle cx="1676.9" cy="691.6" r="3.6"/>
<circle cx="1693.0" cy="691.1" r="4.6"/>
<circle cx="1650.9" cy="690.9" r="3.8"/>
<circle cx="1674.9" cy="692.1" r="4"/>
<circle cx="1632.5" cy="692.5" r="4.6"/>
<circle cx="1718.3" cy="685.0" r="3.4"/>
<circle cx="1677.0" cy="691.7" r="4.6"/>
<circle cx="1696.0" cy="688.4" r="3.8"/>
<circle cx="1712.7" cy="689.2" r="4"/>
<circle cx="1661.2" cy="680.0" r="4"/>
<circle cx="1610.9" cy="692.9" r="4.2"/>
<circle cx="1687.7" cy="691.8" r="3.8"/>
<circle cx="1645.0" cy="690.9" r="3.8"/>
<circle cx="1616.4" cy="690.7" r="4"/>
<circle cx="1659.3" cy="692.2" r="4"/>
<circle cx="1643.6" cy="692.1" r="4.2"/>
<circle cx="1713.6" cy="690.9" r="3.4"/>
<circle cx="1673.7" cy="693.0" r="3.4"/>
<circle cx="1677.4" cy="692.3" r="3.4"/>
<circle cx="1635.7" cy="692.0" r="3.8"/>
<circle cx="1687.5" cy="691.2" r="3.8"/>
<circle cx="1636.5" cy="689.5" r="3.8"/>
<circle cx="1691.3" cy="692.0" r="3.6"/>
<circle cx="1718.4" cy="691.7" r="3.4"/>
<circle cx="1679.4" cy="692.6" r="4"/>
<circle cx="1602.4" cy="691.5" r="4.2"/>
<circle cx="1660.9" cy="691.9" r="3.6"/>
<circle cx="1705.6" cy="690.7" r="3.8"/>
<circle cx="1609.8" cy="682.8" r="3.4"/>
<circle cx="1621.0" cy="687.3" r="4.2"/>
<circle cx="1624.0" cy="692.2" r="4"/>
<circle cx="1702.9" cy="691.2" r="3.6"/>
<circle cx="1677.5" cy="692.2" r="4.2"/>
<circle cx="1648.5" cy="690.2" r="4.6"/>
<circle cx="1640.7" cy="692.0" r="3.6"/>
<circle cx="1649.4" cy="692.2" r="3.6"/>
<circle cx="1666.7" cy="690.4" r="3.8"/>
<circle cx="1636.0" cy="692.1" r="4"/>
<circle cx="1700.3" cy="690.7" r="4.2"/>
<circle cx="1651.5" cy="691.1" r="4.2"/>
<circle cx="1684.4" cy="692.8" r="4.6"/>
<circle cx="1626.9" cy="688.8" r="3.4"/>
<circle cx="1670.5" cy="676.4" r="3.6"/>
<circle cx="1698.0" cy="691.5" r="4"/>
<circle cx="1723.4" cy="691.5" r="4.2"/>
<circle cx="1700.6" cy="687.9" r="3.6"/>
<circle cx="1646.8" cy="691.9" r="3.8"/>
<circle cx="1686.2" cy="691.0" r="3.8"/>
<circle cx="1655.7" cy="691.1" r="4"/>
<circle cx="1640.7" cy="689.3" r="3.4"/>
<circle cx="1668.2" cy="692.7" r="3.6"/>
<circle cx="1612.0" cy="690.9" r="4.2"/>
<circle cx="1653.1" cy="692.6" r="4.6"/>
<circle cx="1627.5" cy="692.9" r="4.2"/>
<circle cx="1676.5" cy="692.3" r="3.4"/>
<circle cx="1653.2" cy="691.3" r="4.6"/>
<circle cx="1662.7" cy="690.1" r="3.8"/>
<circle cx="1659.2" cy="691.7" r="4.2"/>
<circle cx="1661.8" cy="690.6" r="4.6"/>
<circle cx="1703.2" cy="678.7" r="3.8"/>
<circle cx="1663.8" cy="691.1" r="4.2"/>
<circle cx="1722.6" cy="691.5" r="4"/>
<circle cx="1621.6" cy="681.9" r="4.2"/>
<circle cx="1674.2" cy="684.7" r="4.6"/>
<circle cx="1699.4" cy="692.9" r="3.6"/>
<circle cx="1660.8" cy="692.0" r="4.2"/>
<circle cx="1608.4" cy="692.7" r="4.2"/>
<circle cx="1673.0" cy="691.6" r="4.6"/>
<circle cx="1633.0" cy="684.9" r="4.2"/>
<circle cx="1650.5" cy="688.8" r="4.6"/>
<circle cx="1654.3" cy="689.1" r="3.8"/>
<circle cx="1650.1" cy="689.4" r="4.2"/>
<circle cx="1691.4" cy="688.8" r="4"/>
<circle cx="1715.7" cy="692.9" r="3.6"/>
<circle cx="1668.6" cy="692.9" r="4.2"/>
<circle cx="1684.2" cy="691.2" r="4.2"/>
<circle cx="1713.4" cy="692.9" r="3.8"/>
<circle cx="1629.7" cy="691.5" r="3.8"/>
<circle cx="1607.9" cy="691.4" r="3.8"/>
<circle cx="1632.2" cy="690.7" r="3.4"/>
<circle cx="1681.4" cy="677.6" r="3.4"/>
<circle cx="1723.2" cy="691.8" r="3.8"/>
<circle cx="1649.8" cy="692.0" r="4.2"/>
<circle cx="1718.0" cy="691.4" r="4"/>
<circle cx="1615.2" cy="691.0" r="4.2"/>
<circle cx="1646.1" cy="692.6" r="3.8"/>
<circle cx="1700.7" cy="684.8" r="3.8"/>
<circle cx="1729.7" cy="691.8" r="4.6"/>
<circle cx="1682.5" cy="691.8" r="4.2"/>
<circle cx="1615.7" cy="688.3" r="3.8"/>
<circle cx="1714.0" cy="692.6" r="4"/>
<circle cx="1713.6" cy="690.8" r="4.2"/>
<circle cx="1624.6" cy="691.0" r="3.4"/>
<circle cx="1628.9" cy="691.6" r="3.4"/>
<circle cx="1665.6" cy="691.5" r="4.2"/>
<circle cx="1657.6" cy="691.7" r="3.8"/>
<circle cx="1628.0" cy="687.6" r="3.8"/>
<circle cx="1656.0" cy="691.0" r="4.6"/>
<circle cx="1640.8" cy="678.7" r="3.6"/>
<circle cx="1722.4" cy="691.2" r="4.6"/>
<circle cx="1690.8" cy="690.8" r="4.6"/>
<circle cx="1694.9" cy="692.1" r="3.8"/>
<circle cx="1696.0" cy="692.2" r="4"/>
<circle cx="1696.1" cy="681.6" r="4.2"/>
<circle cx="1614.2" cy="692.3" r="4"/>
<circle cx="1690.1" cy="691.6" r="4.2"/>
<circle cx="1711.9" cy="683.0" r="4.2"/>
<circle cx="1706.2" cy="691.4" r="4.2"/>
<circle cx="1651.3" cy="691.2" r="3.6"/>
<circle cx="1722.6" cy="692.1" r="3.8"/>
<circle cx="1716.5" cy="692.2" r="3.4"/>
<circle cx="1650.7" cy="686.8" r="3.4"/>
<circle cx="1635.3" cy="691.2" r="4.6"/>
<circle cx="1648.2" cy="689.8" r="4.2"/>
<circle cx="1670.3" cy="691.9" r="3.6"/>
<circle cx="1717.7" cy="692.2" r="4.6"/>
<circle cx="1653.4" cy="680.6" r="4"/>
<circle cx="1684.6" cy="691.5" r="3.6"/>
<circle cx="1699.0" cy="691.0" r="4.6"/>
<circle cx="1649.4" cy="689.3" r="4.6"/>
<circle cx="1622.4" cy="685.4" r="4.6"/>
<circle cx="1658.3" cy="692.1" r="4"/>
<circle cx="1685.4" cy="692.2" r="4"/>
<circle cx="1628.1" cy="691.9" r="3.6"/>
<circle cx="1682.9" cy="687.0" r="3.6"/>
<circle cx="1671.2" cy="692.4" r="3.4"/>
<circle cx="1701.5" cy="692.1" r="3.4"/>
<circle cx="1657.8" cy="692.2" r="4.6"/>
<circle cx="1617.2" cy="690.8" r="3.8"/>
<circle cx="1654.6" cy="691.7" r="4.6"/>
<circle cx="1647.0" cy="691.9" r="4"/>
<circle cx="1652.0" cy="693.0" r="4"/>
<circle cx="1637.6" cy="686.5" r="4.6"/>
<circle cx="1666.4" cy="691.9" r="4.2"/>
<circle cx="1654.2" cy="692.5" r="3.4"/>
<circle cx="1693.3" cy="691.7" r="3.8"/>
<circle cx="1651.3" cy="692.4" r="3.8"/>
<circle cx="1712.1" cy="691.7" r="4"/>
<circle cx="1600.1" cy="691.5" r="3.8"/>
<circle cx="1728.8" cy="690.9" r="3.8"/>
<circle cx="1644.0" cy="692.8" r="4.6"/>
<circle cx="1671.4" cy="692.3" r="4.2"/>
<circle cx="1610.5" cy="691.8" r="4"/>
<circle cx="1696.5" cy="691.6" r="3.6"/>
<circle cx="1691.5" cy="691.9" r="3.8"/>
<circle cx="1698.9" cy="692.2" r="3.6"/>
<circle cx="1638.8" cy="691.5" r="3.4"/>
<circle cx="1705.3" cy="692.6" r="4.2"/>
<circle cx="1721.1" cy="692.2" r="3.6"/>
<circle cx="1683.1" cy="688.0" r="4.6"/>
<circle cx="1617.9" cy="691.1" r="3.4"/>
<circle cx="1708.6" cy="692.2" r="4.2"/>
<circle cx="1599.3" cy="692.8" r="4"/>
<circle cx="1728.7" cy="690.7" r="4"/>
<circle cx="1702.2" cy="689.1" r="4.2"/>
<circle cx="1652.2" cy="692.4" r="3.8"/>
<circle cx="1617.1" cy="691.6" r="4.6"/>
<circle cx="1705.0" cy="691.4" r="3.4"/>
<circle cx="1685.7" cy="691.3" r="4"/>
<circle cx="1617.4" cy="680.0" r="3.6"/>
<circle cx="1636.3" cy="689.1" r="3.8"/>
<circle cx="1673.6" cy="692.3" r="4.2"/>
<circle cx="1641.4" cy="687.6" r="4.2"/>
<circle cx="1721.4" cy="690.9" r="4"/>
<circle cx="1671.6" cy="687.4" r="3.8"/>
<circle cx="1719.9" cy="689.9" r="4.2"/>
<circle cx="1726.6" cy="691.7" r="3.8"/>
<circle cx="1666.1" cy="692.0" r="3.4"/>
<circle cx="1666.7" cy="692.7" r="4"/>
<circle cx="1633.8" cy="691.8" r="3.8"/>
<circle cx="1630.6" cy="691.0" r="3.4"/>
<circle cx="1717.9" cy="687.8" r="4.6"/>
<circle cx="1606.1" cy="691.3" r="3.8"/>
<circle cx="1725.1" cy="691.6" r="4.2"/>
<circle cx="1621.5" cy="690.7" r="3.8"/>
<circle cx="1702.4" cy="691.4" r="3.6"/>
<circle cx="1621.8" cy="682.1" r="3.4"/>
<circle cx="1699.3" cy="686.0" r="3.8"/>
<circle cx="1644.7" cy="692.7" r="4.6"/>
<circle cx="1690.5" cy="692.4" r="4"/>
<circle cx="1607.3" cy="692.5" r="4.2"/>
<circle cx="1671.7" cy="691.5" r="4.6"/>
<circle cx="1634.3" cy="691.3" r="4"/>
<circle cx="1697.9" cy="683.6" r="4"/>
<circle cx="1693.6" cy="681.5" r="3.4"/>
<circle cx="1610.3" cy="688.1" r="3.6"/>
<circle cx="1619.9" cy="691.1" r="3.8"/>
<circle cx="1615.9" cy="692.4" r="3.6"/>
<circle cx="1689.1" cy="692.7" r="4.2"/>
<circle cx="1693.0" cy="687.5" r="4.6"/>
<circle cx="1648.1" cy="686.4" r="4.6"/>
<circle cx="1723.5" cy="689.0" r="4"/>
<circle cx="1623.3" cy="691.2" r="3.4"/>
<circle cx="1683.1" cy="689.3" r="3.6"/>
<circle cx="1674.5" cy="692.6" r="3.4"/>
<circle cx="1647.1" cy="691.4" r="3.4"/>
<circle cx="1724.3" cy="682.0" r="3.6"/>
<circle cx="1727.4" cy="691.4" r="3.6"/>
<circle cx="1637.3" cy="690.7" r="4"/>
<circle cx="1669.0" cy="692.7" r="4.6"/>
<circle cx="1660.0" cy="692.7" r="4.6"/>
<circle cx="1659.7" cy="692.4" r="3.8"/>
<circle cx="1669.9" cy="692.4" r="4.6"/>
<circle cx="1601.0" cy="692.0" r="3.6"/>
<circle cx="1650.7" cy="690.5" r="3.6"/>
<circle cx="1703.4" cy="691.4" r="3.6"/>
<circle cx="1690.8" cy="691.2" r="3.8"/>
<circle cx="1680.2" cy="692.0" r="4.6"/>
<circle cx="1680.1" cy="679.4" r="4"/>
<circle cx="1659.0" cy="691.5" r="3.6"/>
<circle cx="1644.7" cy="692.7" r="3.8"/>
<circle cx="1674.5" cy="690.6" r="4"/>
<circle cx="1709.1" cy="692.7" r="4.6"/>
<circle cx="1664.1" cy="676.6" r="3.8"/>
<circle cx="1668.5" cy="688.8" r="3.4"/>
<circle cx="1723.2" cy="689.3" r="3.6"/>
<circle cx="1704.6" cy="691.6" r="3.8"/>
<circle cx="1612.8" cy="691.2" r="3.4"/>
<circle cx="1691.2" cy="687.0" r="3.6"/>
<circle cx="1697.0" cy="691.5" r="3.8"/>
<circle cx="1610.9" cy="691.1" r="4.2"/>
<circle cx="1650.3" cy="680.9" r="3.6"/>
<circle cx="1724.1" cy="691.1" r="3.6"/>
<circle cx="1625.0" cy="690.7" r="4.2"/>
<circle cx="1711.9" cy="692.2" r="3.6"/>
<circle cx="1599.1" cy="691.7" r="4.2"/>
<circle cx="1635.1" cy="691.4" r="4.6"/>
<circle cx="1615.5" cy="685.3" r="3.4"/>
<circle cx="1691.3" cy="691.5" r="4.6"/>
<circle cx="1723.1" cy="681.8" r="3.4"/>
<circle cx="1604.2" cy="683.6" r="4"/>
<circle cx="1604.4" cy="692.5" r="3.8"/>
<circle cx="1698.0" cy="689.4" r="3.6"/>
<circle cx="1657.0" cy="691.0" r="3.4"/>
<circle cx="1652.9" cy="687.6" r="3.6"/>
<circle cx="1653.1" cy="691.7" r="3.4"/>
<circle cx="1648.6" cy="689.2" r="4.6"/>
<circle cx="1711.5" cy="690.9" r="3.6"/>
<circle cx="1711.3" cy="691.7" r="4.2"/>
<circle cx="1710.3" cy="678.8" r="4.2"/>
<circle cx="1622.6" cy="691.2" r="4"/>
<circle cx="1624.4" cy="691.9" r="4.2"/>
<circle cx="1674.6" cy="692.4" r="4"/>
<circle cx="1685.1" cy="692.3" r="4.6"/>
<circle cx="1682.8" cy="692.8" r="3.4"/>
<circle cx="1709.0" cy="691.7" r="3.6"/>
<circle cx="1698.8" cy="692.4" r="3.8"/>
<circle cx="1604.5" cy="692.4" r="3.6"/>
<circle cx="1661.8" cy="691.3" r="3.8"/>
</g>
<g class="p" fill="#fad925" stroke="#e1c321">
<circle cx="1617.1" cy="631.0" r="3.9"/>
<circle cx="1653.4" cy="647.4" r="4"/>
<circle cx="1705.0" cy="667.2" r="6"/>
<circle cx="1672.0" cy="668.8" r="4.6"/>
<circle cx="1624.0" cy="665.2" r="4"/>
<circle cx="1633.0" cy="672.0" r="5"/>
<circle cx="1659.0" cy="670.5" r="4.2"/>
<circle cx="1643.5" cy="676.0" r="4.2"/>
<circle cx="1661.0" cy="678.0" r="4"/>
<circle cx="1618.0" cy="679.0" r="4.6"/>
<circle cx="1679.0" cy="679.0" r="4.4"/>
<circle cx="1690.0" cy="680.5" r="4.4"/>
<circle cx="1712.0" cy="680.0" r="4"/>
</g>
<g class="q" fill="#e4b87a" stroke="#dab075">
<circle cx="1752.2" cy="692.3" r="4"/>
<circle cx="1742.8" cy="692.4" r="3.8"/>
<circle cx="1820.8" cy="692.4" r="4.2"/>
<circle cx="1834.0" cy="691.2" r="3.4"/>
<circle cx="1814.9" cy="691.4" r="3.4"/>
<circle cx="1875.4" cy="692.2" r="3.4"/>
<circle cx="1875.8" cy="691.0" r="3.8"/>
<circle cx="1739.8" cy="682.5" r="3.8"/>
<circle cx="1758.4" cy="688.1" r="4.6"/>
<circle cx="1850.5" cy="691.6" r="3.6"/>
<circle cx="1869.8" cy="691.7" r="4.2"/>
<circle cx="1762.1" cy="688.9" r="3.4"/>
<circle cx="1783.1" cy="691.8" r="3.4"/>
<circle cx="1848.6" cy="692.2" r="4"/>
<circle cx="1736.8" cy="691.1" r="4"/>
<circle cx="1765.9" cy="691.5" r="3.4"/>
<circle cx="1740.0" cy="691.7" r="3.8"/>
<circle cx="1875.4" cy="691.5" r="3.4"/>
<circle cx="1847.0" cy="691.8" r="3.6"/>
<circle cx="1837.4" cy="679.3" r="4.2"/>
<circle cx="1858.3" cy="691.1" r="4.2"/>
<circle cx="1888.4" cy="687.9" r="3.6"/>
<circle cx="1785.5" cy="692.2" r="4.6"/>
<circle cx="1760.7" cy="689.8" r="4"/>
<circle cx="1829.4" cy="678.7" r="4.6"/>
<circle cx="1759.9" cy="682.0" r="4.6"/>
<circle cx="1826.0" cy="692.8" r="4"/>
<circle cx="1851.7" cy="691.7" r="3.8"/>
<circle cx="1840.6" cy="692.0" r="3.8"/>
<circle cx="1842.1" cy="684.2" r="4"/>
<circle cx="1861.2" cy="692.7" r="3.4"/>
<circle cx="1864.4" cy="691.0" r="4.6"/>
<circle cx="1890.8" cy="691.6" r="4.2"/>
<circle cx="1883.5" cy="691.6" r="4.2"/>
<circle cx="1749.9" cy="692.3" r="4.2"/>
<circle cx="1801.4" cy="691.1" r="4.6"/>
<circle cx="1866.3" cy="685.3" r="3.6"/>
<circle cx="1807.4" cy="691.1" r="4.6"/>
<circle cx="1733.2" cy="680.9" r="4.6"/>
<circle cx="1743.8" cy="679.1" r="3.8"/>
<circle cx="1854.3" cy="689.2" r="3.4"/>
<circle cx="1785.0" cy="689.9" r="4.6"/>
<circle cx="1771.6" cy="692.6" r="4.2"/>
<circle cx="1816.5" cy="686.6" r="4.2"/>
<circle cx="1804.7" cy="691.4" r="3.6"/>
<circle cx="1862.6" cy="686.1" r="4.2"/>
<circle cx="1849.8" cy="688.7" r="4.2"/>
<circle cx="1892.5" cy="691.9" r="4"/>
<circle cx="1817.3" cy="691.6" r="4.2"/>
<circle cx="1768.1" cy="691.9" r="4"/>
<circle cx="1760.4" cy="690.0" r="4"/>
<circle cx="1821.4" cy="691.9" r="4.2"/>
<circle cx="1759.9" cy="692.7" r="4.2"/>
<circle cx="1797.3" cy="690.9" r="3.4"/>
<circle cx="1809.5" cy="691.0" r="4"/>
<circle cx="1864.1" cy="692.9" r="3.8"/>
<circle cx="1764.1" cy="692.5" r="4.6"/>
<circle cx="1780.8" cy="681.6" r="3.4"/>
<circle cx="1845.5" cy="692.6" r="4.2"/>
<circle cx="1734.3" cy="690.9" r="4.6"/>
<circle cx="1833.6" cy="690.3" r="3.4"/>
<circle cx="1774.4" cy="679.5" r="4.6"/>
<circle cx="1844.2" cy="690.8" r="3.8"/>
<circle cx="1784.4" cy="692.0" r="3.4"/>
<circle cx="1748.5" cy="691.6" r="4"/>
<circle cx="1761.4" cy="692.3" r="3.6"/>
<circle cx="1855.9" cy="688.8" r="3.6"/>
<circle cx="1784.4" cy="685.1" r="3.8"/>
<circle cx="1847.1" cy="689.8" r="4.2"/>
<circle cx="1878.6" cy="690.8" r="3.6"/>
<circle cx="1820.1" cy="692.9" r="4.6"/>
<circle cx="1837.6" cy="692.7" r="3.4"/>
<circle cx="1879.2" cy="691.9" r="3.8"/>
<circle cx="1758.8" cy="691.7" r="4"/>
<circle cx="1861.4" cy="685.2" r="3.8"/>
<circle cx="1733.4" cy="692.9" r="4.6"/>
<circle cx="1794.8" cy="677.8" r="3.4"/>
<circle cx="1869.7" cy="691.1" r="4"/>
<circle cx="1846.7" cy="682.8" r="4.2"/>
<circle cx="1848.3" cy="691.3" r="3.6"/>
<circle cx="1851.3" cy="692.2" r="3.8"/>
<circle cx="1808.2" cy="690.7" r="3.4"/>
<circle cx="1802.1" cy="690.8" r="3.6"/>
<circle cx="1755.0" cy="688.9" r="4"/>
<circle cx="1799.2" cy="691.9" r="3.4"/>
<circle cx="1864.4" cy="692.7" r="4"/>
<circle cx="1809.5" cy="691.5" r="4"/>
<circle cx="1811.5" cy="690.3" r="4.2"/>
<circle cx="1790.6" cy="692.3" r="4"/>
<circle cx="1854.2" cy="691.9" r="3.6"/>
<circle cx="1829.7" cy="684.4" r="3.4"/>
<circle cx="1877.2" cy="680.1" r="3.8"/>
<circle cx="1868.4" cy="690.9" r="3.8"/>
<circle cx="1803.0" cy="686.8" r="3.6"/>
<circle cx="1754.7" cy="691.7" r="3.4"/>
<circle cx="1804.6" cy="689.8" r="4.2"/>
<circle cx="1783.6" cy="692.9" r="3.8"/>
<circle cx="1843.3" cy="692.9" r="3.6"/>
<circle cx="1875.8" cy="691.1" r="3.6"/>
<circle cx="1758.3" cy="690.8" r="3.6"/>
<circle cx="1772.1" cy="692.5" r="3.6"/>
<circle cx="1843.3" cy="690.6" r="3.6"/>
<circle cx="1819.7" cy="692.4" r="4"/>
<circle cx="1737.8" cy="692.6" r="4"/>
<circle cx="1774.9" cy="692.6" r="3.4"/>
<circle cx="1783.8" cy="692.5" r="3.8"/>
<circle cx="1739.9" cy="690.9" r="4.2"/>
<circle cx="1851.3" cy="691.7" r="4.2"/>
<circle cx="1783.7" cy="689.6" r="3.6"/>
<circle cx="1816.1" cy="692.1" r="4.2"/>
<circle cx="1758.7" cy="686.7" r="4"/>
<circle cx="1841.2" cy="692.4" r="3.8"/>
<circle cx="1766.2" cy="683.6" r="3.8"/>
<circle cx="1846.3" cy="689.3" r="4.2"/>
<circle cx="1875.6" cy="691.0" r="4"/>
<circle cx="1772.0" cy="677.7" r="3.6"/>
<circle cx="1737.5" cy="690.8" r="3.8"/>
<circle cx="1800.4" cy="691.0" r="4.6"/>
<circle cx="1845.8" cy="690.3" r="3.4"/>
<circle cx="1765.4" cy="691.5" r="3.6"/>
<circle cx="1886.2" cy="691.1" r="3.6"/>
<circle cx="1828.4" cy="682.6" r="3.8"/>
<circle cx="1865.4" cy="692.6" r="4"/>
<circle cx="1876.5" cy="692.4" r="4.2"/>
<circle cx="1819.7" cy="687.0" r="4.6"/>
<circle cx="1763.6" cy="690.8" r="4.2"/>
<circle cx="1789.6" cy="692.3" r="4.6"/>
<circle cx="1843.0" cy="692.0" r="4.2"/>
<circle cx="1832.3" cy="692.1" r="3.8"/>
<circle cx="1791.2" cy="691.7" r="4.6"/>
<circle cx="1770.7" cy="692.4" r="3.8"/>
<circle cx="1846.4" cy="689.9" r="3.6"/>
<circle cx="1863.8" cy="676.2" r="3.6"/>
<circle cx="1744.8" cy="691.5" r="4"/>
<circle cx="1803.5" cy="692.3" r="4.6"/>
<circle cx="1862.9" cy="691.3" r="4.2"/>
<circle cx="1883.0" cy="690.7" r="3.4"/>
<circle cx="1871.0" cy="692.6" r="3.8"/>
<circle cx="1779.1" cy="690.5" r="4.6"/>
<circle cx="1881.7" cy="691.7" r="4"/>
<circle cx="1867.2" cy="692.9" r="4.2"/>
<circle cx="1891.1" cy="691.4" r="4.6"/>
<circle cx="1893.0" cy="690.8" r="3.4"/>
<circle cx="1854.6" cy="684.3" r="4.6"/>
<circle cx="1767.8" cy="691.3" r="3.4"/>
<circle cx="1761.8" cy="691.5" r="4.6"/>
<circle cx="1776.9" cy="692.0" r="4.6"/>
<circle cx="1807.4" cy="691.4" r="4.2"/>
<circle cx="1842.6" cy="691.1" r="3.8"/>
<circle cx="1771.1" cy="689.3" r="3.6"/>
<circle cx="1884.3" cy="692.3" r="3.6"/>
<circle cx="1890.1" cy="692.2" r="3.4"/>
<circle cx="1816.1" cy="691.2" r="3.8"/>
<circle cx="1770.8" cy="691.9" r="4.2"/>
<circle cx="1810.6" cy="692.2" r="3.4"/>
<circle cx="1746.5" cy="678.5" r="4.2"/>
<circle cx="1882.0" cy="687.2" r="3.6"/>
<circle cx="1760.1" cy="690.8" r="4.2"/>
<circle cx="1851.2" cy="690.7" r="3.4"/>
<circle cx="1780.5" cy="692.5" r="3.6"/>
<circle cx="1744.7" cy="691.1" r="3.4"/>
<circle cx="1820.8" cy="691.9" r="4.6"/>
<circle cx="1802.2" cy="690.1" r="4"/>
<circle cx="1793.4" cy="691.6" r="3.8"/>
<circle cx="1789.1" cy="685.9" r="3.6"/>
<circle cx="1841.9" cy="690.8" r="4.6"/>
<circle cx="1858.5" cy="691.2" r="3.8"/>
<circle cx="1888.2" cy="679.8" r="3.8"/>
<circle cx="1845.7" cy="688.1" r="4.2"/>
<circle cx="1758.9" cy="686.5" r="3.6"/>
<circle cx="1783.4" cy="684.5" r="4.2"/>
<circle cx="1800.9" cy="689.5" r="4.2"/>
<circle cx="1863.8" cy="692.2" r="3.6"/>
<circle cx="1844.6" cy="690.7" r="3.8"/>
<circle cx="1763.0" cy="691.0" r="4.6"/>
<circle cx="1874.1" cy="681.4" r="3.4"/>
<circle cx="1862.1" cy="689.0" r="3.8"/>
<circle cx="1798.9" cy="690.8" r="4"/>
<circle cx="1755.4" cy="679.1" r="3.8"/>
<circle cx="1771.8" cy="691.2" r="3.8"/>
<circle cx="1860.6" cy="692.0" r="4"/>
<circle cx="1851.5" cy="691.7" r="4.2"/>
<circle cx="1840.9" cy="692.6" r="4"/>
<circle cx="1779.3" cy="692.0" r="4"/>
<circle cx="1778.4" cy="692.5" r="3.6"/>
<circle cx="1812.0" cy="691.7" r="4.6"/>
<circle cx="1806.1" cy="689.7" r="4"/>
<circle cx="1853.9" cy="692.9" r="3.8"/>
<circle cx="1746.8" cy="692.7" r="3.6"/>
<circle cx="1767.4" cy="691.3" r="3.4"/>
<circle cx="1863.5" cy="690.9" r="4"/>
<circle cx="1843.1" cy="691.4" r="3.6"/>
<circle cx="1831.7" cy="692.4" r="3.4"/>
<circle cx="1862.1" cy="683.9" r="4.2"/>
<circle cx="1758.9" cy="693.0" r="3.4"/>
<circle cx="1746.8" cy="691.9" r="4.2"/>
<circle cx="1751.4" cy="691.8" r="3.8"/>
<circle cx="1775.8" cy="692.4" r="4.2"/>
<circle cx="1846.4" cy="691.0" r="4.6"/>
<circle cx="1781.9" cy="693.0" r="3.6"/>
<circle cx="1767.2" cy="692.9" r="3.6"/>
<circle cx="1783.9" cy="691.1" r="3.6"/>
<circle cx="1836.2" cy="690.9" r="3.8"/>
<circle cx="1859.1" cy="692.2" r="4"/>
<circle cx="1757.4" cy="692.3" r="4.6"/>
<circle cx="1892.2" cy="691.6" r="3.6"/>
<circle cx="1852.2" cy="693.0" r="4"/>
<circle cx="1789.8" cy="679.6" r="4"/>
<circle cx="1834.3" cy="692.7" r="3.8"/>
<circle cx="1824.4" cy="692.4" r="3.6"/>
<circle cx="1797.0" cy="692.8" r="3.6"/>
<circle cx="1811.9" cy="691.2" r="3.6"/>
<circle cx="1744.6" cy="691.4" r="3.8"/>
<circle cx="1772.9" cy="692.2" r="4"/>
<circle cx="1795.7" cy="690.8" r="4.6"/>
<circle cx="1852.0" cy="690.4" r="4"/>
<circle cx="1879.2" cy="692.3" r="4"/>
<circle cx="1827.9" cy="691.9" r="4.6"/>
<circle cx="1834.4" cy="689.2" r="3.6"/>
<circle cx="1828.6" cy="692.2" r="4.2"/>
<circle cx="1860.1" cy="691.2" r="3.8"/>
<circle cx="1856.5" cy="677.7" r="3.4"/>
<circle cx="1805.5" cy="691.6" r="3.8"/>
<circle cx="1757.8" cy="692.0" r="3.8"/>
<circle cx="1877.5" cy="686.9" r="4"/>
<circle cx="1849.4" cy="693.0" r="3.4"/>
<circle cx="1819.4" cy="688.3" r="4.2"/>
<circle cx="1764.3" cy="685.7" r="3.4"/>
<circle cx="1892.1" cy="692.7" r="3.6"/>
<circle cx="1808.3" cy="692.2" r="4.6"/>
<circle cx="1828.3" cy="691.5" r="4.2"/>
<circle cx="1803.9" cy="692.0" r="4.2"/>
<circle cx="1787.4" cy="692.1" r="4.2"/>
<circle cx="1798.5" cy="691.8" r="3.8"/>
<circle cx="1732.5" cy="691.1" r="3.6"/>
<circle cx="1883.7" cy="691.9" r="3.8"/>
<circle cx="1750.0" cy="687.1" r="4"/>
<circle cx="1750.8" cy="691.3" r="4"/>
<circle cx="1756.6" cy="684.6" r="3.6"/>
<circle cx="1874.0" cy="692.9" r="3.8"/>
<circle cx="1777.9" cy="693.0" r="4"/>
<circle cx="1836.6" cy="690.8" r="4.6"/>
<circle cx="1839.7" cy="690.9" r="4.2"/>
<circle cx="1836.8" cy="691.3" r="4.2"/>
<circle cx="1800.5" cy="691.0" r="4"/>
<circle cx="1876.2" cy="692.5" r="4.2"/>
<circle cx="1791.7" cy="691.6" r="3.4"/>
<circle cx="1741.2" cy="686.2" r="3.6"/>
<circle cx="1817.0" cy="691.4" r="4"/>
<circle cx="1743.2" cy="691.3" r="3.8"/>
<circle cx="1865.6" cy="689.0" r="3.4"/>
<circle cx="1809.8" cy="688.9" r="4.2"/>
<circle cx="1746.7" cy="693.0" r="4.6"/>
<circle cx="1831.9" cy="690.8" r="3.8"/>
<circle cx="1812.1" cy="692.6" r="3.4"/>
<circle cx="1798.3" cy="692.4" r="4"/>
<circle cx="1817.4" cy="688.5" r="4.6"/>
<circle cx="1735.5" cy="691.8" r="3.4"/>
<circle cx="1874.0" cy="674.7" r="3.6"/>
<circle cx="1777.4" cy="692.8" r="4.6"/>
<circle cx="1843.4" cy="689.7" r="3.4"/>
<circle cx="1833.9" cy="691.9" r="4"/>
<circle cx="1784.5" cy="693.0" r="4.2"/>
<circle cx="1865.3" cy="692.9" r="4.6"/>
<circle cx="1861.3" cy="690.7" r="4"/>
<circle cx="1752.5" cy="690.9" r="4.2"/>
<circle cx="1860.5" cy="691.2" r="4.6"/>
<circle cx="1733.9" cy="689.4" r="3.4"/>
<circle cx="1847.0" cy="679.2" r="3.4"/>
<circle cx="1844.3" cy="692.5" r="4.6"/>
<circle cx="1793.3" cy="692.4" r="3.8"/>
<circle cx="1879.0" cy="691.8" r="3.4"/>
<circle cx="1849.0" cy="690.7" r="4.6"/>
<circle cx="1828.2" cy="681.2" r="4.2"/>
<circle cx="1800.4" cy="691.2" r="3.4"/>
<circle cx="1808.9" cy="692.9" r="3.8"/>
<circle cx="1771.4" cy="691.4" r="3.8"/>
<circle cx="1750.7" cy="677.9" r="4.2"/>
<circle cx="1750.4" cy="691.8" r="3.4"/>
<circle cx="1785.3" cy="692.6" r="4.2"/>
<circle cx="1778.7" cy="692.0" r="3.6"/>
<circle cx="1804.5" cy="692.0" r="3.4"/>
<circle cx="1831.3" cy="691.2" r="4"/>
<circle cx="1751.5" cy="692.6" r="4.6"/>
<circle cx="1845.6" cy="690.7" r="3.8"/>
<circle cx="1753.0" cy="685.3" r="4"/>
<circle cx="1777.0" cy="692.5" r="3.6"/>
<circle cx="1751.7" cy="692.1" r="4.6"/>
<circle cx="1838.8" cy="693.0" r="3.8"/>
<circle cx="1833.3" cy="689.3" r="4.6"/>
<circle cx="1767.4" cy="692.9" r="4.2"/>
<circle cx="1752.9" cy="691.8" r="4"/>
<circle cx="1811.5" cy="686.4" r="3.4"/>
<circle cx="1853.2" cy="692.2" r="3.6"/>
<circle cx="1768.6" cy="691.7" r="3.8"/>
<circle cx="1810.9" cy="692.1" r="4.6"/>
<circle cx="1753.7" cy="691.3" r="3.8"/>
<circle cx="1763.5" cy="693.0" r="3.8"/>
<circle cx="1747.3" cy="691.7" r="3.8"/>
<circle cx="1802.9" cy="693.0" r="4.2"/>
<circle cx="1849.6" cy="691.0" r="3.6"/>
<circle cx="1874.2" cy="691.1" r="4.6"/>
<circle cx="1851.0" cy="692.6" r="3.8"/>
<circle cx="1774.3" cy="690.0" r="3.8"/>
<circle cx="1739.3" cy="691.3" r="3.6"/>
<circle cx="1812.8" cy="692.6" r="4.6"/>
<circle cx="1839.1" cy="692.9" r="3.6"/>
<circle cx="1782.2" cy="689.7" r="3.6"/>
<circle cx="1822.7" cy="691.7" r="3.8"/>
</g>
<g class="p" fill="#e4b87a" stroke="#cda56d">
<circle cx="1773.8" cy="579.7" r="4.8"/>
<circle cx="1792.4" cy="644.8" r="5"/>
<circle cx="1775.0" cy="654.7" r="5"/>
<circle cx="1784.5" cy="659.0" r="4"/>
<circle cx="1731.0" cy="658.0" r="4"/>
<circle cx="1881.9" cy="644.5" r="4"/>
<circle cx="1888.5" cy="654.4" r="4.6"/>
<circle cx="1835.0" cy="656.3" r="4"/>
<circle cx="1816.0" cy="665.2" r="4"/>
<circle cx="1878.5" cy="667.5" r="5"/>
<circle cx="1767.0" cy="669.0" r="3.8"/>
<circle cx="1741.0" cy="673.5" r="4"/>
<circle cx="1808.0" cy="671.5" r="4"/>
<circle cx="1786.5" cy="676.0" r="4.4"/>
<circle cx="1825.0" cy="674.0" r="4.4"/>
<circle cx="1843.0" cy="669.5" r="4"/>
<circle cx="1848.5" cy="667.5" r="4"/>
<circle cx="1857.0" cy="672.0" r="4"/>
<circle cx="1864.5" cy="670.5" r="4"/>
<circle cx="1890.5" cy="674.5" r="4"/>
<circle cx="1880.5" cy="679.5" r="4"/>
<circle cx="1851.5" cy="678.0" r="4.4"/>
<circle cx="1736.0" cy="681.0" r="4"/>
</g>
<g class="q" fill="#5e6868" stroke="#5a6363">
<circle cx="2046.9" cy="692.7" r="4"/>
<circle cx="1913.9" cy="692.3" r="3.6"/>
<circle cx="2005.6" cy="692.0" r="4.6"/>
<circle cx="1981.1" cy="692.0" r="3.6"/>
<circle cx="2022.3" cy="691.1" r="4.6"/>
<circle cx="2066.4" cy="687.7" r="4.6"/>
<circle cx="1916.3" cy="691.7" r="4.6"/>
<circle cx="2040.3" cy="692.3" r="3.6"/>
<circle cx="2105.6" cy="680.1" r="3.6"/>
<circle cx="2108.8" cy="684.0" r="3.6"/>
<circle cx="2076.6" cy="692.4" r="3.6"/>
<circle cx="1965.9" cy="690.8" r="4.2"/>
<circle cx="2047.2" cy="687.8" r="3.6"/>
<circle cx="2031.4" cy="675.0" r="3.6"/>
<circle cx="2091.8" cy="691.4" r="4.2"/>
<circle cx="2010.8" cy="691.8" r="3.4"/>
<circle cx="2013.3" cy="692.0" r="4.6"/>
<circle cx="2053.9" cy="692.3" r="3.4"/>
<circle cx="1974.1" cy="691.6" r="3.4"/>
<circle cx="2053.5" cy="691.3" r="3.8"/>
<circle cx="2005.4" cy="692.7" r="4"/>
<circle cx="2090.6" cy="691.3" r="4.6"/>
<circle cx="2029.6" cy="692.3" r="4.2"/>
<circle cx="2067.3" cy="690.8" r="3.6"/>
<circle cx="2077.9" cy="691.3" r="3.6"/>
<circle cx="1922.4" cy="691.1" r="3.6"/>
<circle cx="1895.6" cy="689.2" r="4.6"/>
<circle cx="2014.3" cy="692.3" r="3.4"/>
<circle cx="2109.7" cy="687.1" r="3.8"/>
<circle cx="2002.7" cy="692.9" r="4"/>
<circle cx="2002.0" cy="692.0" r="3.4"/>
<circle cx="2036.8" cy="691.7" r="4.6"/>
<circle cx="2051.6" cy="689.0" r="3.4"/>
<circle cx="1986.4" cy="687.6" r="3.4"/>
<circle cx="2013.8" cy="692.3" r="4"/>
<circle cx="2108.4" cy="680.6" r="4.6"/>
<circle cx="2040.1" cy="692.6" r="4.6"/>
<circle cx="1970.3" cy="692.1" r="4"/>
<circle cx="1936.5" cy="691.4" r="4"/>
<circle cx="1927.9" cy="692.0" r="3.6"/>
<circle cx="1982.5" cy="690.9" r="3.6"/>
<circle cx="2046.0" cy="691.0" r="4"/>
<circle cx="1986.1" cy="691.5" r="4.6"/>
<circle cx="2043.8" cy="692.9" r="3.6"/>
<circle cx="1922.9" cy="692.1" r="4"/>
<circle cx="1926.8" cy="692.9" r="4.6"/>
<circle cx="2071.1" cy="691.4" r="3.6"/>
<circle cx="2002.5" cy="692.4" r="4"/>
<circle cx="1949.1" cy="691.4" r="4"/>
<circle cx="2049.2" cy="691.9" r="3.8"/>
<circle cx="2108.7" cy="691.3" r="4.6"/>
<circle cx="2085.0" cy="689.3" r="3.4"/>
<circle cx="2011.8" cy="688.0" r="3.8"/>
<circle cx="2060.1" cy="691.5" r="3.8"/>
<circle cx="1948.7" cy="691.9" r="3.6"/>
<circle cx="1990.3" cy="682.4" r="4.2"/>
<circle cx="2055.6" cy="691.7" r="3.8"/>
<circle cx="1984.5" cy="692.6" r="3.8"/>
<circle cx="2070.5" cy="692.8" r="3.6"/>
<circle cx="2082.9" cy="690.8" r="4.2"/>
<circle cx="2096.5" cy="692.5" r="4"/>
<circle cx="1927.6" cy="691.2" r="3.6"/>
<circle cx="1964.9" cy="691.7" r="3.4"/>
<circle cx="2085.5" cy="688.5" r="4.2"/>
<circle cx="2078.9" cy="690.8" r="3.4"/>
<circle cx="2015.0" cy="692.0" r="3.8"/>
<circle cx="2000.5" cy="692.1" r="4.2"/>
<circle cx="1944.5" cy="692.0" r="3.4"/>
<circle cx="2031.5" cy="683.0" r="3.4"/>
<circle cx="1968.4" cy="685.7" r="4.6"/>
<circle cx="2109.9" cy="691.7" r="4.2"/>
<circle cx="1927.5" cy="692.0" r="3.8"/>
<circle cx="1989.2" cy="685.9" r="4"/>
<circle cx="2035.1" cy="690.5" r="3.4"/>
<circle cx="1935.3" cy="690.8" r="3.8"/>
<circle cx="2071.8" cy="692.0" r="3.6"/>
<circle cx="1981.7" cy="691.7" r="3.8"/>
<circle cx="1906.3" cy="692.1" r="4"/>
<circle cx="2020.3" cy="691.4" r="3.4"/>
<circle cx="2035.5" cy="692.0" r="4.6"/>
<circle cx="2003.6" cy="688.8" r="4.2"/>
<circle cx="2032.2" cy="692.0" r="3.8"/>
<circle cx="1972.2" cy="691.7" r="3.8"/>
<circle cx="2023.1" cy="692.5" r="4"/>
<circle cx="2100.4" cy="691.2" r="4.2"/>
<circle cx="1991.4" cy="687.8" r="4"/>
<circle cx="1999.6" cy="693.0" r="3.4"/>
<circle cx="1911.8" cy="684.8" r="3.4"/>
<circle cx="1973.3" cy="691.5" r="3.6"/>
<circle cx="2067.8" cy="691.1" r="4.6"/>
<circle cx="2052.0" cy="691.8" r="3.4"/>
<circle cx="2048.5" cy="690.8" r="4.2"/>
<circle cx="1964.5" cy="692.9" r="3.6"/>
<circle cx="2079.4" cy="692.8" r="4.2"/>
<circle cx="1980.9" cy="692.2" r="4.2"/>
<circle cx="2057.8" cy="688.6" r="4.6"/>
<circle cx="1942.4" cy="692.6" r="3.4"/>
<circle cx="1948.0" cy="692.9" r="4.2"/>
<circle cx="2041.5" cy="692.8" r="4.6"/>
<circle cx="1918.3" cy="691.6" r="4.2"/>
<circle cx="1899.4" cy="691.0" r="3.4"/>
<circle cx="2002.8" cy="679.7" r="3.4"/>
<circle cx="1964.6" cy="680.1" r="3.4"/>
<circle cx="1903.8" cy="691.4" r="3.4"/>
<circle cx="1922.9" cy="691.2" r="4"/>
<circle cx="1925.8" cy="681.7" r="4.6"/>
<circle cx="1920.1" cy="691.5" r="4.2"/>
<circle cx="2105.5" cy="691.0" r="3.8"/>
<circle cx="2013.0" cy="691.0" r="4.6"/>
<circle cx="1946.7" cy="691.7" r="4"/>
<circle cx="1931.2" cy="692.0" r="4"/>
<circle cx="1925.3" cy="690.7" r="3.4"/>
<circle cx="1925.2" cy="690.9" r="4.2"/>
<circle cx="2052.1" cy="690.4" r="3.6"/>
<circle cx="2005.7" cy="686.4" r="3.6"/>
<circle cx="2087.2" cy="692.4" r="4.6"/>
<circle cx="1946.8" cy="692.1" r="3.4"/>
<circle cx="2019.5" cy="692.0" r="4.2"/>
<circle cx="2097.4" cy="692.9" r="4.6"/>
<circle cx="1982.2" cy="691.0" r="4"/>
<circle cx="1975.2" cy="692.5" r="3.4"/>
<circle cx="1938.5" cy="691.6" r="4"/>
<circle cx="1929.3" cy="692.3" r="3.8"/>
<circle cx="2099.7" cy="691.6" r="3.8"/>
<circle cx="2013.0" cy="691.6" r="4.6"/>
<circle cx="2075.6" cy="692.9" r="4.6"/>
<circle cx="1925.1" cy="680.7" r="3.4"/>
<circle cx="1960.2" cy="684.7" r="4.6"/>
<circle cx="1995.6" cy="692.1" r="4.2"/>
<circle cx="1930.2" cy="692.3" r="4"/>
<circle cx="2019.2" cy="691.6" r="3.6"/>
<circle cx="1995.6" cy="691.2" r="3.6"/>
<circle cx="1943.8" cy="692.3" r="3.8"/>
<circle cx="2084.0" cy="691.8" r="4"/>
<circle cx="2000.0" cy="692.7" r="4"/>
<circle cx="1945.9" cy="691.1" r="4"/>
<circle cx="2000.0" cy="690.8" r="4"/>
<circle cx="1938.7" cy="679.4" r="4.2"/>
<circle cx="2068.3" cy="691.4" r="3.4"/>
<circle cx="2039.5" cy="684.2" r="3.4"/>
<circle cx="1997.7" cy="691.6" r="3.6"/>
<circle cx="2023.9" cy="691.9" r="4"/>
<circle cx="1919.6" cy="691.9" r="3.4"/>
<circle cx="1952.5" cy="691.2" r="4"/>
<circle cx="1923.7" cy="691.6" r="3.4"/>
<circle cx="2110.1" cy="692.6" r="4.2"/>
<circle cx="1957.7" cy="692.6" r="3.8"/>
<circle cx="1977.7" cy="683.8" r="3.4"/>
<circle cx="2042.4" cy="690.9" r="3.8"/>
<circle cx="1953.1" cy="691.4" r="3.4"/>
<circle cx="2027.4" cy="691.0" r="4"/>
<circle cx="1900.4" cy="684.8" r="4.2"/>
<circle cx="2103.8" cy="687.9" r="3.6"/>
<circle cx="2047.3" cy="691.6" r="3.8"/>
<circle cx="2076.8" cy="690.1" r="4"/>
<circle cx="1959.6" cy="690.8" r="3.6"/>
<circle cx="2095.7" cy="691.1" r="4.2"/>
<circle cx="1925.6" cy="692.7" r="4.2"/>
<circle cx="1895.3" cy="689.1" r="4"/>
<circle cx="2005.5" cy="681.3" r="3.4"/>
<circle cx="1910.6" cy="691.5" r="3.6"/>
<circle cx="1960.1" cy="691.1" r="4.6"/>
<circle cx="1935.9" cy="691.2" r="4.6"/>
<circle cx="1934.8" cy="691.0" r="3.8"/>
<circle cx="2046.4" cy="682.8" r="3.4"/>
<circle cx="2093.4" cy="691.3" r="4"/>
<circle cx="2074.7" cy="691.4" r="3.4"/>
<circle cx="1953.6" cy="689.0" r="4"/>
<circle cx="2058.1" cy="681.9" r="3.4"/>
<circle cx="2067.7" cy="691.9" r="4"/>
<circle cx="2092.9" cy="691.3" r="4.6"/>
<circle cx="2089.5" cy="690.4" r="3.6"/>
<circle cx="2057.9" cy="691.5" r="3.8"/>
<circle cx="2034.5" cy="692.1" r="4.2"/>
<circle cx="2012.0" cy="681.0" r="4"/>
<circle cx="2053.0" cy="690.9" r="3.8"/>
<circle cx="1906.8" cy="692.3" r="4"/>
<circle cx="2039.0" cy="691.5" r="4.6"/>
<circle cx="1999.5" cy="691.8" r="4.2"/>
<circle cx="1994.5" cy="692.5" r="4.6"/>
<circle cx="1914.4" cy="692.1" r="3.8"/>
<circle cx="1911.5" cy="691.8" r="4.2"/>
<circle cx="1942.0" cy="692.6" r="3.6"/>
<circle cx="2039.4" cy="691.7" r="3.6"/>
<circle cx="1929.5" cy="686.4" r="4"/>
<circle cx="2061.9" cy="681.6" r="4.6"/>
<circle cx="2083.9" cy="691.6" r="3.6"/>
<circle cx="2088.6" cy="692.2" r="3.6"/>
<circle cx="2099.2" cy="691.1" r="4"/>
<circle cx="2096.4" cy="690.9" r="3.4"/>
<circle cx="1920.0" cy="688.4" r="3.4"/>
<circle cx="2061.2" cy="692.2" r="4.6"/>
<circle cx="2004.9" cy="693.0" r="4.6"/>
<circle cx="2048.5" cy="691.9" r="3.6"/>
<circle cx="2066.8" cy="689.2" r="4.6"/>
<circle cx="2083.8" cy="692.3" r="4.6"/>
<circle cx="2033.8" cy="692.0" r="4.6"/>
<circle cx="1961.5" cy="691.1" r="4.2"/>
<circle cx="2043.6" cy="691.1" r="4.2"/>
<circle cx="2017.7" cy="691.9" r="4.6"/>
<circle cx="1930.0" cy="692.9" r="4"/>
<circle cx="2054.7" cy="690.8" r="3.4"/>
<circle cx="1906.8" cy="685.2" r="3.4"/>
<circle cx="1985.8" cy="691.9" r="4"/>
<circle cx="2046.1" cy="692.8" r="4.6"/>
<circle cx="1912.6" cy="691.8" r="4.6"/>
<circle cx="1941.6" cy="690.0" r="4"/>
<circle cx="2099.8" cy="691.5" r="3.8"/>
<circle cx="1983.4" cy="691.4" r="3.4"/>
<circle cx="2023.7" cy="691.0" r="4.2"/>
<circle cx="2061.4" cy="691.7" r="4.2"/>
<circle cx="1969.5" cy="691.9" r="4.6"/>
<circle cx="2025.2" cy="691.4" r="4.6"/>
<circle cx="1974.6" cy="691.3" r="3.6"/>
<circle cx="2048.3" cy="690.8" r="3.4"/>
<circle cx="2085.5" cy="687.1" r="4.2"/>
<circle cx="2058.1" cy="691.9" r="4"/>
<circle cx="2078.8" cy="692.0" r="3.6"/>
<circle cx="2083.4" cy="688.7" r="4.2"/>
<circle cx="2001.1" cy="690.3" r="3.8"/>
<circle cx="1994.2" cy="692.4" r="3.8"/>
<circle cx="1958.0" cy="686.5" r="3.6"/>
<circle cx="1954.7" cy="692.0" r="4.2"/>
<circle cx="1964.1" cy="685.9" r="4.6"/>
<circle cx="1907.8" cy="692.3" r="3.4"/>
<circle cx="2047.3" cy="691.9" r="3.6"/>
<circle cx="1951.0" cy="691.0" r="4.6"/>
<circle cx="1917.6" cy="692.2" r="4.2"/>
<circle cx="1946.8" cy="692.2" r="4"/>
<circle cx="2051.5" cy="686.0" r="4.6"/>
<circle cx="1938.8" cy="690.9" r="3.8"/>
<circle cx="1921.4" cy="692.5" r="4.6"/>
<circle cx="1937.0" cy="691.9" r="4.2"/>
<circle cx="2099.9" cy="692.0" r="4"/>
<circle cx="2048.7" cy="691.7" r="3.8"/>
<circle cx="2068.4" cy="691.9" r="4.6"/>
<circle cx="1898.9" cy="685.3" r="4.2"/>
<circle cx="2006.9" cy="692.1" r="3.6"/>
<circle cx="2107.3" cy="690.9" r="4"/>
<circle cx="1928.7" cy="691.5" r="4.6"/>
<circle cx="1952.5" cy="682.0" r="4.2"/>
<circle cx="2092.4" cy="691.2" r="4.6"/>
<circle cx="2080.9" cy="691.4" r="3.6"/>
<circle cx="1989.9" cy="690.9" r="3.4"/>
<circle cx="2030.8" cy="692.6" r="4.2"/>
<circle cx="1955.0" cy="691.4" r="3.6"/>
<circle cx="1981.0" cy="689.5" r="4.2"/>
<circle cx="2093.5" cy="692.7" r="3.8"/>
<circle cx="2110.6" cy="692.9" r="3.6"/>
<circle cx="2081.1" cy="692.6" r="4"/>
<circle cx="2102.9" cy="691.1" r="3.4"/>
<circle cx="2053.7" cy="691.6" r="3.4"/>
<circle cx="1968.3" cy="692.8" r="3.6"/>
<circle cx="1995.6" cy="684.7" r="4.2"/>
<circle cx="1987.7" cy="692.4" r="3.4"/>
<circle cx="2085.9" cy="691.0" r="4.2"/>
<circle cx="1995.1" cy="691.0" r="4.6"/>
<circle cx="2021.4" cy="687.6" r="3.6"/>
<circle cx="2094.4" cy="692.7" r="4"/>
<circle cx="2024.8" cy="687.7" r="3.6"/>
<circle cx="1930.9" cy="692.2" r="3.6"/>
<circle cx="1942.1" cy="691.4" r="4.2"/>
<circle cx="1906.1" cy="693.0" r="4"/>
<circle cx="1897.8" cy="691.3" r="3.6"/>
<circle cx="1968.2" cy="690.9" r="4.6"/>
<circle cx="1938.5" cy="692.6" r="3.6"/>
<circle cx="2003.1" cy="691.3" r="3.4"/>
<circle cx="1919.1" cy="692.1" r="3.4"/>
<circle cx="2092.7" cy="683.7" r="3.4"/>
<circle cx="2102.0" cy="692.2" r="4.6"/>
<circle cx="1925.1" cy="686.7" r="3.8"/>
<circle cx="2069.6" cy="686.3" r="3.8"/>
<circle cx="1984.6" cy="687.8" r="4.2"/>
<circle cx="1988.4" cy="689.0" r="3.6"/>
<circle cx="1922.7" cy="692.7" r="3.8"/>
<circle cx="2050.3" cy="689.8" r="4.6"/>
<circle cx="2065.3" cy="683.3" r="3.4"/>
<circle cx="2035.0" cy="691.2" r="3.8"/>
<circle cx="1995.9" cy="690.9" r="4.6"/>
<circle cx="2034.8" cy="692.2" r="4.6"/>
<circle cx="1970.0" cy="691.8" r="3.4"/>
<circle cx="1914.9" cy="692.1" r="3.6"/>
<circle cx="1968.4" cy="691.9" r="4"/>
<circle cx="2009.4" cy="691.8" r="4.6"/>
<circle cx="2087.7" cy="691.0" r="3.8"/>
<circle cx="2098.4" cy="689.7" r="3.4"/>
<circle cx="1963.9" cy="691.6" r="3.8"/>
<circle cx="1995.4" cy="691.4" r="3.4"/>
<circle cx="1922.8" cy="692.2" r="3.6"/>
<circle cx="1982.2" cy="692.3" r="4.6"/>
<circle cx="1943.1" cy="692.7" r="4.2"/>
<circle cx="2071.3" cy="691.3" r="4.6"/>
<circle cx="2109.3" cy="691.2" r="4"/>
<circle cx="1912.7" cy="691.1" r="3.4"/>
<circle cx="2106.7" cy="686.5" r="4"/>
<circle cx="2015.1" cy="674.5" r="3.4"/>
<circle cx="2085.1" cy="691.3" r="4.6"/>
<circle cx="2030.6" cy="692.8" r="3.6"/>
<circle cx="2061.7" cy="690.5" r="3.4"/>
<circle cx="2044.9" cy="691.2" r="3.6"/>
<circle cx="1908.6" cy="692.5" r="4"/>
<circle cx="2015.1" cy="692.9" r="3.6"/>
<circle cx="1988.5" cy="692.5" r="3.8"/>
<circle cx="1910.6" cy="692.8" r="3.8"/>
<circle cx="1945.3" cy="691.7" r="3.6"/>
<circle cx="2055.4" cy="693.0" r="3.8"/>
<circle cx="1955.0" cy="692.4" r="3.4"/>
<circle cx="2053.4" cy="687.3" r="3.4"/>
<circle cx="1982.5" cy="682.8" r="4"/>
<circle cx="1975.0" cy="692.3" r="3.8"/>
<circle cx="1916.4" cy="691.4" r="3.4"/>
<circle cx="2029.9" cy="692.1" r="4"/>
<circle cx="2097.3" cy="683.2" r="4.6"/>
<circle cx="2038.9" cy="677.4" r="3.8"/>
<circle cx="2024.9" cy="687.6" r="3.8"/>
<circle cx="1982.7" cy="692.1" r="4.2"/>
<circle cx="1962.1" cy="688.7" r="3.8"/>
<circle cx="1932.5" cy="677.6" r="3.8"/>
<circle cx="1986.6" cy="685.4" r="3.8"/>
<circle cx="1950.9" cy="690.6" r="4"/>
<circle cx="1996.9" cy="691.5" r="3.8"/>
<circle cx="2106.7" cy="691.2" r="3.4"/>
<circle cx="2058.1" cy="692.5" r="4.2"/>
<circle cx="2104.0" cy="690.8" r="4"/>
<circle cx="1963.9" cy="689.7" r="4"/>
<circle cx="2093.2" cy="690.9" r="3.6"/>
<circle cx="2093.1" cy="693.0" r="3.4"/>
<circle cx="2048.6" cy="689.2" r="4"/>
<circle cx="2053.8" cy="683.4" r="3.6"/>
<circle cx="2046.5" cy="692.7" r="4"/>
<circle cx="2013.1" cy="692.7" r="4.6"/>
<circle cx="2016.5" cy="691.4" r="3.8"/>
<circle cx="1912.5" cy="691.3" r="3.4"/>
<circle cx="2061.9" cy="689.8" r="3.8"/>
<circle cx="1931.1" cy="692.3" r="4.2"/>
<circle cx="2001.8" cy="690.9" r="3.8"/>
<circle cx="2029.2" cy="692.4" r="3.4"/>
<circle cx="1965.8" cy="687.0" r="3.4"/>
<circle cx="2095.1" cy="676.8" r="3.4"/>
<circle cx="1941.1" cy="686.1" r="4"/>
<circle cx="2071.5" cy="691.4" r="4"/>
<circle cx="1897.5" cy="680.8" r="4.6"/>
<circle cx="1931.8" cy="692.2" r="3.6"/>
<circle cx="1984.1" cy="692.8" r="3.4"/>
<circle cx="2098.6" cy="691.4" r="4.6"/>
<circle cx="2083.4" cy="691.5" r="3.6"/>
<circle cx="2102.4" cy="692.8" r="4"/>
<circle cx="1986.1" cy="691.1" r="3.8"/>
<circle cx="1914.9" cy="686.8" r="4.2"/>
<circle cx="1975.1" cy="692.1" r="4.2"/>
<circle cx="2045.8" cy="692.1" r="3.6"/>
<circle cx="2070.5" cy="692.0" r="4"/>
<circle cx="1936.2" cy="691.6" r="3.4"/>
<circle cx="2108.6" cy="692.6" r="3.8"/>
<circle cx="1911.0" cy="692.4" r="4"/>
<circle cx="2020.5" cy="690.5" r="4.2"/>
<circle cx="2024.8" cy="678.5" r="3.4"/>
<circle cx="2021.1" cy="692.9" r="4"/>
<circle cx="1904.0" cy="690.8" r="3.4"/>
<circle cx="1950.9" cy="692.2" r="4.6"/>
<circle cx="1962.0" cy="691.0" r="4"/>
<circle cx="2053.7" cy="691.1" r="3.4"/>
<circle cx="1900.5" cy="691.6" r="4.2"/>
<circle cx="1990.4" cy="692.2" r="4.2"/>
<circle cx="2071.8" cy="683.1" r="3.6"/>
<circle cx="1901.7" cy="688.4" r="3.6"/>
<circle cx="1911.0" cy="685.8" r="4"/>
<circle cx="2098.9" cy="689.4" r="4"/>
<circle cx="1996.3" cy="692.0" r="3.4"/>
<circle cx="2057.2" cy="692.5" r="3.8"/>
<circle cx="1980.0" cy="690.3" r="3.6"/>
<circle cx="2100.2" cy="689.4" r="4"/>
<circle cx="2023.4" cy="687.7" r="4.6"/>
<circle cx="2074.1" cy="692.2" r="4"/>
<circle cx="2033.3" cy="692.4" r="3.6"/>
<circle cx="2000.1" cy="691.6" r="4.2"/>
<circle cx="1973.6" cy="690.3" r="3.4"/>
<circle cx="2072.0" cy="681.2" r="3.4"/>
<circle cx="2075.3" cy="691.6" r="4.6"/>
<circle cx="2007.9" cy="691.5" r="4"/>
<circle cx="2074.1" cy="692.8" r="3.8"/>
<circle cx="2109.8" cy="692.5" r="3.8"/>
<circle cx="2069.9" cy="692.5" r="4"/>
<circle cx="2007.6" cy="691.1" r="3.6"/>
<circle cx="2098.9" cy="690.9" r="3.6"/>
<circle cx="1901.8" cy="690.9" r="4.2"/>
<circle cx="2018.6" cy="689.1" r="4.2"/>
<circle cx="2082.2" cy="688.1" r="4.2"/>
<circle cx="2027.6" cy="691.4" r="3.6"/>
<circle cx="1919.0" cy="692.1" r="4"/>
<circle cx="1896.7" cy="682.3" r="3.4"/>
<circle cx="1898.6" cy="691.2" r="3.4"/>
<circle cx="1958.7" cy="690.0" r="4.6"/>
<circle cx="2011.5" cy="692.8" r="3.8"/>
<circle cx="1932.1" cy="693.0" r="4.2"/>
<circle cx="2071.2" cy="690.9" r="4.2"/>
<circle cx="1963.9" cy="691.5" r="3.8"/>
<circle cx="2024.1" cy="692.8" r="3.6"/>
<circle cx="1917.1" cy="692.6" r="3.8"/>
<circle cx="1994.6" cy="691.3" r="3.6"/>
<circle cx="2089.3" cy="692.3" r="3.6"/>
<circle cx="1992.7" cy="690.9" r="4.6"/>
<circle cx="2037.9" cy="692.8" r="4.2"/>
<circle cx="1914.7" cy="691.3" r="3.4"/>
<circle cx="2034.6" cy="692.7" r="4"/>
<circle cx="2014.6" cy="690.9" r="3.8"/>
<circle cx="1942.4" cy="691.4" r="3.8"/>
<circle cx="1902.5" cy="690.0" r="4.2"/>
<circle cx="1965.0" cy="691.9" r="3.4"/>
<circle cx="1913.8" cy="683.2" r="3.8"/>
<circle cx="2056.9" cy="688.1" r="4"/>
<circle cx="2048.9" cy="692.0" r="3.4"/>
<circle cx="1986.4" cy="691.6" r="3.6"/>
<circle cx="1977.1" cy="692.5" r="3.4"/>
</g>
<g class="p" fill="#5e6868" stroke="#545d5d">
<circle cx="2021.2" cy="547.2" r="5.6"/>
<circle cx="1966.4" cy="589.3" r="4"/>
<circle cx="1961.8" cy="616.7" r="4"/>
<circle cx="1964.0" cy="638.2" r="4.2"/>
<circle cx="1983.9" cy="633.9" r="4"/>
<circle cx="2028.5" cy="632.9" r="3.9"/>
<circle cx="1967.4" cy="653.7" r="4.2"/>
<circle cx="2074.7" cy="634.9" r="4"/>
<circle cx="2085.9" cy="637.5" r="4.8"/>
<circle cx="2093.5" cy="651.0" r="4.2"/>
<circle cx="2024.5" cy="651.4" r="3.9"/>
<circle cx="2025.8" cy="657.3" r="3.9"/>
<circle cx="2019.9" cy="661.3" r="4"/>
<circle cx="1928.4" cy="662.6" r="4.2"/>
<circle cx="2002.7" cy="666.3" r="4.6"/>
<circle cx="1918.5" cy="672.5" r="4"/>
<circle cx="1923.0" cy="676.0" r="3.8"/>
<circle cx="1944.5" cy="674.5" r="4"/>
<circle cx="1969.5" cy="677.0" r="4.4"/>
<circle cx="1982.0" cy="675.5" r="4"/>
<circle cx="1990.5" cy="673.0" r="4.4"/>
<circle cx="1996.0" cy="676.5" r="4"/>
<circle cx="2031.5" cy="671.0" r="4"/>
<circle cx="2040.5" cy="675.0" r="3.8"/>
<circle cx="2047.5" cy="674.0" r="3.8"/>
<circle cx="2055.5" cy="672.5" r="4"/>
<circle cx="2062.0" cy="666.0" r="4.2"/>
<circle cx="2071.0" cy="670.0" r="4"/>
<circle cx="2082.0" cy="673.5" r="4.6"/>
<circle cx="2088.0" cy="667.5" r="4"/>
<circle cx="2107.0" cy="677.5" r="4"/>
<circle cx="1904.5" cy="682.0" r="4"/>
<circle cx="2060.0" cy="679.0" r="3.8"/>
</g>
</g>
<line x1="136" y1="626.5" x2="2113.5" y2="626.5" stroke="#000" stroke-width="2.05" stroke-dasharray="7.8 6.58"/>
<line x1="135.9" y1="18.4" x2="135.9" y2="694.05" stroke="#000" stroke-width="2.2"/>
<line x1="134.8" y1="693" x2="2113.8" y2="693" stroke="#000" stroke-width="2.1"/>
<line x1="131.3" y1="693.0" x2="135.5" y2="693.0" stroke="#000" stroke-width="1.9"/>
<text x="126.6" y="704.0" font-size="30" stroke-width="0.90" text-anchor="end">0</text>
<line x1="131.3" y1="618.9" x2="135.5" y2="618.9" stroke="#000" stroke-width="1.9"/>
<text x="126.6" y="629.9" font-size="30" stroke-width="0.90" text-anchor="end">10</text>
<line x1="131.3" y1="544.8" x2="135.5" y2="544.8" stroke="#000" stroke-width="1.9"/>
<text x="126.6" y="555.8" font-size="30" stroke-width="0.90" text-anchor="end">20</text>
<line x1="131.3" y1="470.7" x2="135.5" y2="470.7" stroke="#000" stroke-width="1.9"/>
<text x="126.6" y="481.7" font-size="30" stroke-width="0.90" text-anchor="end">30</text>
<line x1="131.3" y1="396.6" x2="135.5" y2="396.6" stroke="#000" stroke-width="1.9"/>
<text x="126.6" y="407.6" font-size="30" stroke-width="0.90" text-anchor="end">40</text>
<line x1="131.3" y1="322.5" x2="135.5" y2="322.5" stroke="#000" stroke-width="1.9"/>
<text x="126.6" y="333.5" font-size="30" stroke-width="0.90" text-anchor="end">50</text>
<line x1="131.3" y1="248.4" x2="135.5" y2="248.4" stroke="#000" stroke-width="1.9"/>
<text x="126.6" y="259.4" font-size="30" stroke-width="0.90" text-anchor="end">60</text>
<line x1="131.3" y1="174.3" x2="135.5" y2="174.3" stroke="#000" stroke-width="1.9"/>
<text x="126.6" y="185.3" font-size="30" stroke-width="0.90" text-anchor="end">70</text>
<line x1="131.3" y1="100.2" x2="135.5" y2="100.2" stroke="#000" stroke-width="1.9"/>
<text x="126.6" y="111.2" font-size="30" stroke-width="0.90" text-anchor="end">80</text>
<line x1="131.3" y1="26.1" x2="135.5" y2="26.1" stroke="#000" stroke-width="1.9"/>
<text x="126.6" y="37.1" font-size="30" stroke-width="0.90" text-anchor="end">90</text>
<text transform="translate(82,356.4) rotate(-90)" font-size="33.6" stroke-width="0.9" text-anchor="middle">−log10(pval)</text>
<text x="1125.0" y="727.3" font-size="33.75" stroke-width="0.80" text-anchor="middle">ICD−10 Codes</text>
<text x="1317.5" y="175.3" font-size="23" stroke-width="0.44">Risk Ratio</text>
<text x="1462.0" y="175.3" font-size="23" stroke-width="0.44">ICD−10 codes</text>
<circle cx="1331.3" cy="204.0" r="5.4" fill="#1f2527"/>
<text x="1357.5" y="211.2" font-size="20" stroke-width="0.51">5</text>
<circle cx="1331.3" cy="233.1" r="6.5" fill="#1f2527"/>
<text x="1357.5" y="240.3" font-size="20" stroke-width="0.51">10</text>
<circle cx="1331.3" cy="262.1" r="8.0" fill="#1f2527"/>
<text x="1357.5" y="269.3" font-size="20" stroke-width="0.51">20</text>
<circle cx="1331.3" cy="291.2" r="9.3" fill="#1f2527"/>
<text x="1357.5" y="298.4" font-size="20" stroke-width="0.51">30</text>
<circle cx="1475.8" cy="204.0" r="3.4" fill="#33d052" fill-opacity="0.82" stroke="#33d052" stroke-width="0.9"/>
<text x="1502.3" y="211.2" font-size="20" stroke-width="0.51">Infectious diseases</text>
<circle cx="1475.8" cy="233.1" r="3.4" fill="#e8500f" fill-opacity="0.82" stroke="#e8500f" stroke-width="0.9"/>
<text x="1502.3" y="240.3" font-size="20" stroke-width="0.51">Neoplasms</text>
<circle cx="1475.8" cy="262.1" r="3.4" fill="#6c7fe8" fill-opacity="0.82" stroke="#6c7fe8" stroke-width="0.9"/>
<text x="1502.3" y="269.3" font-size="20" stroke-width="0.51">Hematology</text>
<circle cx="1475.8" cy="291.2" r="3.4" fill="#fc33ec" fill-opacity="0.82" stroke="#fc33ec" stroke-width="0.9"/>
<text x="1502.3" y="298.4" font-size="20" stroke-width="0.51">Endocrine and metabolic</text>
<circle cx="1475.8" cy="320.3" r="3.4" fill="#5bd422" fill-opacity="0.82" stroke="#5bd422" stroke-width="0.9"/>
<text x="1502.3" y="327.5" font-size="20" stroke-width="0.51">Mental disorders</text>
<circle cx="1475.8" cy="349.4" r="3.4" fill="#e8a416" fill-opacity="0.82" stroke="#e8a416" stroke-width="0.9"/>
<text x="1502.3" y="356.6" font-size="20" stroke-width="0.51">Nervous system</text>
<circle cx="1475.8" cy="378.4" r="3.4" fill="#a8700f" fill-opacity="0.82" stroke="#a8700f" stroke-width="0.9"/>
<text x="1502.3" y="385.6" font-size="20" stroke-width="0.51">Eye and ear</text>
<circle cx="1475.8" cy="407.5" r="3.4" fill="#5fe08a" fill-opacity="0.82" stroke="#5fe08a" stroke-width="0.9"/>
<text x="1502.3" y="414.7" font-size="20" stroke-width="0.51">Circulatory system</text>
<circle cx="1751.2" cy="204.0" r="3.4" fill="#fa6b5c" fill-opacity="0.82" stroke="#fa6b5c" stroke-width="0.9"/>
<text x="1777.6" y="211.2" font-size="20" stroke-width="0.51">Respiratory system</text>
<circle cx="1751.2" cy="233.1" r="3.4" fill="#7ba3eb" fill-opacity="0.82" stroke="#7ba3eb" stroke-width="0.9"/>
<text x="1777.6" y="240.3" font-size="20" stroke-width="0.51">Digestive system</text>
<circle cx="1751.2" cy="262.1" r="3.4" fill="#e86ef8" fill-opacity="0.82" stroke="#e86ef8" stroke-width="0.9"/>
<text x="1777.6" y="269.3" font-size="20" stroke-width="0.51">Skin and subcutaneous tissue</text>
<circle cx="1751.2" cy="291.2" r="3.4" fill="#7bee3a" fill-opacity="0.82" stroke="#7bee3a" stroke-width="0.9"/>
<text x="1777.6" y="298.4" font-size="20" stroke-width="0.51">Musculoskeletal and connective tissue</text>
<circle cx="1751.2" cy="320.3" r="3.4" fill="#fad925" fill-opacity="0.82" stroke="#fad925" stroke-width="0.9"/>
<text x="1777.6" y="327.5" font-size="20" stroke-width="0.51">Genitourinary system</text>
<circle cx="1751.2" cy="349.4" r="3.4" fill="#e4b87a" fill-opacity="0.82" stroke="#e4b87a" stroke-width="0.9"/>
<text x="1777.6" y="356.6" font-size="20" stroke-width="0.51">Abnormal findings</text>
<circle cx="1751.2" cy="378.4" r="3.4" fill="#5e6868" fill-opacity="0.82" stroke="#5e6868" stroke-width="0.9"/>
<text x="1777.6" y="385.6" font-size="20" stroke-width="0.51">Health status</text>
</g>
<g id="panel-b">
<text x="0.6" y="787.6" font-size="22.5" stroke-width="0.50" font-weight="bold">b</text>
<text x="338.3" y="862.0" font-size="26.8" stroke-width="0.60" text-anchor="middle" textLength="295.0" lengthAdjust="spacingAndGlyphs">Hematopoietic neoplasm</text>
<text x="752.0" y="862.0" font-size="26.8" stroke-width="0.60" text-anchor="middle" textLength="86.5" lengthAdjust="spacingAndGlyphs">Cancer</text>
<text x="142.4" y="911.0" font-size="27" stroke-width="0.60" text-anchor="end">CH</text>
<text x="142.4" y="974.2" font-size="27" stroke-width="0.60" text-anchor="end">CH large</text>
<text x="142.4" y="1037.3" font-size="27" stroke-width="0.60" text-anchor="end">CH small</text>
<text x="143.4" y="1100.5" font-size="27" stroke-width="0.60" text-anchor="end" font-style="italic">DNMT3A</text>
<text x="143.4" y="1163.7" font-size="27" stroke-width="0.60" text-anchor="end" font-style="italic">TET2</text>
<text x="143.4" y="1226.9" font-size="27" stroke-width="0.60" text-anchor="end" font-style="italic">ASXL1</text>
<text x="143.4" y="1290.0" font-size="27" stroke-width="0.60" text-anchor="end" font-style="italic">JAK2</text>
<text x="143.6" y="1340.7" font-size="27" stroke-width="0.60" text-anchor="end" font-style="italic">SRSF2</text>
<text x="142.4" y="1366.6" font-size="27" stroke-width="0.60" text-anchor="end" font-style="italic">+SF3B1</text>
<g stroke="#e8dede" stroke-opacity="0.28" stroke-width="0.6">
<rect x="157.2" y="872.3" width="60.37" height="63.18" fill="#e2525b"/>
<rect x="217.6" y="872.3" width="60.37" height="63.18" fill="#bb0030"/>
<rect x="277.9" y="872.3" width="60.37" height="63.18" fill="#9f0030"/>
<rect x="338.3" y="872.3" width="60.37" height="63.18" fill="#b00030"/>
<rect x="398.7" y="872.3" width="60.37" height="63.18" fill="#bb0030"/>
<rect x="459.0" y="872.3" width="60.37" height="63.18" fill="#f0807a"/>
<rect x="540.5" y="872.3" width="60.41" height="63.18" fill="#fae8e6"/>
<rect x="600.9" y="872.3" width="60.41" height="63.18" fill="#faf3f0"/>
<rect x="661.3" y="872.3" width="60.41" height="63.18" fill="#f4a19b"/>
<rect x="721.7" y="872.3" width="60.41" height="63.18" fill="#f8c6c1"/>
<rect x="782.2" y="872.3" width="60.41" height="63.18" fill="#fbcdcc"/>
<rect x="842.6" y="872.3" width="60.41" height="63.18" fill="#f8c8c5"/>
<rect x="903.0" y="872.3" width="60.41" height="63.18" fill="#ee8079"/>
<rect x="157.2" y="935.5" width="60.37" height="63.18" fill="#d42241"/>
<rect x="217.6" y="935.5" width="60.37" height="63.18" fill="#6e002b"/>
<rect x="277.9" y="935.5" width="60.37" height="63.18" fill="#6e002b"/>
<rect x="338.3" y="935.5" width="60.37" height="63.18" fill="#6e002b"/>
<rect x="398.7" y="935.5" width="60.37" height="63.18" fill="#6e002b"/>
<rect x="459.0" y="935.5" width="60.37" height="63.18" fill="#e2525a"/>
<rect x="540.5" y="935.5" width="60.41" height="63.18" fill="#f8d5d1"/>
<rect x="600.9" y="935.5" width="60.41" height="63.18" fill="#fbe0e0"/>
<rect x="661.3" y="935.5" width="60.41" height="63.18" fill="#f1918a"/>
<rect x="721.7" y="935.5" width="60.41" height="63.18" fill="#f29089"/>
<rect x="782.2" y="935.5" width="60.41" height="63.18" fill="#f6ada8"/>
<rect x="842.6" y="935.5" width="60.41" height="63.18" fill="#ee8079"/>
<rect x="903.0" y="935.5" width="60.41" height="63.18" fill="#ee7c78"/>
<rect x="157.2" y="998.6" width="60.37" height="63.18" fill="#f3918b"/>
<rect x="217.6" y="998.6" width="60.37" height="63.18" fill="#e14959"/>
<rect x="277.9" y="998.6" width="60.37" height="63.18" fill="#d0213a"/>
<rect x="338.3" y="998.6" width="60.37" height="63.18" fill="#d73a4a"/>
<rect x="398.7" y="998.6" width="60.37" height="63.18" fill="#ee7676"/>
<rect x="459.0" y="998.6" width="60.37" height="63.18" fill="#f9bcba"/>
<rect x="540.5" y="998.6" width="60.41" height="63.18" fill="#faf4f2"/>
<rect x="600.9" y="998.6" width="60.41" height="63.18" fill="#fcf8f8"/>
<rect x="661.3" y="998.6" width="60.41" height="63.18" fill="#f6ada8"/>
<rect x="721.7" y="998.6" width="60.41" height="63.18" fill="#faf0ee"/>
<rect x="782.2" y="998.6" width="60.41" height="63.18" fill="#f8ecea"/>
<rect x="842.6" y="998.6" width="60.41" height="63.18" fill="#c9eceb"/>
<rect x="903.0" y="998.6" width="60.41" height="63.18" fill="#ee8079"/>
<rect x="157.2" y="1061.8" width="60.37" height="63.18" fill="#f6a2a1"/>
<rect x="217.6" y="1061.8" width="60.37" height="63.18" fill="#e04a5a"/>
<rect x="277.9" y="1061.8" width="60.37" height="63.18" fill="#c41232"/>
<rect x="338.3" y="1061.8" width="60.37" height="63.18" fill="#707c7c"/>
<rect x="398.7" y="1061.8" width="60.37" height="63.18" fill="#ee7a7a"/>
<rect x="459.0" y="1061.8" width="60.37" height="63.18" fill="#f6ada9"/>
<rect x="540.5" y="1061.8" width="60.41" height="63.18" fill="#faeeec"/>
<rect x="600.9" y="1061.8" width="60.41" height="63.18" fill="#faf3f0"/>
<rect x="661.3" y="1061.8" width="60.41" height="63.18" fill="#ea7272"/>
<rect x="721.7" y="1061.8" width="60.41" height="63.18" fill="#f4a19a"/>
<rect x="782.2" y="1061.8" width="60.41" height="63.18" fill="#ffffff"/>
<rect x="842.6" y="1061.8" width="60.41" height="63.18" fill="#f8c1bd"/>
<rect x="903.0" y="1061.8" width="60.41" height="63.18" fill="#ee8079"/>
<rect x="157.2" y="1125.0" width="60.37" height="63.18" fill="#e45662"/>
<rect x="217.6" y="1125.0" width="60.37" height="63.18" fill="#c41232"/>
<rect x="277.9" y="1125.0" width="60.37" height="63.18" fill="#707c7c"/>
<rect x="338.3" y="1125.0" width="60.37" height="63.18" fill="#a0002a"/>
<rect x="398.7" y="1125.0" width="60.37" height="63.18" fill="#d83246"/>
<rect x="459.0" y="1125.0" width="60.37" height="63.18" fill="#707c7c"/>
<rect x="540.5" y="1125.0" width="60.41" height="63.18" fill="#f8d9d5"/>
<rect x="600.9" y="1125.0" width="60.41" height="63.18" fill="#fbdfde"/>
<rect x="661.3" y="1125.0" width="60.41" height="63.18" fill="#707c7c"/>
<rect x="721.7" y="1125.0" width="60.41" height="63.18" fill="#f9c5c3"/>
<rect x="782.2" y="1125.0" width="60.41" height="63.18" fill="#f0867a"/>
<rect x="842.6" y="1125.0" width="60.41" height="63.18" fill="#ee8079"/>
<rect x="903.0" y="1125.0" width="60.41" height="63.18" fill="#707c7c"/>
<rect x="157.2" y="1188.2" width="60.37" height="63.18" fill="#e6626a"/>
<rect x="217.6" y="1188.2" width="60.37" height="63.18" fill="#a8002a"/>
<rect x="277.9" y="1188.2" width="60.37" height="63.18" fill="#707c7c"/>
<rect x="338.3" y="1188.2" width="60.37" height="63.18" fill="#707c7c"/>
<rect x="398.7" y="1188.2" width="60.37" height="63.18" fill="#6e002b"/>
<rect x="459.0" y="1188.2" width="60.37" height="63.18" fill="#707c7c"/>
<rect x="540.5" y="1188.2" width="60.41" height="63.18" fill="#ffffff"/>
<rect x="600.9" y="1188.2" width="60.41" height="63.18" fill="#f2f8fa"/>
<rect x="661.3" y="1188.2" width="60.41" height="63.18" fill="#707c7c"/>
<rect x="721.7" y="1188.2" width="60.41" height="63.18" fill="#707c7c"/>
<rect x="782.2" y="1188.2" width="60.41" height="63.18" fill="#707c7c"/>
<rect x="842.6" y="1188.2" width="60.41" height="63.18" fill="#707c7c"/>
<rect x="903.0" y="1188.2" width="60.41" height="63.18" fill="#707c7c"/>
<rect x="157.2" y="1251.3" width="60.37" height="63.18" fill="#6e002b"/>
<rect x="217.6" y="1251.3" width="60.37" height="63.18" fill="#6e002b"/>
<rect x="277.9" y="1251.3" width="60.37" height="63.18" fill="#707c7c"/>
<rect x="338.3" y="1251.3" width="60.37" height="63.18" fill="#707c7c"/>
<rect x="398.7" y="1251.3" width="60.37" height="63.18" fill="#6e002b"/>
<rect x="459.0" y="1251.3" width="60.37" height="63.18" fill="#707c7c"/>
<rect x="540.5" y="1251.3" width="60.41" height="63.18" fill="#faf4f0"/>
<rect x="600.9" y="1251.3" width="60.41" height="63.18" fill="#707c7c"/>
<rect x="661.3" y="1251.3" width="60.41" height="63.18" fill="#707c7c"/>
<rect x="721.7" y="1251.3" width="60.41" height="63.18" fill="#707c7c"/>
<rect x="782.2" y="1251.3" width="60.41" height="63.18" fill="#707c7c"/>
<rect x="842.6" y="1251.3" width="60.41" height="63.18" fill="#707c7c"/>
<rect x="903.0" y="1251.3" width="60.41" height="63.18" fill="#707c7c"/>
<rect x="157.2" y="1314.5" width="60.37" height="63.18" fill="#6e002b"/>
<rect x="217.6" y="1314.5" width="60.37" height="63.18" fill="#6e002b"/>
<rect x="277.9" y="1314.5" width="60.37" height="63.18" fill="#6e002b"/>
<rect x="338.3" y="1314.5" width="60.37" height="63.18" fill="#6e002b"/>
<rect x="398.7" y="1314.5" width="60.37" height="63.18" fill="#707c7c"/>
<rect x="459.0" y="1314.5" width="60.37" height="63.18" fill="#707c7c"/>
<rect x="540.5" y="1314.5" width="60.41" height="63.18" fill="#f0867a"/>
<rect x="600.9" y="1314.5" width="60.41" height="63.18" fill="#f6ada6"/>
<rect x="661.3" y="1314.5" width="60.41" height="63.18" fill="#707c7c"/>
<rect x="721.7" y="1314.5" width="60.41" height="63.18" fill="#707c7c"/>
<rect x="782.2" y="1314.5" width="60.41" height="63.18" fill="#707c7c"/>
<rect x="842.6" y="1314.5" width="60.41" height="63.18" fill="#707c7c"/>
<rect x="903.0" y="1314.5" width="60.41" height="63.18" fill="#707c7c"/>
</g>
<g text-anchor="middle">
<text x="187.4" y="920.2" font-size="31" stroke-width="1.5">*</text>
<text x="247.8" y="920.2" font-size="31" stroke-width="1.5">*</text>
<text x="308.1" y="920.2" font-size="31" stroke-width="1.5">*</text>
<text x="368.5" y="920.2" font-size="31" stroke-width="1.5">*</text>
<text x="428.8" y="920.2" font-size="31" stroke-width="1.5">*</text>
<text x="489.2" y="909.5" font-size="12.5" stroke-width="0.8">*</text>
<text x="570.7" y="909.5" font-size="12.5" stroke-width="0.8">*</text>
<text x="631.1" y="909.5" font-size="12.5" stroke-width="0.8">*</text>
<text x="691.5" y="909.5" font-size="12.5" stroke-width="0.8">*</text>
<text x="933.2" y="909.5" font-size="12.5" stroke-width="0.8">*</text>
<text x="187.4" y="983.4" font-size="31" stroke-width="1.5">*</text>
<text x="247.8" y="983.4" font-size="31" stroke-width="1.5">*</text>
<text x="308.1" y="983.4" font-size="31" stroke-width="1.5">*</text>
<text x="368.5" y="983.4" font-size="31" stroke-width="1.5">*</text>
<text x="428.8" y="983.4" font-size="31" stroke-width="1.5">*</text>
<text x="489.2" y="972.7" font-size="12.5" stroke-width="0.8">*</text>
<text x="570.7" y="977.5" font-size="21" stroke-width="1.1">*</text>
<text x="631.1" y="972.7" font-size="12.5" stroke-width="0.8">*</text>
<text x="691.5" y="972.7" font-size="12.5" stroke-width="0.8">*</text>
<text x="752.0" y="972.7" font-size="12.5" stroke-width="0.8">*</text>
<text x="872.8" y="972.7" font-size="12.5" stroke-width="0.8">*</text>
<text x="933.2" y="972.7" font-size="12.5" stroke-width="0.8">*</text>
<text x="187.4" y="1040.6" font-size="21" stroke-width="1.1">*</text>
<text x="247.8" y="1040.6" font-size="21" stroke-width="1.1">*</text>
<text x="308.1" y="1040.6" font-size="21" stroke-width="1.1">*</text>
<text x="368.5" y="1040.6" font-size="21" stroke-width="1.1">*</text>
<text x="428.8" y="1035.8" font-size="12.5" stroke-width="0.8">*</text>
<text x="933.2" y="1035.8" font-size="12.5" stroke-width="0.8">*</text>
<text x="187.4" y="1099.0" font-size="12.5" stroke-width="0.8">*</text>
<text x="247.8" y="1103.8" font-size="21" stroke-width="1.1">*</text>
<text x="428.8" y="1099.0" font-size="12.5" stroke-width="0.8">*</text>
<text x="691.5" y="1103.8" font-size="21" stroke-width="1.1">*</text>
<text x="752.0" y="1099.0" font-size="12.5" stroke-width="0.8">*</text>
<text x="933.2" y="1099.0" font-size="12.5" stroke-width="0.8">*</text>
<text x="187.4" y="1167.0" font-size="21" stroke-width="1.1">*</text>
<text x="247.8" y="1172.9" font-size="31" stroke-width="1.5">*</text>
<text x="368.5" y="1167.0" font-size="21" stroke-width="1.1">*</text>
<text x="428.8" y="1167.0" font-size="21" stroke-width="1.1">*</text>
<text x="570.7" y="1162.2" font-size="12.5" stroke-width="0.8">*</text>
<text x="812.4" y="1162.2" font-size="12.5" stroke-width="0.8">*</text>
<text x="872.8" y="1162.2" font-size="12.5" stroke-width="0.8">*</text>
<text x="187.4" y="1225.4" font-size="12.5" stroke-width="0.8">*</text>
<text x="247.8" y="1230.2" font-size="21" stroke-width="1.1">*</text>
<text x="428.8" y="1230.2" font-size="21" stroke-width="1.1">*</text>
<text x="187.4" y="1299.2" font-size="31" stroke-width="1.5">*</text>
<text x="247.8" y="1299.2" font-size="31" stroke-width="1.5">*</text>
<text x="428.8" y="1299.2" font-size="31" stroke-width="1.5">*</text>
<text x="187.4" y="1362.4" font-size="31" stroke-width="1.5">*</text>
<text x="247.8" y="1362.4" font-size="31" stroke-width="1.5">*</text>
<text x="308.1" y="1362.4" font-size="31" stroke-width="1.5">*</text>
<text x="368.5" y="1362.4" font-size="31" stroke-width="1.5">*</text>
<text x="570.7" y="1351.7" font-size="12.5" stroke-width="0.8">*</text>
</g>
<text transform="translate(200.9,1400.0) rotate(-45)" font-size="26.7" stroke-width="0.6" text-anchor="end">Any neoplasm</text>
<text transform="translate(261.2,1400.0) rotate(-45)" font-size="26.7" stroke-width="0.6" text-anchor="end">Myeloid neplasm</text>
<text transform="translate(321.6,1400.0) rotate(-45)" font-size="26.7" stroke-width="0.6" text-anchor="end">AML</text>
<text transform="translate(382.0,1400.0) rotate(-45)" font-size="26.7" stroke-width="0.6" text-anchor="end">MDS</text>
<text transform="translate(442.3,1400.0) rotate(-45)" font-size="26.7" stroke-width="0.6" text-anchor="end">MPN</text>
<text transform="translate(502.7,1400.0) rotate(-45)" font-size="26.7" stroke-width="0.6" text-anchor="end">Lymphoid leukemia</text>
<text transform="translate(584.2,1400.0) rotate(-45)" font-size="26.7" stroke-width="0.6" text-anchor="end">Malignant neoplasm</text>
<text transform="translate(644.6,1400.0) rotate(-45)" font-size="26.7" stroke-width="0.6" text-anchor="end">Non−hematopoietic neoplasm</text>
<text transform="translate(705.0,1400.0) rotate(-45)" font-size="26.7" stroke-width="0.6" text-anchor="end">Lung</text>
<text transform="translate(765.5,1400.0) rotate(-45)" font-size="26.7" stroke-width="0.6" text-anchor="end">Lymphoma</text>
<text transform="translate(825.9,1400.0) rotate(-45)" font-size="26.7" stroke-width="0.6" text-anchor="end">Kidney</text>
<text transform="translate(886.3,1400.0) rotate(-45)" font-size="26.7" stroke-width="0.6" text-anchor="end">Bladder</text>
<text transform="translate(946.7,1400.0) rotate(-45)" font-size="26.7" stroke-width="0.6" text-anchor="end">Brain</text>
<text x="997.3" y="974.6" font-size="17.8" stroke-width="0.56">HR</text>
<defs><linearGradient id="hr" x1="0" y1="0" x2="0" y2="1"><stop offset="0" stop-color="#5a0028"/><stop offset="0.06" stop-color="#75002c"/><stop offset="0.16" stop-color="#c0002e"/><stop offset="0.28" stop-color="#df4250"/><stop offset="0.39" stop-color="#f18f86"/><stop offset="0.47" stop-color="#fbe3df"/><stop offset="0.50" stop-color="#ffffff"/><stop offset="0.54" stop-color="#d8f2f1"/><stop offset="0.62" stop-color="#86dde9"/><stop offset="0.73" stop-color="#4aa6e4"/><stop offset="0.85" stop-color="#1d6ee0"/><stop offset="0.95" stop-color="#1040b0"/><stop offset="1" stop-color="#0e3290"/></linearGradient></defs>
<rect x="997" y="985.2" width="29.6" height="146" fill="url(#hr)"/>
<path d="M997 991.5h6M1020.6 991.5h6" stroke="#fff" stroke-opacity="0.55" stroke-width="0.8"/>
<text x="1035.0" y="997.0" font-size="15.2" stroke-width="0.62">&gt;16</text>
<path d="M997 1008.2h6M1020.6 1008.2h6" stroke="#fff" stroke-opacity="0.55" stroke-width="0.8"/>
<text x="1035.0" y="1013.7" font-size="15.2" stroke-width="0.62">8</text>
<path d="M997 1024.9h6M1020.6 1024.9h6" stroke="#fff" stroke-opacity="0.55" stroke-width="0.8"/>
<text x="1035.0" y="1030.4" font-size="15.2" stroke-width="0.62">4</text>
<path d="M997 1041.7h6M1020.6 1041.7h6" stroke="#fff" stroke-opacity="0.55" stroke-width="0.8"/>
<text x="1035.0" y="1047.2" font-size="15.2" stroke-width="0.62">2</text>
<text x="1035.0" y="1063.9" font-size="15.2" stroke-width="0.62">1</text>
<path d="M997 1075.1h6M1020.6 1075.1h6" stroke="#fff" stroke-opacity="0.55" stroke-width="0.8"/>
<text x="1035.0" y="1080.6" font-size="15.2" stroke-width="0.62">0.5</text>
<path d="M997 1091.8h6M1020.6 1091.8h6" stroke="#fff" stroke-opacity="0.55" stroke-width="0.8"/>
<text x="1035.0" y="1097.3" font-size="15.2" stroke-width="0.62">0.25</text>
<path d="M997 1108.5h6M1020.6 1108.5h6" stroke="#fff" stroke-opacity="0.55" stroke-width="0.8"/>
<text x="1035.0" y="1114.0" font-size="15.2" stroke-width="0.62">0.125</text>
<path d="M997 1125.3h6M1020.6 1125.3h6" stroke="#fff" stroke-opacity="0.55" stroke-width="0.8"/>
<text x="1035.0" y="1130.8" font-size="15.2" stroke-width="0.62">&lt;0.0625</text>
<text x="997.3" y="1183.8" font-size="18" stroke-width="0.55">P−val</text>
<text x="1016.2" y="1215.1" font-size="12.5" stroke-width="0.8" text-anchor="middle">*</text>
<text x="1016.2" y="1249.3" font-size="21" stroke-width="1.1" text-anchor="middle">*</text>
<text x="1016.2" y="1288.5" font-size="31" stroke-width="1.5" text-anchor="middle">*</text>
<text x="1044.5" y="1215.3" font-size="15.2" stroke-width="0.62">&lt;0.05</text>
<text x="1044.5" y="1244.7" font-size="15.2" stroke-width="0.62">&lt;1e−03</text>
<text x="1044.5" y="1278.0" font-size="15.2" stroke-width="0.62">&lt;1e−10</text>
</g>
<g id="panel-c">
<text x="1150.0" y="787.8" font-size="22.5" stroke-width="0.50" font-weight="bold">c</text>
<text x="1528.0" y="856.2" font-size="30.8" stroke-width="0.40">CVD</text>
<rect x="1529.0" y="944.4" width="550.6" height="72.2" fill="#dde1de"/>
<rect x="1529.0" y="1088.9" width="550.6" height="72.2" fill="#dde1de"/>
<rect x="1529.0" y="1233.3" width="550.6" height="72.2" fill="#dde1de"/>
<line x1="1625.8" y1="872.2" x2="1625.8" y2="1377.8" stroke="#000" stroke-width="2.2" stroke-dasharray="7.9 6.5" stroke-dashoffset="5.8"/>
<text x="1520.3" y="919.2" font-size="30.3" stroke-width="0.40" text-anchor="end">Myocardial infarction</text>
<line x1="1524" y1="908.3" x2="1529.0" y2="908.3" stroke="#000" stroke-width="1.6"/>
<line x1="1707.2" y1="886.3" x2="1811.2" y2="886.3" stroke="#1b3ede" stroke-width="2"/>
<path d="M1755.7 880.4L1761.6 886.3L1755.7 892.2L1749.8 886.3Z" fill="#1b3ede"/>
<line x1="1696.1" y1="900.8" x2="1797.3" y2="900.8" stroke="#1b3ede" stroke-width="2"/>
<path d="M1743.7 893.3L1750.4 904.9L1737.0 904.9Z" fill="#1b3ede"/>
<line x1="1618.4" y1="915.7" x2="1700.3" y2="915.7" stroke="#000000" stroke-width="2"/>
<rect x="1652.2" y="911.1" width="9.2" height="9.2" fill="#000000"/>
<line x1="1610.1" y1="930.2" x2="1691.0" y2="930.2" stroke="#000000" stroke-width="2"/>
<circle cx="1648.0" cy="930.2" r="5.2" fill="#000000"/>
<text x="1520.3" y="991.4" font-size="30.3" stroke-width="0.40" text-anchor="end">Stroke</text>
<line x1="1524" y1="980.5" x2="1529.0" y2="980.5" stroke="#000" stroke-width="1.6"/>
<line x1="1680.8" y1="958.5" x2="1808.0" y2="958.5" stroke="#1b3ede" stroke-width="2"/>
<path d="M1739.5 952.6L1745.4 958.5L1739.5 964.4L1733.6 958.5Z" fill="#1b3ede"/>
<line x1="1671.6" y1="973.0" x2="1796.4" y2="973.0" stroke="#1b3ede" stroke-width="2"/>
<path d="M1728.9 965.5L1735.6 977.1L1722.2 977.1Z" fill="#1b3ede"/>
<line x1="1587.9" y1="987.9" x2="1685.0" y2="987.9" stroke="#000000" stroke-width="2"/>
<rect x="1628.6" y="983.3" width="9.2" height="9.2" fill="#000000"/>
<line x1="1581.5" y1="1002.4" x2="1677.1" y2="1002.4" stroke="#000000" stroke-width="2"/>
<circle cx="1625.8" cy="1002.4" r="5.2" fill="#000000"/>
<text x="1520.3" y="1063.7" font-size="30.3" stroke-width="0.40" text-anchor="end">Ischaemic stroke</text>
<line x1="1524" y1="1052.8" x2="1529.0" y2="1052.8" stroke="#000" stroke-width="1.6"/>
<line x1="1640.6" y1="1030.8" x2="1771.4" y2="1030.8" stroke="#1b3ede" stroke-width="2"/>
<path d="M1700.7 1024.9L1706.6 1030.8L1700.7 1036.7L1694.8 1030.8Z" fill="#1b3ede"/>
<line x1="1633.2" y1="1045.3" x2="1761.7" y2="1045.3" stroke="#1b3ede" stroke-width="2"/>
<path d="M1691.9 1037.8L1698.6 1049.4L1685.2 1049.4Z" fill="#1b3ede"/>
<line x1="1552.8" y1="1060.2" x2="1650.8" y2="1060.2" stroke="#000000" stroke-width="2"/>
<rect x="1593.0" y="1055.6" width="9.2" height="9.2" fill="#000000"/>
<line x1="1547.7" y1="1074.7" x2="1644.8" y2="1074.7" stroke="#000000" stroke-width="2"/>
<circle cx="1592.5" cy="1074.7" r="5.2" fill="#000000"/>
<text x="1520.3" y="1135.9" font-size="30.3" stroke-width="0.40" text-anchor="end" textLength="326.6" lengthAdjust="spacingAndGlyphs">Coronary artery disease</text>
<line x1="1524" y1="1125.0" x2="1529.0" y2="1125.0" stroke="#000" stroke-width="1.6"/>
<line x1="1708.1" y1="1103.0" x2="1776.1" y2="1103.0" stroke="#1b3ede" stroke-width="2"/>
<path d="M1740.5 1097.1L1746.4 1103.0L1740.5 1108.9L1734.6 1103.0Z" fill="#1b3ede"/>
<line x1="1697.9" y1="1117.5" x2="1764.5" y2="1117.5" stroke="#1b3ede" stroke-width="2"/>
<path d="M1729.8 1110.0L1736.5 1121.6L1723.1 1121.6Z" fill="#1b3ede"/>
<line x1="1616.1" y1="1132.4" x2="1668.8" y2="1132.4" stroke="#000000" stroke-width="2"/>
<rect x="1636.5" y="1127.8" width="9.2" height="9.2" fill="#000000"/>
<line x1="1609.7" y1="1146.9" x2="1662.4" y2="1146.9" stroke="#000000" stroke-width="2"/>
<circle cx="1634.6" cy="1146.9" r="5.2" fill="#000000"/>
<text x="1520.3" y="1208.1" font-size="30.3" stroke-width="0.40" text-anchor="end">Heart Failure</text>
<line x1="1524" y1="1197.2" x2="1529.0" y2="1197.2" stroke="#000" stroke-width="1.6"/>
<line x1="1812.6" y1="1175.2" x2="1939.7" y2="1175.2" stroke="#1b3ede" stroke-width="2"/>
<path d="M1872.7 1169.3L1878.6 1175.2L1872.7 1181.1L1866.8 1175.2Z" fill="#1b3ede"/>
<line x1="1795.0" y1="1189.7" x2="1918.4" y2="1189.7" stroke="#1b3ede" stroke-width="2"/>
<path d="M1853.3 1182.2L1860.0 1193.8L1846.6 1193.8Z" fill="#1b3ede"/>
<line x1="1670.2" y1="1204.6" x2="1762.7" y2="1204.6" stroke="#1b3ede" stroke-width="2"/>
<rect x="1709.1" y="1200.0" width="9.2" height="9.2" fill="#1b3ede"/>
<line x1="1660.5" y1="1219.1" x2="1751.1" y2="1219.1" stroke="#1b3ede" stroke-width="2"/>
<circle cx="1703.0" cy="1219.1" r="5.2" fill="#1b3ede"/>
<text x="1520.3" y="1280.4" font-size="30.3" stroke-width="0.40" text-anchor="end">Atrial Fibrillation</text>
<line x1="1524" y1="1269.5" x2="1529.0" y2="1269.5" stroke="#000" stroke-width="1.6"/>
<line x1="1771.4" y1="1247.5" x2="1852.3" y2="1247.5" stroke="#1b3ede" stroke-width="2"/>
<path d="M1810.3 1241.6L1816.2 1247.5L1810.3 1253.4L1804.4 1247.5Z" fill="#1b3ede"/>
<line x1="1760.3" y1="1262.0" x2="1839.9" y2="1262.0" stroke="#1b3ede" stroke-width="2"/>
<path d="M1798.7 1254.5L1805.4 1266.1L1792.0 1266.1Z" fill="#1b3ede"/>
<line x1="1642.0" y1="1276.9" x2="1701.2" y2="1276.9" stroke="#1b3ede" stroke-width="2"/>
<rect x="1665.6" y="1272.3" width="9.2" height="9.2" fill="#1b3ede"/>
<line x1="1638.3" y1="1291.4" x2="1697.5" y2="1291.4" stroke="#1b3ede" stroke-width="2"/>
<circle cx="1666.5" cy="1291.4" r="5.2" fill="#1b3ede"/>
<text x="1520.3" y="1352.6" font-size="30.3" stroke-width="0.40" text-anchor="end">Composite</text>
<line x1="1524" y1="1341.7" x2="1529.0" y2="1341.7" stroke="#000" stroke-width="1.6"/>
<line x1="1732.2" y1="1319.7" x2="1785.8" y2="1319.7" stroke="#1b3ede" stroke-width="2"/>
<path d="M1758.0 1313.8L1763.9 1319.7L1758.0 1325.6L1752.1 1319.7Z" fill="#1b3ede"/>
<line x1="1722.4" y1="1334.2" x2="1776.1" y2="1334.2" stroke="#1b3ede" stroke-width="2"/>
<path d="M1748.3 1326.7L1755.0 1338.3L1741.6 1338.3Z" fill="#1b3ede"/>
<line x1="1629.1" y1="1349.1" x2="1670.2" y2="1349.1" stroke="#1b3ede" stroke-width="2"/>
<rect x="1643.9" y="1344.5" width="9.2" height="9.2" fill="#1b3ede"/>
<line x1="1623.5" y1="1363.6" x2="1665.1" y2="1363.6" stroke="#000000" stroke-width="2"/>
<circle cx="1643.4" cy="1363.6" r="5.2" fill="#000000"/>
<line x1="1529.0" y1="872.2" x2="1529.0" y2="1378.7" stroke="#000" stroke-width="1.8"/>
<line x1="1528.1" y1="1377.8" x2="2079.6" y2="1377.8" stroke="#000" stroke-width="1.8"/>
<line x1="1625.4" y1="1377.8" x2="1625.4" y2="1382.8" stroke="#000" stroke-width="1.6"/>
<text x="1625.4" y="1407.8" font-size="30" stroke-width="0.55" text-anchor="middle">1.0</text>
<line x1="1787.2" y1="1377.8" x2="1787.2" y2="1382.8" stroke="#000" stroke-width="1.6"/>
<text x="1787.2" y="1407.8" font-size="30" stroke-width="0.55" text-anchor="middle">1.5</text>
<line x1="1949.0" y1="1377.8" x2="1949.0" y2="1382.8" stroke="#000" stroke-width="1.6"/>
<text x="1949.0" y="1407.8" font-size="30" stroke-width="0.55" text-anchor="middle">2.0</text>
<text x="1803.8" y="1441.9" font-size="30.3" stroke-width="0.55" text-anchor="middle">HR [95% CI]</text>
<path d="M1611.5 1485.1l5.2 5.2l-5.2 5.2l-5.2 -5.2z" fill="none" stroke="#000" stroke-width="1.5"/>
<path d="M1782.5 1484.1l5.6 9.7h-11.2z" fill="none" stroke="#000" stroke-width="1.5"/>
<rect x="1607.6" y="1524.7" width="7.8" height="7.8" fill="none" stroke="#000" stroke-width="1.5"/>
<circle cx="1782.5" cy="1528.6" r="4.1" fill="none" stroke="#000" stroke-width="1.5"/>
<text x="1635.5" y="1497.5" font-size="20.2" stroke-width="0.60">Univariate</text>
<text x="1806.0" y="1497.5" font-size="20.2" stroke-width="0.60">Bivariate: smoking</text>
<text x="1635.5" y="1535.8" font-size="20.2" stroke-width="0.60">Bivariate: age</text>
<text x="1806.0" y="1535.8" font-size="20.2" stroke-width="0.60">Trivariate: age+smoking</text>
</g>
</svg>
</body>
</html>
